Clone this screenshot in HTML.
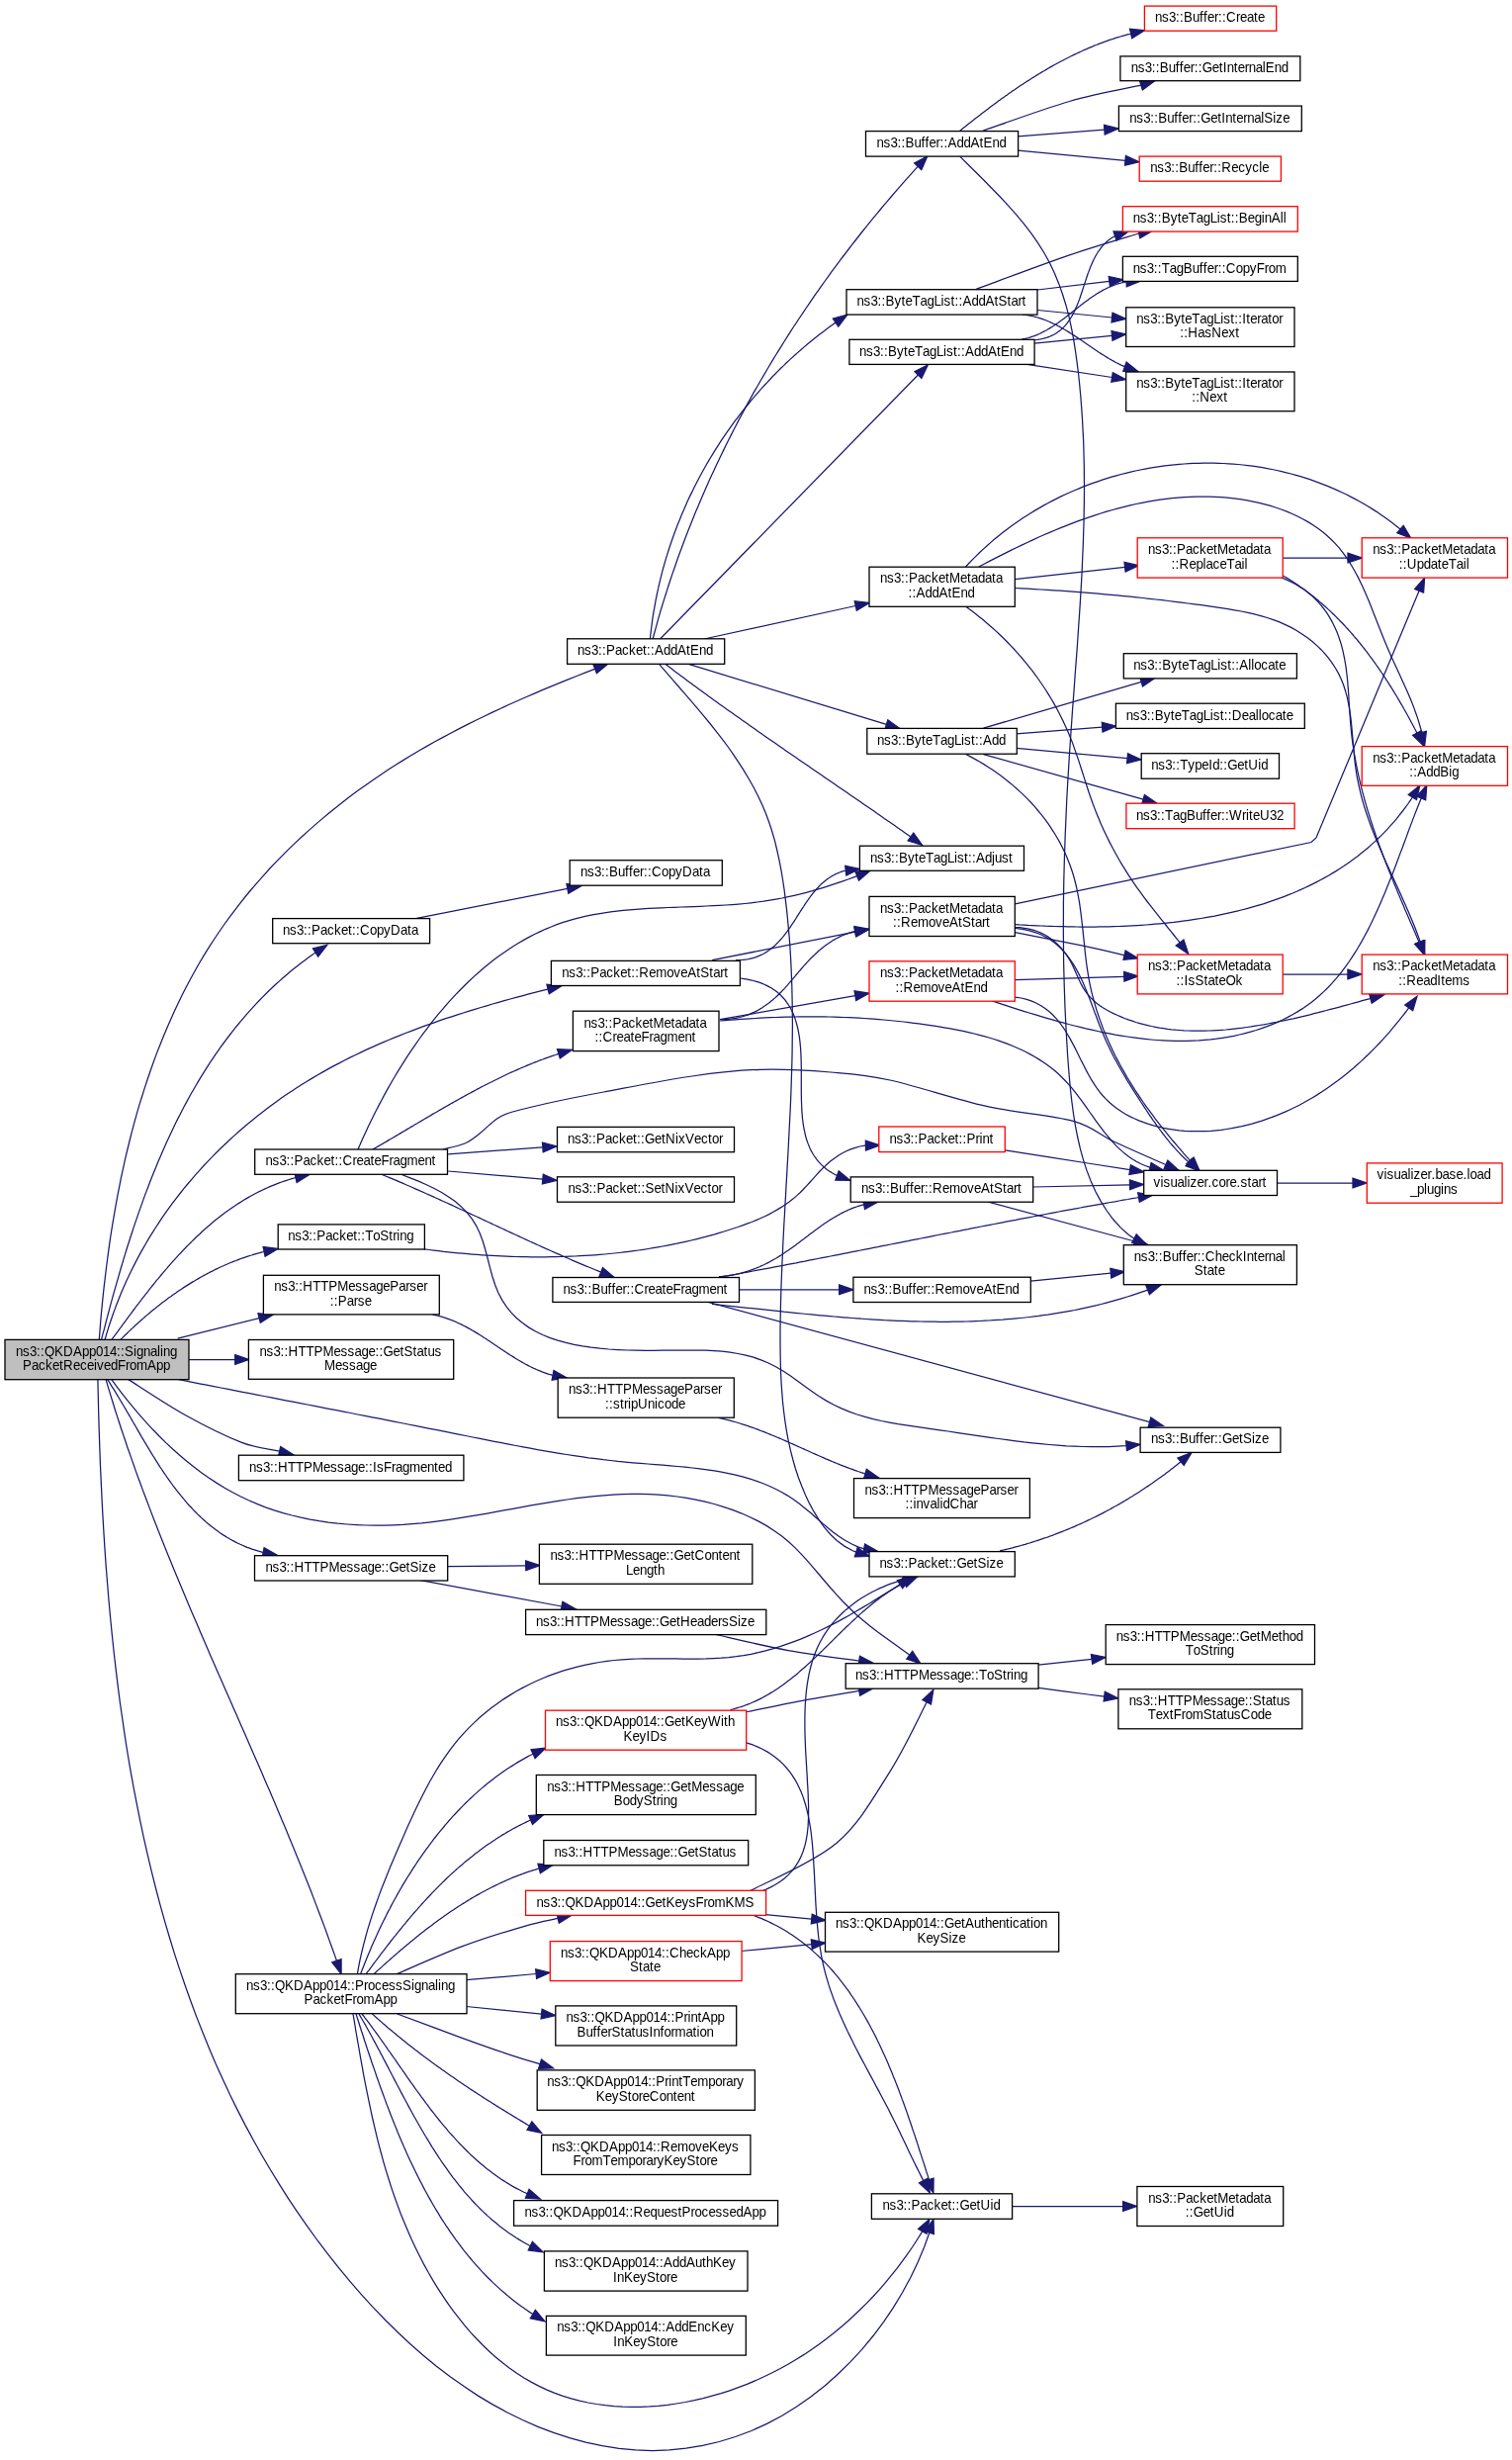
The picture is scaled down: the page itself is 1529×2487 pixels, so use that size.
<!DOCTYPE html>
<html><head><meta charset="utf-8"><style>
html,body{margin:0;padding:0;background:#fff;width:1529px;height:2487px;overflow:hidden}
svg{display:block;will-change:transform}
text{font-family:"Liberation Sans",sans-serif;font-size:13.33px;fill:#000;text-anchor:start}
.e{fill:none;stroke:#191970;stroke-width:1.25}
.a{fill:#191970;stroke:#191970;stroke-width:1.25;stroke-linejoin:miter}
.nb{fill:#fff;stroke:#000;stroke-width:1.3}
.nr{fill:#fff;stroke:#ff0000;stroke-width:1.3}
.ng{fill:#bfbfbf;stroke:#000;stroke-width:1.3}
</style></head><body>
<svg width="1529" height="2487" viewBox="0 0 1529 2487">

<path class="e" d="M660.1,646.0 L661.6,640.5 L663.1,635.1 L664.6,629.6 L666.1,624.2 L667.7,618.7 L669.3,613.3 L671.0,607.9 L672.7,602.5 L674.4,597.1 L676.1,591.7 L677.9,586.3 L679.7,580.9 L681.6,575.5 L683.4,570.2 L685.3,564.8 L687.2,559.5 L689.2,554.2 L691.2,548.8 L693.2,543.5 L695.2,538.2 L697.3,532.9 L699.4,527.7 L701.5,522.4 L703.7,517.1 L705.9,511.9 L708.1,506.7 L710.3,501.4 L712.6,496.2 L714.9,491.0 L717.2,485.8 L719.6,480.6 L722.0,475.5 L724.4,470.3 L726.8,465.2 L729.3,460.0 L731.8,454.9 L734.3,449.8 L736.8,444.7 L739.4,439.6 L742.0,434.5 L744.6,429.5 L747.2,424.4 L749.9,419.4 L752.6,414.4 L755.3,409.4 L758.1,404.4 L760.8,399.4 L763.6,394.4 L766.5,389.5 L769.3,384.5 L772.2,379.6 L775.1,374.7 L778.0,369.8 L780.9,364.9 L783.9,360.0 L786.9,355.1 L789.9,350.3 L792.9,345.5 L796.0,340.6 L799.0,335.8 L802.1,331.0 L805.3,326.3 L808.4,321.5 L811.6,316.8 L814.8,312.0 L818.0,307.3 L821.2,302.6 L824.4,297.9 L827.7,293.3 L831.0,288.6 L834.3,284.0 L837.7,279.3 L841.0,274.7 L844.4,270.2 L847.8,265.6 L851.2,261.0 L854.7,256.5 L858.1,252.0 L861.6,247.4 L865.1,243.0 L868.6,238.5 L872.1,234.0 L875.7,229.6 L879.3,225.1 L882.9,220.7 L886.5,216.4 L890.1,212.0 L893.7,207.6 L897.4,203.3 L901.1,199.0 L904.8,194.7 L908.5,190.4 L912.2,186.1 L916.0,181.9 L919.8,177.6 L923.6,173.4 L927.4,169.2 L928.2,168.3"/>
<polygon class="a" points="937.9,157.8 931.8,171.6 924.6,165.0"/>
<path class="e" d="M657.4,646.0 L657.8,642.0 L658.3,638.0 L658.8,634.0 L659.3,630.1 L659.8,626.1 L660.4,622.2 L661.1,618.2 L661.8,614.3 L662.5,610.3 L663.2,606.4 L664.0,602.5 L664.8,598.6 L665.7,594.7 L666.5,590.8 L667.5,586.9 L668.4,583.1 L669.4,579.2 L670.4,575.4 L671.5,571.5 L672.6,567.7 L673.7,563.9 L674.9,560.1 L676.1,556.3 L677.3,552.5 L678.6,548.7 L679.9,545.0 L681.2,541.2 L682.6,537.5 L684.0,533.8 L685.4,530.1 L686.9,526.4 L688.4,522.7 L689.9,519.0 L691.5,515.4 L693.1,511.8 L694.7,508.1 L696.3,504.5 L698.0,500.9 L699.8,497.4 L701.5,493.8 L703.3,490.3 L705.1,486.7 L706.9,483.2 L708.8,479.7 L710.7,476.3 L712.7,472.8 L714.6,469.3 L716.6,465.9 L718.6,462.5 L720.7,459.1 L722.8,455.7 L724.9,452.4 L727.0,449.1 L729.2,445.7 L731.4,442.4 L733.6,439.2 L735.9,435.9 L738.2,432.7 L740.5,429.4 L742.8,426.2 L745.2,423.1 L747.6,419.9 L750.0,416.8 L752.5,413.6 L755.0,410.5 L757.5,407.5 L760.0,404.4 L762.6,401.4 L765.2,398.4 L767.8,395.4 L770.4,392.4 L773.1,389.5 L775.8,386.6 L778.5,383.7 L781.2,380.8 L784.0,378.0 L786.8,375.1 L789.6,372.3 L792.5,369.6 L795.3,366.8 L798.2,364.1 L801.2,361.4 L804.1,358.7 L807.1,356.1 L810.1,353.5 L813.1,350.9 L816.1,348.3 L819.2,345.8 L822.3,343.3 L825.4,340.8 L828.5,338.3 L831.7,335.9 L834.9,333.5 L838.1,331.1 L841.3,328.8 L844.5,326.4 L845.1,326.1"/>
<polygon class="a" points="856.9,318.0 847.8,330.1 842.3,322.0"/>
<path class="e" d="M667.5,646.0L928.4,379.0"/>
<polygon class="a" points="938.4,368.8 931.9,382.5 924.9,375.6"/>
<path class="e" d="M712.0,646.0L865.2,612.5"/>
<polygon class="a" points="879.2,609.4 866.3,617.2 864.2,607.7"/>
<path class="e" d="M697.1,671.7L896.4,732.4"/>
<polygon class="a" points="910.1,736.6 895.0,737.1 897.8,727.7"/>
<path class="e" d="M673.3,671.7 L675.8,673.6 L678.4,675.5 L680.9,677.5 L683.4,679.4 L686.0,681.3 L688.5,683.2 L691.1,685.1 L693.6,687.0 L696.2,688.9 L698.8,690.8 L701.3,692.7 L703.9,694.6 L706.4,696.4 L709.0,698.3 L711.6,700.2 L714.2,702.1 L716.7,703.9 L719.3,705.8 L721.9,707.7 L724.5,709.5 L727.0,711.4 L729.6,713.2 L732.2,715.1 L734.8,716.9 L737.4,718.8 L740.0,720.6 L742.6,722.5 L745.2,724.3 L747.8,726.1 L750.4,728.0 L753.0,729.8 L755.6,731.6 L758.2,733.5 L760.8,735.3 L763.4,737.1 L766.0,738.9 L768.6,740.7 L771.2,742.6 L773.8,744.4 L776.4,746.2 L779.0,748.0 L781.6,749.8 L784.3,751.6 L786.9,753.4 L789.5,755.3 L792.1,757.1 L794.7,758.9 L797.3,760.7 L800.0,762.5 L802.6,764.3 L805.2,766.1 L807.8,767.9 L810.4,769.7 L813.1,771.5 L815.7,773.3 L818.3,775.1 L820.9,776.9 L823.5,778.7 L826.2,780.5 L828.8,782.3 L831.4,784.1 L834.0,785.9 L836.7,787.7 L839.3,789.5 L841.9,791.3 L844.5,793.1 L847.1,794.9 L849.8,796.7 L852.4,798.5 L855.0,800.3 L857.6,802.1 L860.2,803.9 L862.9,805.7 L865.5,807.5 L868.1,809.3 L870.7,811.1 L873.3,812.9 L876.0,814.7 L878.6,816.5 L881.2,818.3 L883.8,820.1 L886.4,821.9 L889.0,823.7 L891.6,825.5 L894.2,827.4 L896.9,829.2 L899.5,831.0 L902.1,832.8 L904.7,834.6 L907.3,836.4 L909.9,838.3 L912.5,840.1 L915.1,841.9 L917.7,843.7 L920.3,845.6 L920.9,846.0"/>
<polygon class="a" points="932.6,854.3 918.1,850.0 923.8,842.0"/>
<path class="e" d="M666.7,671.7 L673.0,678.9 L679.3,686.2 L685.7,693.5 L692.1,700.9 L698.6,708.3 L705.0,715.8 L711.3,723.4 L717.6,731.0 L723.8,738.8 L729.9,746.6 L735.8,754.5 L741.5,762.6 L747.0,770.8 L752.3,779.1 L757.3,787.5 L762.1,796.0 L766.6,804.7 L770.7,813.5 L774.5,822.5 L777.9,831.7 L780.9,841.0 L783.6,850.4 L785.9,860.0 L788.0,869.6 L789.9,879.3 L791.5,889.0 L793.0,898.8 L794.2,908.6 L795.4,918.4 L796.4,928.2 L797.3,937.9 L798.2,947.6 L798.9,957.4 L799.5,967.1 L800.0,976.8 L800.4,986.5 L800.8,996.1 L801.0,1005.8 L801.2,1015.5 L801.3,1025.1 L801.4,1034.8 L801.3,1044.4 L801.2,1054.0 L801.1,1063.7 L800.9,1073.3 L800.6,1083.0 L800.3,1092.6 L800.0,1102.3 L799.6,1111.9 L799.2,1121.6 L798.7,1131.2 L798.2,1140.9 L797.7,1150.6 L797.2,1160.3 L796.7,1170.0 L796.1,1179.7 L795.6,1189.4 L795.0,1199.1 L794.5,1208.9 L793.9,1218.7 L793.4,1228.5 L792.8,1238.3 L792.3,1248.1 L791.8,1258.0 L791.4,1267.8 L790.9,1277.7 L790.5,1287.7 L790.1,1297.6 L789.8,1307.6 L789.5,1317.6 L789.3,1327.6 L789.1,1337.7 L789.0,1347.8 L789.0,1357.9 L789.1,1368.0 L789.3,1378.0 L789.6,1388.1 L790.1,1398.1 L790.8,1408.1 L791.6,1418.0 L792.7,1427.8 L794.0,1437.6 L795.5,1447.2 L797.3,1456.8 L799.4,1466.2 L801.8,1475.5 L804.4,1484.7 L807.4,1493.8 L810.8,1502.6 L814.5,1511.4 L818.5,1519.9 L823.0,1528.2 L828.0,1536.3 L833.4,1543.9 L839.5,1551.0 L846.3,1557.4 L853.9,1563.1 L862.3,1567.8 L865.8,1569.2"/>
<polygon class="a" points="879.4,1573.5 864.3,1573.9 867.2,1564.5"/>
<path class="e" d="M970.7,132.3 L972.3,131.0 L974.0,129.6 L975.7,128.3 L977.3,127.0 L979.0,125.6 L980.7,124.3 L982.3,123.0 L984.0,121.7 L985.7,120.3 L987.4,119.0 L989.1,117.7 L990.8,116.4 L992.5,115.1 L994.2,113.8 L995.9,112.5 L997.6,111.2 L999.3,109.9 L1001.0,108.6 L1002.7,107.3 L1004.5,106.0 L1006.2,104.7 L1007.9,103.4 L1009.7,102.1 L1011.4,100.9 L1013.2,99.6 L1014.9,98.4 L1016.7,97.1 L1018.5,95.9 L1020.2,94.6 L1022.0,93.4 L1023.8,92.1 L1025.6,90.9 L1027.3,89.7 L1029.1,88.5 L1030.9,87.3 L1032.7,86.1 L1034.5,84.9 L1036.3,83.7 L1038.2,82.5 L1040.0,81.4 L1041.8,80.2 L1043.6,79.0 L1045.5,77.9 L1047.3,76.7 L1049.1,75.6 L1051.0,74.5 L1052.8,73.4 L1054.7,72.3 L1056.6,71.2 L1058.4,70.1 L1060.3,69.0 L1062.2,67.9 L1064.0,66.9 L1065.9,65.8 L1067.8,64.8 L1069.7,63.7 L1071.6,62.7 L1073.5,61.7 L1075.4,60.7 L1077.3,59.7 L1079.3,58.7 L1081.2,57.8 L1083.1,56.8 L1085.0,55.9 L1087.0,54.9 L1088.9,54.0 L1090.9,53.1 L1092.8,52.2 L1094.8,51.3 L1096.7,50.4 L1098.7,49.6 L1100.7,48.7 L1102.7,47.9 L1104.6,47.1 L1106.6,46.2 L1108.6,45.5 L1110.6,44.7 L1112.6,43.9 L1114.6,43.1 L1116.7,42.4 L1118.7,41.7 L1120.7,40.9 L1122.7,40.2 L1124.8,39.6 L1126.8,38.9 L1128.8,38.2 L1130.9,37.6 L1132.9,37.0 L1135.0,36.4 L1137.1,35.8 L1139.1,35.2 L1141.2,34.6 L1143.3,34.1 L1143.6,34.0"/>
<polygon class="a" points="1157.5,30.8 1144.7,38.8 1142.5,29.2"/>
<path class="e" d="M993.8,132.3C1008.4,127.3 1054.8,110.2 1081.5,102.5C1108.2,94.8 1141.8,88.9 1153.8,86.2"/>
<polygon class="a" points="1167.5,82.0 1155.3,90.9 1152.4,81.5"/>
<path class="e" d="M1029.6,137.9L1116.8,131.1"/>
<polygon class="a" points="1131.1,130.0 1117.2,136.0 1116.5,126.2"/>
<path class="e" d="M1029.6,152.1L1138.0,162.4"/>
<polygon class="a" points="1152.2,163.7 1137.5,167.2 1138.4,157.5"/>
<path class="e" d="M970.7,158.1 L978.6,166.0 L986.7,174.0 L995.0,182.2 L1003.3,190.7 L1011.6,199.3 L1019.8,208.1 L1027.8,217.1 L1035.5,226.4 L1042.8,235.8 L1049.6,245.6 L1055.8,255.5 L1061.5,265.7 L1066.4,276.2 L1070.8,286.9 L1074.6,297.7 L1078.0,308.7 L1080.9,319.9 L1083.4,331.2 L1085.6,342.6 L1087.4,354.1 L1089.0,365.7 L1090.5,377.2 L1091.7,388.8 L1092.8,400.5 L1093.7,412.1 L1094.5,423.8 L1095.1,435.4 L1095.7,447.1 L1096.0,458.8 L1096.3,470.5 L1096.4,482.2 L1096.5,494.0 L1096.4,505.7 L1096.2,517.4 L1096.0,529.2 L1095.6,540.9 L1095.2,552.7 L1094.7,564.4 L1094.2,576.2 L1093.6,587.9 L1092.9,599.7 L1092.2,611.4 L1091.4,623.2 L1090.6,634.9 L1089.8,646.7 L1089.0,658.4 L1088.1,670.1 L1087.2,681.8 L1086.4,693.5 L1085.5,705.2 L1084.6,716.9 L1083.8,728.6 L1083.0,740.2 L1082.2,751.8 L1081.4,763.4 L1080.7,775.0 L1080.0,786.6 L1079.3,798.2 L1078.7,809.7 L1078.2,821.3 L1077.7,832.8 L1077.2,844.4 L1076.8,855.9 L1076.4,867.5 L1076.1,879.0 L1075.8,890.6 L1075.6,902.2 L1075.4,913.8 L1075.4,925.4 L1075.3,937.0 L1075.4,948.6 L1075.5,960.3 L1075.6,972.0 L1075.9,983.7 L1076.2,995.5 L1076.6,1007.2 L1077.0,1019.1 L1077.6,1030.9 L1078.2,1042.8 L1078.9,1054.7 L1079.6,1066.7 L1080.5,1078.7 L1081.5,1090.8 L1082.6,1102.8 L1084.0,1114.8 L1085.6,1126.7 L1087.5,1138.4 L1089.8,1150.0 L1092.4,1161.4 L1095.5,1172.6 L1099.0,1183.4 L1103.1,1194.0 L1107.7,1204.2 L1113.0,1214.1 L1118.9,1223.5 L1125.5,1232.5 L1133.0,1240.9 L1141.5,1248.4 L1147.0,1252.2"/>
<polygon class="a" points="1159.7,1258.7 1144.7,1256.5 1149.2,1247.8"/>
<path class="e" d="M987.2,292.3C1002.9,286.6 1054.1,267.3 1081.5,257.9C1108.9,248.5 1140.1,239.6 1151.8,236.0"/>
<polygon class="a" points="1165.8,233.1 1152.8,240.8 1150.8,231.2"/>
<path class="e" d="M1046.9,343.7 L1048.8,343.5 L1050.6,343.2 L1052.4,342.9 L1054.1,342.5 L1055.8,342.1 L1057.4,341.7 L1059.0,341.2 L1060.5,340.6 L1062.0,340.0 L1063.4,339.4 L1064.8,338.7 L1066.2,338.0 L1067.5,337.2 L1068.7,336.4 L1069.9,335.6 L1071.1,334.7 L1072.3,333.8 L1073.4,332.9 L1074.4,331.9 L1075.5,330.9 L1076.5,329.8 L1077.4,328.8 L1078.4,327.7 L1079.3,326.5 L1080.1,325.4 L1081.0,324.2 L1081.8,323.0 L1082.6,321.7 L1083.4,320.5 L1084.1,319.2 L1084.8,317.9 L1085.5,316.6 L1086.2,315.2 L1086.9,313.9 L1087.5,312.5 L1088.1,311.1 L1088.7,309.7 L1089.3,308.3 L1089.9,306.8 L1090.5,305.4 L1091.0,303.9 L1091.6,302.5 L1092.1,301.0 L1092.6,299.5 L1093.1,298.0 L1093.6,296.5 L1094.1,295.0 L1094.6,293.5 L1095.1,292.0 L1095.6,290.4 L1096.1,288.9 L1096.6,287.4 L1097.1,285.9 L1097.6,284.4 L1098.1,282.9 L1098.6,281.3 L1099.1,279.8 L1099.6,278.3 L1100.1,276.8 L1100.7,275.4 L1101.2,273.9 L1101.8,272.4 L1102.3,271.0 L1102.9,269.5 L1103.5,268.1 L1104.1,266.7 L1104.7,265.3 L1105.4,263.9 L1106.0,262.5 L1106.7,261.2 L1107.4,259.8 L1108.1,258.5 L1108.8,257.2 L1109.6,256.0 L1110.4,254.7 L1111.2,253.5 L1112.1,252.3 L1112.9,251.1 L1113.8,250.0 L1114.8,248.9 L1115.7,247.8 L1116.7,246.7 L1117.8,245.7 L1118.8,244.7 L1119.9,243.7 L1121.1,242.8 L1122.3,241.9 L1123.5,241.1 L1124.7,240.3 L1126.0,239.5 L1127.4,238.7 L1127.6,238.7"/>
<polygon class="a" points="1141.1,234.1 1129.1,243.3 1126.0,234.0"/>
<path class="e" d="M1049.1,293.0L1121.8,284.4"/>
<polygon class="a" points="1136.0,282.7 1122.4,289.2 1121.2,279.5"/>
<path class="e" d="M1033.4,343.0 L1034.8,342.7 L1036.1,342.5 L1037.5,342.2 L1038.8,341.8 L1040.1,341.5 L1041.5,341.1 L1042.8,340.7 L1044.1,340.2 L1045.3,339.8 L1046.6,339.3 L1047.9,338.8 L1049.1,338.3 L1050.3,337.8 L1051.6,337.2 L1052.8,336.6 L1054.0,336.0 L1055.2,335.4 L1056.4,334.8 L1057.6,334.2 L1058.8,333.5 L1059.9,332.8 L1061.1,332.1 L1062.2,331.4 L1063.4,330.7 L1064.5,330.0 L1065.7,329.3 L1066.8,328.5 L1067.9,327.7 L1069.0,327.0 L1070.2,326.2 L1071.3,325.4 L1072.4,324.6 L1073.5,323.8 L1074.6,323.0 L1075.7,322.2 L1076.8,321.3 L1077.9,320.5 L1078.9,319.7 L1080.0,318.8 L1081.1,318.0 L1082.2,317.1 L1083.3,316.3 L1084.3,315.4 L1085.4,314.6 L1086.5,313.7 L1087.6,312.9 L1088.7,312.0 L1089.7,311.2 L1090.8,310.3 L1091.9,309.5 L1093.0,308.6 L1094.1,307.8 L1095.1,307.0 L1096.2,306.1 L1097.3,305.3 L1098.4,304.5 L1099.5,303.7 L1100.6,302.9 L1101.7,302.1 L1102.8,301.3 L1103.9,300.5 L1105.0,299.8 L1106.2,299.0 L1107.3,298.3 L1108.4,297.5 L1109.5,296.8 L1110.7,296.1 L1111.8,295.4 L1113.0,294.7 L1114.2,294.1 L1115.3,293.4 L1116.5,292.8 L1117.7,292.2 L1118.9,291.6 L1120.1,291.0 L1121.3,290.5 L1122.5,289.9 L1123.7,289.4 L1125.0,288.9 L1126.2,288.4 L1127.5,288.0 L1128.7,287.5 L1130.0,287.1 L1131.3,286.7 L1132.6,286.4 L1133.9,286.0 L1135.2,285.7 L1136.6,285.4 L1137.9,285.2 L1139.0,285.0"/>
<polygon class="a" points="1153.3,284.2 1139.3,289.9 1138.8,280.1"/>
<path class="e" d="M1049.1,313.5L1124.5,321.0"/>
<polygon class="a" points="1138.7,322.4 1124.0,325.9 1125.0,316.1"/>
<path class="e" d="M1046.1,347.2L1124.5,339.4"/>
<polygon class="a" points="1138.7,338.0 1125.0,344.3 1124.0,334.5"/>
<path class="e" d="M1033.4,318.0 L1034.8,318.1 L1036.2,318.3 L1037.5,318.5 L1038.9,318.7 L1040.2,318.9 L1041.5,319.2 L1042.9,319.4 L1044.2,319.7 L1045.5,320.0 L1046.8,320.3 L1048.1,320.7 L1049.3,321.0 L1050.6,321.4 L1051.9,321.8 L1053.1,322.2 L1054.4,322.6 L1055.6,323.1 L1056.8,323.5 L1058.1,324.0 L1059.3,324.5 L1060.5,325.0 L1061.7,325.5 L1062.9,326.1 L1064.1,326.6 L1065.3,327.2 L1066.4,327.7 L1067.6,328.3 L1068.8,328.9 L1069.9,329.5 L1071.1,330.1 L1072.3,330.7 L1073.4,331.4 L1074.5,332.0 L1075.7,332.7 L1076.8,333.3 L1077.9,334.0 L1079.1,334.7 L1080.2,335.4 L1081.3,336.1 L1082.4,336.8 L1083.5,337.5 L1084.6,338.2 L1085.8,338.9 L1086.9,339.6 L1088.0,340.4 L1089.1,341.1 L1090.2,341.8 L1091.3,342.6 L1092.4,343.3 L1093.5,344.0 L1094.6,344.8 L1095.7,345.5 L1096.7,346.3 L1097.8,347.0 L1098.9,347.8 L1100.0,348.5 L1101.1,349.3 L1102.2,350.0 L1103.3,350.8 L1104.4,351.5 L1105.5,352.3 L1106.6,353.0 L1107.7,353.8 L1108.8,354.5 L1109.9,355.2 L1111.0,356.0 L1112.1,356.7 L1113.2,357.4 L1114.3,358.1 L1115.5,358.8 L1116.6,359.5 L1117.7,360.2 L1118.8,360.9 L1119.9,361.6 L1121.1,362.3 L1122.2,363.0 L1123.4,363.6 L1124.5,364.3 L1125.7,364.9 L1126.8,365.6 L1128.0,366.2 L1129.1,366.8 L1130.3,367.4 L1131.5,368.0 L1132.7,368.6 L1133.9,369.1 L1135.0,369.7 L1136.2,370.2 L1137.4,370.7"/>
<polygon class="a" points="1150.9,375.5 1135.8,375.3 1139.1,366.1"/>
<path class="e" d="M1038.5,368.4L1124.6,381.5"/>
<polygon class="a" points="1138.7,383.6 1123.8,386.3 1125.3,376.6"/>
<path class="e" d="M976.5,573.0 L980.0,569.3 L983.5,565.6 L987.1,562.1 L990.7,558.5 L994.4,555.1 L998.1,551.7 L1001.9,548.4 L1005.7,545.1 L1009.6,541.9 L1013.5,538.8 L1017.5,535.7 L1021.5,532.7 L1025.6,529.8 L1029.7,526.9 L1033.9,524.1 L1038.0,521.4 L1042.3,518.7 L1046.6,516.1 L1050.9,513.6 L1055.2,511.1 L1059.6,508.7 L1064.0,506.4 L1068.5,504.1 L1072.9,501.9 L1077.5,499.8 L1082.0,497.7 L1086.6,495.7 L1091.2,493.8 L1095.8,491.9 L1100.5,490.1 L1105.2,488.4 L1109.9,486.8 L1114.6,485.2 L1119.3,483.7 L1124.1,482.2 L1128.9,480.8 L1133.7,479.5 L1138.5,478.3 L1143.4,477.1 L1148.3,476.0 L1153.1,475.0 L1158.0,474.1 L1162.9,473.2 L1167.8,472.4 L1172.8,471.6 L1177.7,470.9 L1182.6,470.3 L1187.6,469.8 L1192.5,469.4 L1197.5,469.0 L1202.4,468.7 L1207.4,468.4 L1212.4,468.3 L1217.3,468.2 L1222.3,468.1 L1227.3,468.2 L1232.2,468.3 L1237.2,468.5 L1242.1,468.8 L1247.1,469.1 L1252.0,469.5 L1256.9,470.0 L1261.9,470.6 L1266.8,471.2 L1271.7,471.9 L1276.6,472.7 L1281.4,473.6 L1286.3,474.5 L1291.2,475.5 L1296.0,476.6 L1300.8,477.8 L1305.6,479.0 L1310.4,480.3 L1315.1,481.7 L1319.8,483.2 L1324.6,484.7 L1329.2,486.4 L1333.9,488.1 L1338.5,489.8 L1343.1,491.7 L1347.7,493.6 L1352.3,495.6 L1356.8,497.7 L1361.3,499.8 L1365.7,502.1 L1370.1,504.4 L1374.5,506.8 L1378.9,509.3 L1383.2,511.8 L1387.4,514.4 L1391.7,517.1 L1395.9,519.9 L1400.0,522.8 L1404.1,525.7 L1408.2,528.8 L1412.2,531.9 L1416.0,534.9"/>
<polygon class="a" points="1426.9,544.2 1412.8,538.7 1419.2,531.2"/>
<path class="e" d="M989.8,573.0 L995.1,570.2 L1000.5,567.4 L1005.9,564.6 L1011.3,561.9 L1016.8,559.1 L1022.2,556.4 L1027.7,553.7 L1033.2,551.1 L1038.8,548.5 L1044.4,545.9 L1050.0,543.3 L1055.6,540.8 L1061.3,538.4 L1066.9,536.0 L1072.6,533.6 L1078.4,531.3 L1084.1,529.1 L1089.9,526.9 L1095.7,524.8 L1101.5,522.8 L1107.4,520.9 L1113.2,519.0 L1119.1,517.2 L1125.0,515.5 L1131.0,513.8 L1136.9,512.3 L1142.9,510.9 L1148.9,509.5 L1154.9,508.3 L1161.0,507.1 L1167.0,506.1 L1173.1,505.2 L1179.2,504.3 L1185.3,503.7 L1191.5,503.1 L1197.7,502.6 L1203.8,502.3 L1210.0,502.1 L1216.3,502.1 L1222.5,502.1 L1228.8,502.4 L1235.0,502.7 L1241.3,503.2 L1247.5,503.9 L1253.7,504.7 L1259.9,505.7 L1266.0,506.8 L1272.1,508.1 L1278.1,509.6 L1284.0,511.2 L1289.8,513.0 L1295.6,515.0 L1301.3,517.1 L1306.8,519.5 L1312.2,522.0 L1317.5,524.7 L1322.7,527.6 L1327.7,530.8 L1332.5,534.1 L1337.2,537.6 L1341.7,541.3 L1346.0,545.2 L1350.1,549.4 L1354.0,553.7 L1357.7,558.3 L1361.2,563.1 L1364.5,568.1 L1367.6,573.2 L1370.6,578.5 L1373.5,583.9 L1376.2,589.4 L1378.8,595.1 L1381.3,600.8 L1383.8,606.6 L1386.2,612.5 L1388.5,618.4 L1390.8,624.3 L1393.1,630.2 L1395.4,636.1 L1397.8,642.0 L1400.1,647.8 L1402.5,653.5 L1405.0,659.2 L1407.5,664.9 L1410.0,670.4 L1412.6,676.0 L1415.1,681.5 L1417.6,687.0 L1420.1,692.4 L1422.6,697.9 L1425.0,703.4 L1427.3,709.0 L1429.5,714.6 L1431.5,720.2 L1433.5,725.9 L1435.3,731.7 L1437.0,737.6 L1437.6,740.4"/>
<polygon class="a" points="1440.6,754.4 1432.8,741.4 1442.4,739.4"/>
<path class="e" d="M1026.1,585.6L1137.6,573.3"/>
<polygon class="a" points="1151.8,571.7 1138.1,578.1 1137.0,568.4"/>
<path class="e" d="M1026.1,594.5 L1032.8,594.8 L1039.4,595.2 L1046.0,595.6 L1052.5,596.0 L1059.1,596.4 L1065.6,596.8 L1072.1,597.2 L1078.5,597.7 L1085.0,598.2 L1091.4,598.6 L1097.8,599.2 L1104.3,599.7 L1110.7,600.2 L1117.1,600.8 L1123.5,601.4 L1129.9,601.9 L1136.3,602.6 L1142.8,603.2 L1149.2,603.9 L1155.6,604.5 L1162.1,605.3 L1168.6,606.0 L1175.1,606.7 L1181.6,607.5 L1188.1,608.3 L1194.7,609.1 L1201.3,610.0 L1207.9,610.8 L1214.6,611.7 L1221.3,612.7 L1228.1,613.6 L1234.8,614.6 L1241.6,615.6 L1248.4,616.8 L1255.2,618.0 L1261.9,619.4 L1268.5,620.9 L1275.0,622.6 L1281.4,624.5 L1287.7,626.6 L1293.9,628.9 L1299.9,631.6 L1305.7,634.4 L1311.2,637.5 L1316.6,640.9 L1321.8,644.5 L1326.7,648.3 L1331.4,652.4 L1335.9,656.7 L1340.0,661.2 L1343.9,665.9 L1347.5,670.9 L1350.8,676.0 L1353.8,681.4 L1356.4,687.0 L1358.7,692.7 L1360.6,698.7 L1362.3,704.8 L1363.6,711.1 L1364.7,717.5 L1365.7,724.0 L1366.5,730.7 L1367.1,737.3 L1367.7,744.1 L1368.3,750.8 L1368.9,757.6 L1369.5,764.3 L1370.2,771.1 L1371.1,777.7 L1372.1,784.3 L1373.4,790.8 L1374.8,797.2 L1376.3,803.6 L1378.0,809.9 L1379.8,816.1 L1381.8,822.3 L1383.9,828.4 L1386.1,834.5 L1388.4,840.6 L1390.8,846.6 L1393.3,852.6 L1395.8,858.5 L1398.4,864.5 L1401.0,870.4 L1403.7,876.3 L1406.4,882.2 L1409.1,888.1 L1411.8,894.0 L1414.6,900.0 L1417.3,905.9 L1419.9,911.9 L1422.6,917.9 L1425.2,923.9 L1427.7,929.9 L1430.2,936.0 L1432.6,942.2 L1434.9,948.4 L1436.2,952.1"/>
<polygon class="a" points="1440.7,965.7 1431.6,953.7 1440.9,950.6"/>
<path class="e" d="M977.0,613.4 L980.5,616.0 L983.9,618.6 L987.4,621.2 L990.7,623.9 L994.1,626.6 L997.4,629.4 L1000.6,632.2 L1003.8,635.0 L1007.0,637.9 L1010.1,640.8 L1013.2,643.8 L1016.3,646.8 L1019.3,649.8 L1022.2,652.9 L1025.2,656.0 L1028.0,659.1 L1030.9,662.3 L1033.6,665.5 L1036.4,668.8 L1039.1,672.1 L1041.7,675.4 L1044.3,678.7 L1046.8,682.1 L1049.3,685.5 L1051.7,689.0 L1054.1,692.5 L1056.5,696.0 L1058.8,699.6 L1061.0,703.1 L1063.2,706.7 L1065.3,710.4 L1067.4,714.1 L1069.4,717.8 L1071.3,721.5 L1073.2,725.3 L1075.1,729.1 L1076.9,732.9 L1078.6,736.7 L1080.3,740.6 L1081.9,744.5 L1083.5,748.4 L1085.0,752.4 L1086.4,756.4 L1087.8,760.4 L1089.2,764.4 L1090.6,768.4 L1091.9,772.4 L1093.2,776.5 L1094.5,780.5 L1095.8,784.6 L1097.1,788.6 L1098.4,792.6 L1099.7,796.7 L1101.0,800.7 L1102.4,804.7 L1103.8,808.7 L1105.2,812.7 L1106.7,816.6 L1108.2,820.5 L1109.8,824.4 L1111.4,828.3 L1113.0,832.2 L1114.7,836.0 L1116.4,839.8 L1118.2,843.6 L1120.0,847.3 L1121.9,851.1 L1123.8,854.8 L1125.8,858.5 L1127.8,862.2 L1129.8,865.8 L1131.9,869.5 L1134.0,873.1 L1136.2,876.7 L1138.4,880.2 L1140.7,883.8 L1143.0,887.3 L1145.3,890.8 L1147.7,894.3 L1150.1,897.8 L1152.6,901.2 L1155.1,904.7 L1157.6,908.1 L1160.2,911.5 L1162.8,914.9 L1165.4,918.2 L1168.1,921.6 L1170.7,924.9 L1173.4,928.3 L1176.1,931.6 L1178.8,935.0 L1181.4,938.3 L1184.1,941.6 L1186.8,945.0 L1189.5,948.3 L1192.1,951.7 L1193.1,953.0"/>
<polygon class="a" points="1201.8,964.4 1189.2,956.0 1197.0,950.1"/>
<path class="e" d="M1297.3,564.1L1363.0,564.1"/>
<polygon class="a" points="1377.3,564.1 1363.0,569.0 1363.0,559.2"/>
<path class="e" d="M1297.1,581.8 L1299.1,583.0 L1301.1,584.1 L1303.0,585.3 L1305.0,586.6 L1306.9,587.8 L1308.8,589.0 L1310.7,590.3 L1312.6,591.6 L1314.5,592.9 L1316.3,594.2 L1318.2,595.5 L1320.0,596.8 L1321.8,598.2 L1323.6,599.6 L1325.4,600.9 L1327.2,602.3 L1329.0,603.8 L1330.7,605.2 L1332.5,606.6 L1334.2,608.1 L1335.9,609.6 L1337.6,611.0 L1339.3,612.5 L1341.0,614.0 L1342.7,615.6 L1344.4,617.1 L1346.0,618.6 L1347.6,620.2 L1349.3,621.8 L1350.9,623.4 L1352.5,625.0 L1354.1,626.6 L1355.6,628.2 L1357.2,629.8 L1358.8,631.5 L1360.3,633.1 L1361.8,634.8 L1363.4,636.5 L1364.9,638.1 L1366.4,639.8 L1367.9,641.5 L1369.3,643.3 L1370.8,645.0 L1372.3,646.7 L1373.7,648.5 L1375.1,650.2 L1376.6,652.0 L1378.0,653.8 L1379.4,655.5 L1380.8,657.3 L1382.2,659.1 L1383.5,660.9 L1384.9,662.8 L1386.3,664.6 L1387.6,666.4 L1389.0,668.3 L1390.3,670.1 L1391.6,672.0 L1392.9,673.8 L1394.2,675.7 L1395.5,677.6 L1396.8,679.5 L1398.1,681.3 L1399.3,683.2 L1400.6,685.1 L1401.8,687.1 L1403.1,689.0 L1404.3,690.9 L1405.5,692.8 L1406.7,694.7 L1407.9,696.7 L1409.1,698.6 L1410.3,700.6 L1411.5,702.5 L1412.7,704.5 L1413.8,706.4 L1415.0,708.4 L1416.1,710.4 L1417.3,712.3 L1418.4,714.3 L1419.5,716.3 L1420.7,718.3 L1421.8,720.3 L1422.9,722.2 L1424.0,724.2 L1425.1,726.2 L1426.2,728.2 L1427.2,730.2 L1428.3,732.2 L1429.4,734.2 L1430.4,736.2 L1431.5,738.2 L1432.5,740.2 L1432.9,741.0"/>
<polygon class="a" points="1439.4,753.8 1428.6,743.3 1437.3,738.8"/>
<path class="e" d="M1294.8,583.6 L1299.4,585.4 L1303.8,587.4 L1308.0,589.5 L1312.0,591.7 L1315.8,594.1 L1319.5,596.6 L1322.9,599.2 L1326.2,601.9 L1329.3,604.8 L1332.2,607.8 L1335.0,610.8 L1337.6,614.0 L1340.1,617.3 L1342.4,620.6 L1344.5,624.1 L1346.6,627.6 L1348.4,631.2 L1350.2,634.9 L1351.8,638.6 L1353.3,642.4 L1354.6,646.3 L1355.9,650.2 L1357.0,654.2 L1358.0,658.2 L1358.9,662.3 L1359.7,666.3 L1360.4,670.5 L1361.1,674.6 L1361.6,678.8 L1362.1,683.0 L1362.6,687.3 L1362.9,691.5 L1363.3,695.8 L1363.6,700.1 L1363.9,704.4 L1364.1,708.6 L1364.4,712.9 L1364.7,717.2 L1365.0,721.5 L1365.3,725.8 L1365.6,730.1 L1366.0,734.4 L1366.4,738.6 L1366.8,742.8 L1367.3,747.1 L1367.9,751.3 L1368.5,755.5 L1369.1,759.6 L1369.8,763.8 L1370.6,767.9 L1371.3,772.1 L1372.2,776.2 L1373.0,780.3 L1373.9,784.4 L1374.8,788.5 L1375.8,792.6 L1376.8,796.6 L1377.8,800.7 L1378.9,804.7 L1380.0,808.8 L1381.2,812.8 L1382.3,816.8 L1383.5,820.8 L1384.8,824.8 L1386.0,828.8 L1387.3,832.8 L1388.6,836.8 L1390.0,840.8 L1391.3,844.7 L1392.7,848.7 L1394.1,852.6 L1395.6,856.6 L1397.0,860.5 L1398.5,864.5 L1400.0,868.4 L1401.5,872.4 L1403.1,876.3 L1404.6,880.2 L1406.2,884.1 L1407.8,888.1 L1409.4,892.0 L1411.0,895.9 L1412.6,899.8 L1414.2,903.7 L1415.9,907.7 L1417.5,911.6 L1419.2,915.5 L1420.8,919.4 L1422.5,923.3 L1424.2,927.3 L1425.9,931.2 L1427.6,935.1 L1429.3,939.1 L1431.0,943.0 L1432.7,946.9 L1434.4,950.9 L1435.1,952.6"/>
<polygon class="a" points="1440.7,965.7 1430.6,954.5 1439.6,950.6"/>
<path class="e" d="M994.5,736.1L1154.2,689.4"/>
<polygon class="a" points="1167.9,685.4 1155.5,694.1 1152.8,684.7"/>
<path class="e" d="M1027.7,741.9L1114.6,735.2"/>
<polygon class="a" points="1128.9,734.1 1115.0,740.1 1114.3,730.3"/>
<path class="e" d="M1027.7,756.3L1140.1,766.7"/>
<polygon class="a" points="1154.3,768.0 1139.6,771.6 1140.5,761.8"/>
<path class="e" d="M994.5,762.6L1156.0,808.1"/>
<polygon class="a" points="1169.8,812.0 1154.7,812.8 1157.4,803.4"/>
<path class="e" d="M977.0,762.6 L981.7,765.1 L986.3,767.6 L990.9,770.2 L995.3,772.9 L999.7,775.7 L1004.1,778.6 L1008.3,781.6 L1012.5,784.6 L1016.6,787.7 L1020.6,790.9 L1024.5,794.1 L1028.3,797.5 L1032.0,800.9 L1035.7,804.4 L1039.2,807.9 L1042.7,811.5 L1046.1,815.2 L1049.3,819.0 L1052.5,822.8 L1055.5,826.7 L1058.5,830.7 L1061.3,834.7 L1064.0,838.8 L1066.7,843.0 L1069.2,847.2 L1071.6,851.4 L1073.8,855.8 L1076.0,860.2 L1078.0,864.6 L1079.9,869.2 L1081.7,873.7 L1083.3,878.3 L1084.9,883.0 L1086.3,887.8 L1087.5,892.5 L1088.7,897.4 L1089.7,902.3 L1090.6,907.2 L1091.5,912.1 L1092.2,917.1 L1092.9,922.1 L1093.5,927.2 L1094.1,932.2 L1094.7,937.3 L1095.2,942.4 L1095.7,947.4 L1096.3,952.5 L1096.8,957.6 L1097.3,962.7 L1097.9,967.8 L1098.5,972.8 L1099.2,977.8 L1100.0,982.8 L1100.8,987.8 L1101.7,992.8 L1102.7,997.7 L1103.8,1002.6 L1105.0,1007.4 L1106.3,1012.2 L1107.7,1017.0 L1109.1,1021.7 L1110.7,1026.5 L1112.3,1031.1 L1114.0,1035.8 L1115.7,1040.4 L1117.6,1045.0 L1119.5,1049.6 L1121.5,1054.1 L1123.6,1058.6 L1125.7,1063.0 L1127.9,1067.5 L1130.2,1071.9 L1132.5,1076.3 L1134.9,1080.6 L1137.4,1084.9 L1139.9,1089.2 L1142.5,1093.5 L1145.2,1097.8 L1147.8,1102.0 L1150.6,1106.2 L1153.4,1110.3 L1156.2,1114.5 L1159.1,1118.6 L1162.1,1122.7 L1165.1,1126.7 L1168.1,1130.8 L1171.2,1134.8 L1174.3,1138.8 L1177.4,1142.7 L1180.6,1146.7 L1183.8,1150.6 L1187.1,1154.5 L1190.4,1158.4 L1193.7,1162.2 L1197.0,1166.1 L1200.4,1169.9 L1203.6,1173.4"/>
<polygon class="a" points="1213.2,1184.0 1199.9,1176.7 1207.2,1170.1"/>
<path class="e" d="M1026.5,913.8 L1326.0,851.5 L1331.0,847.0 L1435.1,597.3"/>
<polygon class="a" points="1440.6,584.1 1439.6,599.2 1430.6,595.4"/>
<path class="e" d="M1026.5,934.6 L1030.8,934.9 L1035.2,935.1 L1039.6,935.4 L1044.0,935.6 L1048.5,935.8 L1052.9,936.0 L1057.4,936.2 L1061.9,936.3 L1066.4,936.5 L1070.9,936.6 L1075.5,936.7 L1080.0,936.8 L1084.6,936.9 L1089.2,937.0 L1093.8,937.0 L1098.4,937.0 L1103.0,937.0 L1107.6,937.0 L1112.2,936.9 L1116.9,936.9 L1121.5,936.8 L1126.2,936.6 L1130.8,936.5 L1135.5,936.3 L1140.1,936.1 L1144.8,935.9 L1149.5,935.6 L1154.2,935.3 L1158.8,935.0 L1163.5,934.6 L1168.2,934.2 L1172.8,933.8 L1177.5,933.4 L1182.1,932.9 L1186.8,932.4 L1191.4,931.8 L1196.1,931.2 L1200.7,930.6 L1205.3,929.9 L1209.9,929.2 L1214.5,928.5 L1219.1,927.7 L1223.7,926.9 L1228.3,926.1 L1232.8,925.2 L1237.3,924.2 L1241.9,923.2 L1246.4,922.2 L1250.9,921.1 L1255.3,920.0 L1259.8,918.9 L1264.2,917.7 L1268.6,916.4 L1273.0,915.1 L1277.4,913.8 L1281.7,912.4 L1286.0,910.9 L1290.3,909.4 L1294.6,907.9 L1298.8,906.3 L1303.0,904.7 L1307.2,903.0 L1311.3,901.2 L1315.5,899.4 L1319.6,897.5 L1323.6,895.6 L1327.6,893.6 L1331.6,891.6 L1335.6,889.5 L1339.5,887.4 L1343.4,885.2 L1347.3,882.9 L1351.1,880.6 L1354.8,878.2 L1358.6,875.8 L1362.3,873.3 L1365.9,870.7 L1369.5,868.1 L1373.1,865.4 L1376.6,862.6 L1380.1,859.8 L1383.5,856.9 L1386.9,853.9 L1390.3,850.9 L1393.5,847.8 L1396.8,844.6 L1400.0,841.4 L1403.1,838.1 L1406.2,834.7 L1409.2,831.3 L1412.2,827.8 L1415.1,824.2 L1418.0,820.5 L1420.8,816.8 L1423.6,813.0 L1426.3,809.1 L1428.4,806.0"/>
<polygon class="a" points="1435.9,793.8 1432.5,808.5 1424.2,803.4"/>
<path class="e" d="M1026.5,942.6C1037.5,944.8 1074.3,951.9 1092.7,955.7C1111.1,959.5 1129.7,964.0 1137.0,965.7"/>
<polygon class="a" points="1151.0,968.8 1136.0,970.4 1138.1,960.9"/>
<path class="e" d="M1026.5,937.5 L1031.3,937.7 L1035.9,938.3 L1040.4,939.1 L1044.7,940.2 L1048.7,941.5 L1052.6,943.1 L1056.4,945.0 L1059.9,947.1 L1063.3,949.4 L1066.5,951.9 L1069.5,954.7 L1072.4,957.6 L1075.1,960.8 L1077.6,964.1 L1079.9,967.6 L1082.1,971.2 L1084.2,975.0 L1086.0,979.0 L1087.8,983.0 L1089.6,987.0 L1091.4,991.0 L1093.3,994.9 L1095.3,998.6 L1097.6,1002.1 L1100.0,1005.4 L1102.7,1008.4 L1105.6,1011.3 L1108.7,1013.9 L1111.9,1016.4 L1115.3,1018.7 L1118.7,1020.8 L1122.3,1022.7 L1126.0,1024.6 L1129.7,1026.3 L1133.4,1027.9 L1137.2,1029.5 L1141.0,1030.9 L1144.9,1032.2 L1148.7,1033.5 L1152.6,1034.6 L1156.6,1035.7 L1160.5,1036.6 L1164.5,1037.5 L1168.5,1038.3 L1172.5,1039.1 L1176.6,1039.7 L1180.7,1040.3 L1184.8,1040.8 L1188.9,1041.2 L1193.0,1041.5 L1197.2,1041.8 L1201.3,1042.0 L1205.5,1042.1 L1209.7,1042.2 L1213.9,1042.2 L1218.1,1042.1 L1222.3,1042.0 L1226.6,1041.8 L1230.8,1041.6 L1235.1,1041.3 L1239.4,1041.0 L1243.6,1040.6 L1247.9,1040.1 L1252.2,1039.6 L1256.5,1039.1 L1260.8,1038.5 L1265.1,1037.9 L1269.3,1037.2 L1273.6,1036.5 L1277.9,1035.8 L1282.2,1035.0 L1286.5,1034.2 L1290.8,1033.4 L1295.0,1032.5 L1299.3,1031.6 L1303.5,1030.7 L1307.8,1029.8 L1312.0,1028.8 L1316.2,1027.8 L1320.5,1026.8 L1324.7,1025.8 L1328.8,1024.7 L1333.0,1023.7 L1337.2,1022.6 L1341.3,1021.5 L1345.4,1020.4 L1349.5,1019.4 L1353.6,1018.3 L1357.7,1017.2 L1361.7,1016.1 L1365.7,1015.0 L1369.7,1013.9 L1373.7,1012.8 L1377.6,1011.7 L1381.5,1010.6 L1385.4,1009.6 L1385.9,1009.4"/>
<polygon class="a" points="1399.7,1005.7 1387.2,1014.2 1384.6,1004.7"/>
<path class="e" d="M1026.5,938.5 L1030.3,938.9 L1034.0,939.4 L1037.6,940.1 L1041.0,940.8 L1044.3,941.8 L1047.5,942.8 L1050.6,944.0 L1053.5,945.3 L1056.4,946.7 L1059.1,948.2 L1061.7,949.8 L1064.2,951.5 L1066.6,953.3 L1069.0,955.3 L1071.2,957.3 L1073.3,959.4 L1075.4,961.6 L1077.4,963.8 L1079.3,966.2 L1081.1,968.6 L1082.9,971.1 L1084.6,973.6 L1086.2,976.2 L1087.8,978.9 L1089.3,981.6 L1090.8,984.4 L1092.2,987.2 L1093.6,990.1 L1095.0,993.0 L1096.3,995.9 L1097.5,998.9 L1098.8,1001.9 L1100.0,1005.0 L1101.2,1008.0 L1102.4,1011.1 L1103.6,1014.2 L1104.7,1017.3 L1105.9,1020.4 L1107.0,1023.5 L1108.2,1026.6 L1109.4,1029.7 L1110.5,1032.8 L1111.7,1035.9 L1112.9,1038.9 L1114.1,1042.0 L1115.4,1045.0 L1116.6,1048.0 L1117.9,1050.9 L1119.2,1053.9 L1120.6,1056.8 L1122.0,1059.7 L1123.4,1062.5 L1124.8,1065.4 L1126.2,1068.2 L1127.7,1071.0 L1129.2,1073.8 L1130.7,1076.5 L1132.3,1079.3 L1133.8,1082.0 L1135.4,1084.7 L1137.0,1087.4 L1138.6,1090.1 L1140.2,1092.8 L1141.9,1095.4 L1143.5,1098.1 L1145.2,1100.8 L1146.9,1103.4 L1148.6,1106.1 L1150.3,1108.7 L1152.0,1111.4 L1153.7,1114.0 L1155.5,1116.7 L1157.2,1119.3 L1159.0,1122.0 L1160.7,1124.6 L1162.5,1127.3 L1164.3,1129.9 L1166.1,1132.6 L1168.0,1135.2 L1169.8,1137.8 L1171.7,1140.4 L1173.6,1143.0 L1175.5,1145.5 L1177.5,1148.1 L1179.5,1150.6 L1181.5,1153.1 L1183.5,1155.6 L1185.6,1158.0 L1187.7,1160.4 L1189.9,1162.8 L1192.1,1165.2 L1194.3,1167.5 L1196.6,1169.8 L1198.9,1172.0 L1201.3,1174.2 L1202.1,1175.0"/>
<polygon class="a" points="1213.2,1184.0 1199.0,1178.7 1205.2,1171.2"/>
<path class="e" d="M1026.5,990.6L1136.7,987.3"/>
<polygon class="a" points="1151.0,986.9 1136.9,992.2 1136.6,982.4"/>
<path class="e" d="M1026.6,1008.1 L1032.6,1009.0 L1038.2,1010.4 L1043.4,1012.1 L1048.2,1014.2 L1052.7,1016.7 L1056.9,1019.4 L1060.8,1022.5 L1064.4,1025.8 L1067.8,1029.3 L1071.0,1033.1 L1073.9,1037.0 L1076.8,1041.2 L1079.4,1045.5 L1082.0,1049.9 L1084.4,1054.4 L1086.8,1058.9 L1089.1,1063.6 L1091.4,1068.2 L1093.7,1072.9 L1096.1,1077.5 L1098.4,1082.1 L1100.9,1086.7 L1103.4,1091.1 L1106.1,1095.4 L1108.9,1099.6 L1111.8,1103.6 L1115.0,1107.5 L1118.4,1111.1 L1121.9,1114.5 L1125.7,1117.7 L1129.6,1120.7 L1133.7,1123.6 L1138.0,1126.2 L1142.4,1128.6 L1147.0,1130.8 L1151.7,1132.9 L1156.5,1134.7 L1161.4,1136.4 L1166.4,1137.9 L1171.5,1139.2 L1176.7,1140.4 L1181.9,1141.3 L1187.2,1142.1 L1192.5,1142.8 L1197.8,1143.3 L1203.2,1143.6 L1208.6,1143.7 L1213.9,1143.7 L1219.3,1143.6 L1224.6,1143.3 L1229.9,1142.8 L1235.1,1142.3 L1240.4,1141.5 L1245.6,1140.7 L1250.7,1139.7 L1255.9,1138.6 L1261.0,1137.4 L1266.0,1136.1 L1271.0,1134.6 L1276.0,1133.1 L1280.9,1131.4 L1285.7,1129.7 L1290.5,1127.8 L1295.3,1125.9 L1300.0,1123.9 L1304.7,1121.7 L1309.3,1119.5 L1313.9,1117.2 L1318.4,1114.8 L1322.8,1112.3 L1327.3,1109.7 L1331.6,1107.1 L1336.0,1104.3 L1340.2,1101.5 L1344.5,1098.6 L1348.6,1095.6 L1352.8,1092.6 L1356.8,1089.5 L1360.9,1086.3 L1364.8,1083.0 L1368.8,1079.7 L1372.6,1076.3 L1376.5,1072.9 L1380.2,1069.3 L1384.0,1065.8 L1387.6,1062.1 L1391.3,1058.4 L1394.8,1054.7 L1398.4,1050.9 L1401.8,1047.1 L1405.3,1043.2 L1408.6,1039.2 L1411.9,1035.2 L1415.2,1031.2 L1418.4,1027.1 L1421.6,1023.0 L1424.7,1018.8"/>
<polygon class="a" points="1433.0,1007.2 1428.7,1021.7 1420.7,1016.0"/>
<path class="e" d="M1003.2,1012.0 L1008.4,1013.7 L1013.7,1015.4 L1019.0,1017.1 L1024.4,1018.8 L1029.8,1020.6 L1035.3,1022.3 L1040.8,1024.0 L1046.4,1025.7 L1052.0,1027.4 L1057.7,1029.1 L1063.4,1030.7 L1069.1,1032.3 L1074.9,1033.9 L1080.6,1035.5 L1086.5,1037.0 L1092.3,1038.4 L1098.2,1039.9 L1104.1,1041.2 L1110.0,1042.5 L1116.0,1043.8 L1121.9,1044.9 L1127.9,1046.1 L1133.9,1047.1 L1139.9,1048.0 L1145.9,1048.9 L1151.9,1049.7 L1158.0,1050.4 L1164.0,1051.0 L1170.1,1051.5 L1176.1,1051.9 L1182.1,1052.2 L1188.2,1052.4 L1194.2,1052.4 L1200.2,1052.4 L1206.2,1052.2 L1212.2,1051.9 L1218.2,1051.4 L1224.2,1050.9 L1230.1,1050.2 L1236.0,1049.3 L1241.8,1048.4 L1247.6,1047.3 L1253.4,1046.0 L1259.1,1044.6 L1264.7,1043.1 L1270.3,1041.5 L1275.8,1039.7 L1281.3,1037.7 L1286.6,1035.6 L1291.9,1033.4 L1297.1,1031.0 L1302.2,1028.4 L1307.1,1025.7 L1312.0,1022.9 L1316.8,1019.9 L1321.4,1016.7 L1326.0,1013.4 L1330.3,1009.9 L1334.6,1006.2 L1338.8,1002.4 L1342.8,998.5 L1346.7,994.4 L1350.4,990.2 L1354.1,985.8 L1357.6,981.3 L1361.1,976.7 L1364.4,972.0 L1367.6,967.1 L1370.8,962.2 L1373.8,957.2 L1376.8,952.1 L1379.7,946.8 L1382.5,941.6 L1385.2,936.2 L1387.9,930.8 L1390.5,925.3 L1393.0,919.8 L1395.5,914.2 L1397.9,908.6 L1400.3,903.0 L1402.6,897.3 L1404.9,891.6 L1407.2,885.9 L1409.4,880.2 L1411.6,874.5 L1413.7,868.8 L1415.8,863.1 L1418.0,857.4 L1420.1,851.7 L1422.2,846.1 L1424.2,840.5 L1426.3,834.9 L1428.4,829.4 L1430.5,823.9 L1432.6,818.5 L1434.7,813.2 L1436.8,807.9 L1437.2,807.0"/>
<polygon class="a" points="1442.8,793.8 1441.7,808.9 1432.7,805.0"/>
<path class="e" d="M1297.2,985.0L1362.9,985.0"/>
<polygon class="a" points="1377.2,985.0 1362.9,989.9 1362.9,980.1"/>
<path class="e" d="M1291.5,1196.0L1368.0,1196.0"/>
<polygon class="a" points="1382.3,1196.0 1368.0,1200.9 1368.0,1191.1"/>
<path class="e" d="M744.0,970.6 L746.0,970.6 L747.9,970.6 L749.8,970.5 L751.7,970.3 L753.5,970.1 L755.3,969.9 L757.0,969.6 L758.7,969.2 L760.4,968.8 L762.0,968.4 L763.6,967.9 L765.2,967.3 L766.7,966.7 L768.2,966.1 L769.6,965.4 L771.1,964.7 L772.5,964.0 L773.8,963.2 L775.2,962.4 L776.5,961.5 L777.8,960.6 L779.0,959.7 L780.2,958.7 L781.4,957.7 L782.6,956.7 L783.8,955.7 L784.9,954.6 L786.0,953.5 L787.1,952.4 L788.2,951.2 L789.3,950.0 L790.3,948.8 L791.4,947.6 L792.4,946.4 L793.4,945.1 L794.4,943.8 L795.3,942.6 L796.3,941.3 L797.2,939.9 L798.2,938.6 L799.1,937.3 L800.0,935.9 L800.9,934.5 L801.9,933.2 L802.8,931.8 L803.7,930.4 L804.6,929.0 L805.4,927.6 L806.3,926.2 L807.2,924.8 L808.1,923.4 L809.0,922.0 L809.9,920.6 L810.8,919.2 L811.7,917.8 L812.6,916.5 L813.5,915.1 L814.4,913.7 L815.3,912.4 L816.2,911.0 L817.2,909.7 L818.1,908.4 L819.1,907.0 L820.0,905.7 L821.0,904.5 L822.0,903.2 L823.0,902.0 L824.1,900.7 L825.1,899.5 L826.1,898.3 L827.2,897.2 L828.3,896.0 L829.4,894.9 L830.5,893.8 L831.7,892.8 L832.9,891.7 L834.1,890.7 L835.3,889.8 L836.5,888.8 L837.8,887.9 L839.1,887.1 L840.4,886.2 L841.8,885.4 L843.2,884.7 L844.6,883.9 L846.0,883.2 L847.5,882.6 L849.0,882.0 L850.6,881.4 L852.1,880.9 L853.7,880.5 L855.3,880.1"/>
<polygon class="a" points="869.5,878.5 855.8,885.0 854.7,875.2"/>
<path class="e" d="M720.2,970.6L864.9,942.2"/>
<polygon class="a" points="878.9,939.4 865.8,947.0 863.9,937.4"/>
<path class="e" d="M749.3,989.1 L752.7,989.6 L755.9,990.1 L759.0,990.8 L762.0,991.5 L764.9,992.3 L767.7,993.2 L770.3,994.2 L772.9,995.2 L775.3,996.4 L777.7,997.6 L779.9,998.8 L782.0,1000.2 L784.0,1001.6 L786.0,1003.1 L787.8,1004.7 L789.6,1006.3 L791.2,1008.0 L792.8,1009.7 L794.3,1011.5 L795.6,1013.4 L797.0,1015.3 L798.2,1017.3 L799.4,1019.3 L800.4,1021.3 L801.5,1023.5 L802.4,1025.6 L803.3,1027.8 L804.1,1030.1 L804.8,1032.4 L805.5,1034.7 L806.1,1037.0 L806.7,1039.4 L807.2,1041.9 L807.7,1044.3 L808.1,1046.8 L808.5,1049.3 L808.8,1051.9 L809.1,1054.5 L809.3,1057.0 L809.6,1059.7 L809.7,1062.3 L809.9,1064.9 L810.0,1067.6 L810.1,1070.3 L810.2,1073.0 L810.2,1075.7 L810.3,1078.4 L810.3,1081.1 L810.3,1083.9 L810.3,1086.6 L810.3,1089.3 L810.3,1092.1 L810.3,1094.8 L810.3,1097.6 L810.3,1100.3 L810.3,1103.0 L810.3,1105.8 L810.4,1108.5 L810.4,1111.2 L810.5,1113.9 L810.6,1116.6 L810.7,1119.2 L810.8,1121.9 L811.0,1124.5 L811.2,1127.1 L811.4,1129.7 L811.7,1132.3 L812.0,1134.8 L812.4,1137.3 L812.8,1139.8 L813.3,1142.3 L813.8,1144.7 L814.3,1147.1 L814.9,1149.5 L815.6,1151.8 L816.4,1154.1 L817.2,1156.4 L818.1,1158.6 L819.0,1160.8 L820.0,1162.9 L821.2,1165.0 L822.3,1167.0 L823.6,1169.0 L825.0,1170.9 L826.4,1172.8 L827.9,1174.6 L829.6,1176.4 L831.3,1178.1 L833.1,1179.8 L835.1,1181.4 L837.1,1182.9 L839.3,1184.4 L841.5,1185.8 L843.9,1187.2 L846.4,1188.4 L846.5,1188.5"/>
<polygon class="a" points="859.9,1193.5 844.8,1193.1 848.2,1183.9"/>
<path class="e" d="M728.1,1030.6 L730.2,1030.6 L732.3,1030.6 L734.4,1030.5 L736.4,1030.3 L738.4,1030.1 L740.4,1029.9 L742.3,1029.6 L744.2,1029.3 L746.1,1028.9 L748.0,1028.5 L749.8,1028.0 L751.6,1027.5 L753.3,1027.0 L755.1,1026.4 L756.8,1025.8 L758.5,1025.1 L760.1,1024.4 L761.8,1023.7 L763.4,1022.9 L765.0,1022.1 L766.5,1021.3 L768.1,1020.4 L769.6,1019.5 L771.1,1018.6 L772.5,1017.6 L774.0,1016.6 L775.4,1015.6 L776.9,1014.5 L778.3,1013.4 L779.6,1012.3 L781.0,1011.2 L782.3,1010.1 L783.7,1008.9 L785.0,1007.7 L786.3,1006.5 L787.6,1005.2 L788.8,1004.0 L790.1,1002.7 L791.3,1001.4 L792.6,1000.1 L793.8,998.8 L795.0,997.4 L796.2,996.1 L797.4,994.7 L798.6,993.4 L799.8,992.0 L800.9,990.6 L802.1,989.2 L803.3,987.8 L804.5,986.4 L805.6,985.0 L806.8,983.6 L808.0,982.2 L809.2,980.8 L810.3,979.5 L811.5,978.1 L812.7,976.7 L813.9,975.3 L815.2,974.0 L816.4,972.7 L817.6,971.3 L818.9,970.0 L820.1,968.7 L821.4,967.5 L822.7,966.2 L824.0,965.0 L825.3,963.7 L826.6,962.5 L827.9,961.3 L829.3,960.2 L830.7,959.0 L832.0,957.9 L833.5,956.8 L834.9,955.7 L836.3,954.7 L837.8,953.7 L839.2,952.7 L840.7,951.7 L842.2,950.8 L843.8,949.9 L845.3,949.0 L846.9,948.2 L848.5,947.4 L850.1,946.6 L851.8,945.8 L853.4,945.1 L855.1,944.4 L856.8,943.8 L858.6,943.2 L860.3,942.7 L862.1,942.1 L863.9,941.7 L864.8,941.5"/>
<polygon class="a" points="878.9,939.4 865.5,946.3 864.0,936.6"/>
<path class="e" d="M728.1,1030.6L864.8,1006.7"/>
<polygon class="a" points="878.9,1004.2 865.7,1011.5 864.0,1001.8"/>
<path class="e" d="M728.1,1032.0 L733.2,1031.6 L738.4,1031.2 L743.5,1030.8 L748.6,1030.4 L753.7,1030.1 L758.8,1029.8 L763.8,1029.5 L768.9,1029.2 L773.9,1028.9 L779.0,1028.7 L784.0,1028.5 L789.0,1028.3 L794.0,1028.2 L799.0,1028.1 L804.0,1028.0 L809.0,1027.9 L814.0,1027.8 L819.0,1027.8 L824.0,1027.8 L829.0,1027.9 L833.9,1027.9 L838.9,1028.0 L843.9,1028.2 L848.9,1028.3 L853.8,1028.5 L858.8,1028.7 L863.8,1028.9 L868.8,1029.2 L873.8,1029.5 L878.8,1029.8 L883.8,1030.2 L888.8,1030.6 L893.8,1031.0 L898.8,1031.5 L903.8,1032.0 L908.9,1032.5 L913.9,1033.0 L918.9,1033.6 L924.0,1034.3 L929.1,1034.9 L934.2,1035.6 L939.3,1036.3 L944.4,1037.1 L949.5,1037.9 L954.6,1038.8 L959.8,1039.7 L964.9,1040.6 L970.0,1041.6 L975.1,1042.7 L980.2,1043.8 L985.2,1045.0 L990.2,1046.3 L995.2,1047.6 L1000.2,1049.0 L1005.1,1050.5 L1010.0,1052.1 L1014.8,1053.8 L1019.5,1055.6 L1024.2,1057.5 L1028.8,1059.5 L1033.4,1061.5 L1037.9,1063.7 L1042.3,1066.1 L1046.6,1068.5 L1050.8,1071.1 L1054.9,1073.7 L1058.9,1076.6 L1062.9,1079.5 L1066.7,1082.6 L1070.4,1085.8 L1073.9,1089.2 L1077.4,1092.8 L1080.7,1096.4 L1084.0,1100.2 L1087.2,1104.1 L1090.2,1108.1 L1093.3,1112.1 L1096.2,1116.2 L1099.2,1120.4 L1102.1,1124.5 L1105.1,1128.7 L1108.0,1132.8 L1111.0,1136.9 L1114.0,1140.9 L1117.0,1144.8 L1120.2,1148.7 L1123.4,1152.5 L1126.7,1156.1 L1130.0,1159.6 L1133.6,1162.9 L1137.2,1166.1 L1141.0,1169.0 L1145.0,1171.7 L1149.1,1174.3 L1153.4,1176.5 L1158.0,1178.5 L1162.7,1180.2 L1163.0,1180.3"/>
<polygon class="a" points="1177.0,1183.3 1162.0,1185.1 1164.1,1175.5"/>
<path class="e" d="M362.0,1162.0 L364.4,1156.4 L366.9,1150.8 L369.5,1145.2 L372.1,1139.5 L374.8,1133.9 L377.6,1128.2 L380.5,1122.5 L383.4,1116.9 L386.4,1111.2 L389.4,1105.6 L392.6,1099.9 L395.8,1094.3 L399.0,1088.7 L402.4,1083.2 L405.8,1077.6 L409.3,1072.1 L412.8,1066.7 L416.5,1061.2 L420.2,1055.8 L423.9,1050.5 L427.8,1045.2 L431.7,1040.0 L435.6,1034.8 L439.7,1029.7 L443.8,1024.7 L448.0,1019.8 L452.2,1014.9 L456.5,1010.1 L460.9,1005.4 L465.4,1000.7 L469.9,996.2 L474.5,991.8 L479.2,987.4 L483.9,983.2 L488.7,979.1 L493.6,975.0 L498.5,971.1 L503.5,967.3 L508.6,963.7 L513.7,960.2 L518.9,956.8 L524.2,953.5 L529.6,950.4 L535.0,947.4 L540.5,944.5 L546.0,941.9 L551.6,939.3 L557.3,937.0 L563.1,934.7 L568.9,932.7 L574.7,930.8 L580.7,929.1 L586.7,927.6 L592.8,926.2 L598.9,924.9 L605.1,923.8 L611.3,922.8 L617.6,921.9 L623.9,921.1 L630.2,920.4 L636.6,919.8 L643.0,919.3 L649.4,918.8 L655.9,918.4 L662.4,918.1 L668.9,917.8 L675.4,917.5 L681.9,917.3 L688.4,917.0 L694.9,916.8 L701.5,916.6 L708.0,916.3 L714.5,916.0 L721.0,915.7 L727.5,915.4 L734.0,915.0 L740.4,914.6 L746.8,914.1 L753.2,913.5 L759.6,912.8 L765.9,912.0 L772.2,911.2 L778.5,910.2 L784.7,909.1 L790.9,908.0 L797.0,906.7 L803.2,905.3 L809.3,903.9 L815.4,902.3 L821.4,900.7 L827.5,898.9 L833.5,897.1 L839.5,895.2 L845.5,893.2 L851.5,891.2 L857.5,889.0 L863.5,886.8 L866.7,885.6"/>
<polygon class="a" points="880.0,880.3 868.5,890.1 864.9,881.0"/>
<path class="e" d="M377.0,1162.0 L379.0,1160.9 L380.9,1159.8 L382.9,1158.6 L384.8,1157.5 L386.8,1156.4 L388.7,1155.2 L390.7,1154.1 L392.6,1152.9 L394.6,1151.8 L396.5,1150.7 L398.5,1149.5 L400.4,1148.4 L402.4,1147.2 L404.3,1146.1 L406.3,1144.9 L408.2,1143.7 L410.2,1142.6 L412.1,1141.4 L414.1,1140.3 L416.0,1139.1 L418.0,1138.0 L419.9,1136.8 L421.9,1135.7 L423.8,1134.5 L425.8,1133.4 L427.7,1132.2 L429.7,1131.0 L431.7,1129.9 L433.6,1128.7 L435.6,1127.6 L437.5,1126.4 L439.5,1125.3 L441.5,1124.2 L443.4,1123.0 L445.4,1121.9 L447.4,1120.7 L449.3,1119.6 L451.3,1118.5 L453.3,1117.4 L455.2,1116.2 L457.2,1115.1 L459.2,1114.0 L461.2,1112.9 L463.2,1111.8 L465.1,1110.7 L467.1,1109.6 L469.1,1108.5 L471.1,1107.4 L473.1,1106.3 L475.1,1105.2 L477.1,1104.1 L479.1,1103.1 L481.1,1102.0 L483.1,1100.9 L485.1,1099.9 L487.1,1098.8 L489.1,1097.8 L491.1,1096.7 L493.1,1095.7 L495.2,1094.7 L497.2,1093.7 L499.2,1092.7 L501.2,1091.7 L503.3,1090.7 L505.3,1089.7 L507.3,1088.7 L509.4,1087.7 L511.4,1086.8 L513.5,1085.8 L515.5,1084.8 L517.6,1083.9 L519.7,1083.0 L521.7,1082.1 L523.8,1081.1 L525.9,1080.2 L527.9,1079.3 L530.0,1078.5 L532.1,1077.6 L534.2,1076.7 L536.3,1075.9 L538.4,1075.0 L540.5,1074.2 L542.6,1073.4 L544.7,1072.5 L546.8,1071.7 L548.9,1071.0 L551.1,1070.2 L553.2,1069.4 L555.3,1068.7 L557.5,1067.9 L559.6,1067.2 L561.8,1066.5 L563.9,1065.7 L564.9,1065.4"/>
<polygon class="a" points="578.6,1061.3 566.3,1070.1 563.5,1060.7"/>
<path class="e" d="M453.1,1166.8L548.8,1159.9"/>
<polygon class="a" points="563.1,1158.9 549.2,1164.8 548.5,1155.0"/>
<path class="e" d="M453.1,1184.0L548.9,1192.1"/>
<polygon class="a" points="563.1,1193.3 548.4,1197.0 549.3,1187.2"/>
<path class="e" d="M448.0,1162.0C451.7,1161.0 463.8,1158.7 470.0,1156.0C476.2,1153.3 480.0,1149.8 485.0,1146.0C490.0,1142.2 495.0,1136.5 500.0,1133.0C505.0,1129.5 505.2,1128.2 515.2,1125.0C525.2,1121.8 544.1,1117.5 560.0,1114.0C575.9,1110.5 587.2,1108.3 610.5,1104.0C633.8,1099.7 673.5,1091.8 700.0,1088.0C726.5,1084.2 745.9,1082.0 769.2,1081.3C792.5,1080.6 818.2,1082.2 840.0,1084.0C861.8,1085.8 873.9,1086.3 900.0,1092.0C926.1,1097.7 965.8,1111.3 996.5,1118.2C1027.2,1125.1 1062.8,1127.2 1084.4,1133.2C1106.0,1139.2 1110.3,1146.6 1126.1,1154.0C1141.9,1161.4 1170.1,1173.6 1178.9,1177.5"/>
<polygon class="a" points="1192.0,1183.3 1176.9,1182.0 1180.9,1173.0"/>
<path class="e" d="M386.3,1187.5 L388.7,1188.5 L391.1,1189.5 L393.4,1190.4 L395.8,1191.4 L398.2,1192.4 L400.6,1193.4 L402.9,1194.4 L405.3,1195.4 L407.7,1196.4 L410.0,1197.5 L412.4,1198.5 L414.8,1199.5 L417.1,1200.5 L419.5,1201.6 L421.8,1202.6 L424.2,1203.6 L426.5,1204.7 L428.9,1205.7 L431.2,1206.8 L433.6,1207.8 L435.9,1208.9 L438.3,1209.9 L440.6,1211.0 L443.0,1212.0 L445.3,1213.1 L447.7,1214.2 L450.0,1215.2 L452.3,1216.3 L454.7,1217.4 L457.0,1218.4 L459.4,1219.5 L461.7,1220.6 L464.0,1221.7 L466.4,1222.8 L468.7,1223.8 L471.0,1224.9 L473.4,1226.0 L475.7,1227.1 L478.0,1228.2 L480.4,1229.3 L482.7,1230.3 L485.0,1231.4 L487.4,1232.5 L489.7,1233.6 L492.0,1234.7 L494.4,1235.8 L496.7,1236.9 L499.0,1238.0 L501.4,1239.0 L503.7,1240.1 L506.0,1241.2 L508.4,1242.3 L510.7,1243.4 L513.0,1244.5 L515.4,1245.6 L517.7,1246.6 L520.0,1247.7 L522.4,1248.8 L524.7,1249.9 L527.1,1251.0 L529.4,1252.0 L531.7,1253.1 L534.1,1254.2 L536.4,1255.3 L538.8,1256.3 L541.1,1257.4 L543.4,1258.5 L545.8,1259.5 L548.1,1260.6 L550.5,1261.6 L552.8,1262.7 L555.2,1263.7 L557.5,1264.8 L559.9,1265.8 L562.2,1266.9 L564.6,1267.9 L566.9,1268.9 L569.3,1270.0 L571.6,1271.0 L574.0,1272.0 L576.4,1273.0 L578.7,1274.1 L581.1,1275.1 L583.5,1276.1 L585.8,1277.1 L588.2,1278.1 L590.6,1279.1 L592.9,1280.1 L595.3,1281.0 L597.7,1282.0 L600.1,1283.0 L602.5,1284.0 L604.8,1284.9 L607.2,1285.9 L607.7,1286.1"/>
<polygon class="a" points="621.0,1291.3 605.9,1290.6 609.5,1281.5"/>
<path class="e" d="M406.2,1187.5 L414.8,1190.8 L423.2,1194.2 L431.3,1197.7 L439.1,1201.5 L446.6,1205.5 L453.6,1209.9 L460.2,1214.6 L466.4,1219.9 L472.0,1225.6 L477.0,1231.9 L481.4,1238.8 L485.1,1246.5 L488.2,1254.8 L490.8,1263.5 L493.2,1272.5 L495.5,1281.6 L497.9,1290.5 L500.7,1299.0 L503.9,1307.0 L507.8,1314.4 L512.2,1321.1 L517.1,1327.2 L522.6,1332.7 L528.5,1337.6 L534.9,1342.1 L541.6,1346.0 L548.8,1349.5 L556.3,1352.6 L564.1,1355.2 L572.2,1357.4 L580.5,1359.3 L589.0,1360.9 L597.7,1362.2 L606.6,1363.2 L615.6,1364.0 L624.7,1364.6 L633.8,1365.0 L642.9,1365.2 L652.1,1365.3 L661.2,1365.3 L670.2,1365.2 L679.1,1365.1 L687.9,1365.0 L696.6,1365.0 L705.1,1365.0 L713.6,1365.2 L721.9,1365.6 L730.1,1366.2 L738.2,1367.2 L746.2,1368.5 L754.1,1370.1 L761.9,1372.2 L769.5,1374.8 L777.1,1378.0 L784.5,1381.7 L791.8,1386.0 L799.1,1390.8 L806.3,1395.9 L813.5,1401.2 L820.8,1406.4 L828.1,1411.5 L835.6,1416.1 L843.2,1420.3 L850.9,1423.9 L858.7,1427.2 L866.7,1430.0 L874.8,1432.4 L883.0,1434.6 L891.2,1436.5 L899.5,1438.1 L907.9,1439.6 L916.4,1440.9 L924.8,1442.2 L933.3,1443.4 L941.8,1444.6 L950.3,1445.8 L958.8,1447.0 L967.3,1448.3 L975.8,1449.6 L984.4,1450.8 L992.9,1452.1 L1001.4,1453.3 L1009.9,1454.5 L1018.4,1455.7 L1027.0,1456.8 L1035.5,1457.9 L1044.0,1458.8 L1052.6,1459.7 L1061.1,1460.5 L1069.6,1461.2 L1078.2,1461.8 L1086.8,1462.2 L1095.3,1462.5 L1103.9,1462.7 L1112.5,1462.7 L1121.0,1462.6 L1129.6,1462.2 L1138.2,1461.7 L1139.1,1461.6"/>
<polygon class="a" points="1153.3,1460.3 1139.5,1466.5 1138.6,1456.7"/>
<path class="e" d="M429.2,1262.9 L434.0,1263.5 L438.9,1264.1 L443.7,1264.7 L448.5,1265.3 L453.4,1265.8 L458.3,1266.3 L463.2,1266.8 L468.0,1267.2 L472.9,1267.7 L477.8,1268.1 L482.7,1268.4 L487.7,1268.8 L492.6,1269.1 L497.5,1269.4 L502.4,1269.7 L507.4,1269.9 L512.3,1270.1 L517.2,1270.3 L522.2,1270.5 L527.1,1270.6 L532.1,1270.7 L537.0,1270.8 L542.0,1270.8 L546.9,1270.8 L551.9,1270.8 L556.9,1270.7 L561.8,1270.7 L566.8,1270.5 L571.7,1270.4 L576.7,1270.2 L581.6,1270.0 L586.6,1269.7 L591.5,1269.4 L596.5,1269.1 L601.4,1268.8 L606.4,1268.4 L611.3,1268.0 L616.2,1267.5 L621.2,1267.0 L626.1,1266.5 L631.0,1265.9 L635.9,1265.3 L640.8,1264.7 L645.7,1264.0 L650.6,1263.3 L655.5,1262.5 L660.3,1261.7 L665.2,1260.9 L670.1,1260.0 L674.9,1259.1 L679.7,1258.2 L684.6,1257.2 L689.4,1256.1 L694.2,1255.1 L699.0,1254.0 L703.8,1252.8 L708.5,1251.6 L713.3,1250.4 L718.0,1249.1 L722.8,1247.8 L727.5,1246.4 L732.2,1245.0 L736.9,1243.5 L741.5,1242.0 L746.2,1240.5 L750.8,1238.9 L755.4,1237.2 L760.0,1235.5 L764.5,1233.6 L768.9,1231.7 L773.3,1229.7 L777.7,1227.6 L781.9,1225.3 L786.1,1222.9 L790.2,1220.4 L794.2,1217.8 L798.1,1215.0 L801.9,1212.1 L805.6,1208.9 L809.1,1205.7 L812.5,1202.2 L815.9,1198.6 L819.2,1195.0 L822.5,1191.3 L825.8,1187.6 L829.1,1184.0 L832.5,1180.6 L836.1,1177.2 L839.7,1174.1 L843.5,1171.2 L847.4,1168.4 L851.5,1166.0 L855.8,1163.8 L860.2,1161.9 L864.8,1160.3 L869.6,1159.0 L874.6,1158.2 L875.4,1158.1"/>
<polygon class="a" points="889.7,1157.8 875.5,1163.0 875.3,1153.2"/>
<path class="e" d="M1016.5,1162.9C1030.4,1165.1 1079.0,1172.7 1100.0,1176.0C1121.0,1179.3 1135.6,1181.5 1142.7,1182.6"/>
<polygon class="a" points="1156.8,1184.8 1141.9,1187.5 1143.4,1177.8"/>
<path class="e" d="M1044.7,1200.0L1142.5,1197.8"/>
<polygon class="a" points="1156.8,1197.5 1142.6,1202.7 1142.4,1192.9"/>
<path class="e" d="M999.4,1215.2L1147.5,1255.0"/>
<polygon class="a" points="1161.3,1258.7 1146.2,1259.7 1148.8,1250.3"/>
<path class="e" d="M727.0,1290.7 L729.0,1290.6 L730.9,1290.4 L732.8,1290.2 L734.7,1290.0 L736.6,1289.7 L738.5,1289.4 L740.3,1289.1 L742.1,1288.7 L744.0,1288.4 L745.8,1288.0 L747.6,1287.6 L749.3,1287.1 L751.1,1286.6 L752.9,1286.2 L754.6,1285.6 L756.3,1285.1 L758.0,1284.5 L759.7,1283.9 L761.4,1283.3 L763.1,1282.7 L764.7,1282.0 L766.4,1281.4 L768.0,1280.7 L769.6,1279.9 L771.2,1279.2 L772.8,1278.5 L774.4,1277.7 L776.0,1276.9 L777.6,1276.1 L779.1,1275.2 L780.7,1274.4 L782.2,1273.5 L783.7,1272.7 L785.3,1271.8 L786.8,1270.9 L788.3,1269.9 L789.8,1269.0 L791.3,1268.0 L792.8,1267.1 L794.2,1266.1 L795.7,1265.1 L797.2,1264.1 L798.6,1263.1 L800.1,1262.0 L801.5,1261.0 L802.9,1260.0 L804.4,1258.9 L805.8,1257.8 L807.2,1256.8 L808.6,1255.7 L810.1,1254.6 L811.5,1253.5 L812.9,1252.5 L814.3,1251.4 L815.8,1250.3 L817.2,1249.2 L818.6,1248.1 L820.0,1247.0 L821.4,1246.0 L822.9,1244.9 L824.3,1243.8 L825.8,1242.8 L827.2,1241.7 L828.6,1240.7 L830.1,1239.6 L831.6,1238.6 L833.0,1237.6 L834.5,1236.6 L836.0,1235.6 L837.5,1234.6 L839.0,1233.6 L840.5,1232.6 L842.0,1231.7 L843.5,1230.8 L845.1,1229.9 L846.6,1229.0 L848.2,1228.1 L849.7,1227.2 L851.3,1226.4 L852.9,1225.6 L854.5,1224.8 L856.1,1224.1 L857.8,1223.3 L859.4,1222.6 L861.1,1221.9 L862.8,1221.2 L864.5,1220.6 L866.2,1220.0 L867.9,1219.4 L869.7,1218.9 L871.4,1218.4 L873.2,1217.9 L873.6,1217.8"/>
<polygon class="a" points="887.7,1215.3 874.5,1222.6 872.8,1213.0"/>
<path class="e" d="M731.0,1290.7 L735.4,1289.9 L739.7,1289.1 L744.1,1288.3 L748.4,1287.5 L752.8,1286.7 L757.2,1285.9 L761.5,1285.0 L765.9,1284.2 L770.2,1283.4 L774.6,1282.6 L778.9,1281.8 L783.3,1280.9 L787.7,1280.1 L792.0,1279.3 L796.4,1278.4 L800.7,1277.6 L805.1,1276.8 L809.4,1275.9 L813.8,1275.1 L818.1,1274.2 L822.5,1273.4 L826.9,1272.5 L831.2,1271.7 L835.6,1270.8 L839.9,1270.0 L844.3,1269.1 L848.6,1268.3 L853.0,1267.4 L857.3,1266.6 L861.7,1265.7 L866.0,1264.9 L870.4,1264.0 L874.7,1263.2 L879.1,1262.3 L883.4,1261.4 L887.8,1260.6 L892.1,1259.7 L896.5,1258.9 L900.8,1258.0 L905.2,1257.1 L909.5,1256.3 L913.9,1255.4 L918.3,1254.6 L922.6,1253.7 L927.0,1252.8 L931.3,1252.0 L935.7,1251.1 L940.0,1250.3 L944.4,1249.4 L948.7,1248.5 L953.1,1247.7 L957.4,1246.8 L961.8,1246.0 L966.1,1245.1 L970.5,1244.3 L974.8,1243.4 L979.2,1242.6 L983.5,1241.7 L987.9,1240.9 L992.2,1240.0 L996.6,1239.2 L1001.0,1238.3 L1005.3,1237.5 L1009.7,1236.6 L1014.0,1235.8 L1018.4,1234.9 L1022.7,1234.1 L1027.1,1233.3 L1031.4,1232.4 L1035.8,1231.6 L1040.2,1230.8 L1044.5,1230.0 L1048.9,1229.1 L1053.2,1228.3 L1057.6,1227.5 L1061.9,1226.7 L1066.3,1225.9 L1070.7,1225.0 L1075.0,1224.2 L1079.4,1223.4 L1083.7,1222.6 L1088.1,1221.8 L1092.5,1221.0 L1096.8,1220.2 L1101.2,1219.4 L1105.5,1218.7 L1109.9,1217.9 L1114.3,1217.1 L1118.6,1216.3 L1123.0,1215.5 L1127.4,1214.8 L1131.7,1214.0 L1136.1,1213.2 L1140.5,1212.5 L1144.8,1211.7 L1149.2,1211.0 L1151.5,1210.6"/>
<polygon class="a" points="1165.6,1208.2 1152.3,1215.4 1150.7,1205.8"/>
<path class="e" d="M747.0,1303.8L848.6,1303.8"/>
<polygon class="a" points="862.9,1303.8 848.6,1308.7 848.6,1298.9"/>
<path class="e" d="M720.0,1318.3 L724.5,1318.8 L729.0,1319.3 L733.6,1319.8 L738.1,1320.3 L742.6,1320.8 L747.2,1321.3 L751.7,1321.8 L756.3,1322.3 L760.8,1322.7 L765.4,1323.2 L770.0,1323.7 L774.5,1324.2 L779.1,1324.7 L783.7,1325.2 L788.3,1325.7 L792.8,1326.2 L797.4,1326.6 L802.0,1327.1 L806.6,1327.6 L811.2,1328.0 L815.8,1328.5 L820.4,1328.9 L825.0,1329.4 L829.6,1329.8 L834.2,1330.2 L838.8,1330.6 L843.4,1331.0 L848.1,1331.4 L852.7,1331.8 L857.3,1332.1 L861.9,1332.5 L866.5,1332.8 L871.1,1333.2 L875.8,1333.5 L880.4,1333.8 L885.0,1334.1 L889.6,1334.3 L894.2,1334.6 L898.9,1334.8 L903.5,1335.1 L908.1,1335.3 L912.7,1335.4 L917.3,1335.6 L921.9,1335.8 L926.6,1335.9 L931.2,1336.0 L935.8,1336.1 L940.4,1336.2 L945.0,1336.2 L949.6,1336.3 L954.2,1336.3 L958.9,1336.3 L963.5,1336.2 L968.1,1336.1 L972.7,1336.1 L977.3,1336.0 L981.9,1335.8 L986.5,1335.6 L991.0,1335.5 L995.6,1335.2 L1000.2,1335.0 L1004.8,1334.7 L1009.4,1334.4 L1014.0,1334.1 L1018.5,1333.7 L1023.1,1333.3 L1027.7,1332.9 L1032.2,1332.5 L1036.8,1332.0 L1041.3,1331.5 L1045.9,1330.9 L1050.4,1330.4 L1054.9,1329.7 L1059.5,1329.1 L1064.0,1328.4 L1068.5,1327.7 L1073.0,1326.9 L1077.6,1326.1 L1082.1,1325.3 L1086.6,1324.5 L1091.0,1323.6 L1095.5,1322.6 L1100.0,1321.6 L1104.5,1320.6 L1109.0,1319.6 L1113.4,1318.5 L1117.9,1317.3 L1122.3,1316.1 L1126.8,1314.9 L1131.2,1313.7 L1135.6,1312.4 L1140.0,1311.0 L1144.4,1309.6 L1148.8,1308.2 L1153.2,1306.7 L1157.6,1305.2 L1160.6,1304.1"/>
<polygon class="a" points="1174.0,1299.0 1162.4,1308.6 1158.9,1299.5"/>
<path class="e" d="M716.0,1316.4L1162.5,1437.7"/>
<polygon class="a" points="1176.3,1441.5 1161.2,1442.5 1163.8,1433.0"/>
<path class="e" d="M1042.2,1295.2L1123.3,1287.1"/>
<polygon class="a" points="1137.5,1285.7 1123.8,1292.0 1122.8,1282.2"/>
<path class="e" d="M421.4,928.3L573.9,898.4"/>
<polygon class="a" points="587.9,895.7 574.8,903.3 572.9,893.6"/>
<path class="e" d="M437.6,1329.1 L439.1,1329.4 L440.7,1329.7 L442.2,1330.1 L443.7,1330.4 L445.2,1330.8 L446.6,1331.2 L448.1,1331.7 L449.6,1332.1 L451.0,1332.6 L452.4,1333.1 L453.9,1333.6 L455.3,1334.1 L456.7,1334.7 L458.1,1335.2 L459.5,1335.8 L460.9,1336.4 L462.2,1337.0 L463.6,1337.6 L465.0,1338.3 L466.3,1338.9 L467.7,1339.6 L469.0,1340.3 L470.3,1340.9 L471.7,1341.6 L473.0,1342.4 L474.3,1343.1 L475.6,1343.8 L476.9,1344.6 L478.2,1345.3 L479.5,1346.1 L480.8,1346.9 L482.1,1347.6 L483.4,1348.4 L484.6,1349.2 L485.9,1350.0 L487.2,1350.8 L488.5,1351.7 L489.7,1352.5 L491.0,1353.3 L492.2,1354.1 L493.5,1355.0 L494.8,1355.8 L496.0,1356.6 L497.3,1357.5 L498.5,1358.3 L499.8,1359.2 L501.0,1360.0 L502.3,1360.8 L503.5,1361.7 L504.8,1362.5 L506.1,1363.4 L507.3,1364.2 L508.6,1365.1 L509.8,1365.9 L511.1,1366.7 L512.3,1367.6 L513.6,1368.4 L514.9,1369.2 L516.1,1370.0 L517.4,1370.8 L518.7,1371.6 L520.0,1372.4 L521.2,1373.2 L522.5,1374.0 L523.8,1374.8 L525.1,1375.5 L526.4,1376.3 L527.7,1377.1 L529.0,1377.8 L530.3,1378.5 L531.6,1379.2 L533.0,1379.9 L534.3,1380.6 L535.6,1381.3 L537.0,1382.0 L538.3,1382.6 L539.7,1383.3 L541.1,1383.9 L542.4,1384.5 L543.8,1385.1 L545.2,1385.7 L546.6,1386.2 L548.0,1386.8 L549.4,1387.3 L550.9,1387.8 L552.3,1388.3 L553.7,1388.8 L555.2,1389.3 L556.6,1389.7 L558.1,1390.1 L559.0,1390.3"/>
<polygon class="a" points="573.1,1393.0 558.1,1395.2 560.0,1385.5"/>
<path class="e" d="M726.3,1433.3 L728.0,1433.7 L729.7,1434.1 L731.4,1434.4 L733.1,1434.9 L734.8,1435.3 L736.5,1435.7 L738.2,1436.1 L739.9,1436.6 L741.6,1437.1 L743.2,1437.5 L744.9,1438.0 L746.6,1438.5 L748.2,1439.0 L749.9,1439.6 L751.6,1440.1 L753.2,1440.6 L754.9,1441.2 L756.5,1441.7 L758.1,1442.3 L759.8,1442.9 L761.4,1443.4 L763.1,1444.0 L764.7,1444.6 L766.3,1445.2 L767.9,1445.8 L769.6,1446.5 L771.2,1447.1 L772.8,1447.7 L774.4,1448.4 L776.0,1449.0 L777.6,1449.7 L779.2,1450.3 L780.9,1451.0 L782.5,1451.6 L784.1,1452.3 L785.7,1453.0 L787.3,1453.7 L788.9,1454.3 L790.5,1455.0 L792.1,1455.7 L793.7,1456.4 L795.3,1457.1 L796.8,1457.8 L798.4,1458.5 L800.0,1459.2 L801.6,1459.9 L803.2,1460.6 L804.8,1461.3 L806.4,1462.1 L808.0,1462.8 L809.6,1463.5 L811.2,1464.2 L812.8,1464.9 L814.3,1465.6 L815.9,1466.3 L817.5,1467.0 L819.1,1467.8 L820.7,1468.5 L822.3,1469.2 L823.9,1469.9 L825.5,1470.6 L827.1,1471.3 L828.7,1472.0 L830.3,1472.7 L831.9,1473.4 L833.5,1474.1 L835.0,1474.8 L836.6,1475.4 L838.2,1476.1 L839.9,1476.8 L841.5,1477.5 L843.1,1478.2 L844.7,1478.8 L846.3,1479.5 L847.9,1480.1 L849.5,1480.8 L851.1,1481.4 L852.7,1482.1 L854.4,1482.7 L856.0,1483.3 L857.6,1483.9 L859.2,1484.5 L860.9,1485.1 L862.5,1485.7 L864.1,1486.3 L865.8,1486.9 L867.4,1487.5 L869.1,1488.0 L870.7,1488.6 L872.4,1489.1 L874.0,1489.7 L875.0,1489.9"/>
<polygon class="a" points="888.7,1493.9 873.6,1494.7 876.3,1485.2"/>
<path class="e" d="M452.4,1583.6L531.7,1582.8"/>
<polygon class="a" points="546.0,1582.6 531.8,1587.7 531.6,1577.9"/>
<path class="e" d="M423.9,1597.4L568.0,1624.0"/>
<polygon class="a" points="582.1,1626.6 567.1,1628.8 568.9,1619.2"/>
<path class="e" d="M723.9,1652.5C736.1,1655.2 773.0,1664.2 797.1,1668.6C821.2,1673.0 856.8,1677.3 868.7,1679.0"/>
<polygon class="a" points="882.9,1681.1 868.0,1683.9 869.5,1674.2"/>
<path class="e" d="M1011.0,1567.9 L1013.2,1567.4 L1015.3,1566.9 L1017.5,1566.4 L1019.6,1565.9 L1021.8,1565.3 L1023.9,1564.8 L1026.1,1564.2 L1028.2,1563.6 L1030.3,1563.1 L1032.5,1562.5 L1034.6,1561.9 L1036.7,1561.3 L1038.8,1560.6 L1041.0,1560.0 L1043.1,1559.3 L1045.2,1558.7 L1047.3,1558.0 L1049.4,1557.3 L1051.5,1556.6 L1053.6,1555.9 L1055.7,1555.2 L1057.8,1554.5 L1059.8,1553.8 L1061.9,1553.0 L1064.0,1552.3 L1066.1,1551.5 L1068.1,1550.7 L1070.2,1549.9 L1072.2,1549.1 L1074.3,1548.3 L1076.3,1547.5 L1078.4,1546.7 L1080.4,1545.9 L1082.4,1545.0 L1084.5,1544.1 L1086.5,1543.3 L1088.5,1542.4 L1090.5,1541.5 L1092.5,1540.6 L1094.6,1539.7 L1096.6,1538.8 L1098.6,1537.9 L1100.5,1536.9 L1102.5,1536.0 L1104.5,1535.0 L1106.5,1534.0 L1108.5,1533.1 L1110.4,1532.1 L1112.4,1531.1 L1114.4,1530.1 L1116.3,1529.1 L1118.3,1528.0 L1120.2,1527.0 L1122.2,1526.0 L1124.1,1524.9 L1126.0,1523.8 L1127.9,1522.8 L1129.9,1521.7 L1131.8,1520.6 L1133.7,1519.5 L1135.6,1518.4 L1137.5,1517.3 L1139.4,1516.1 L1141.3,1515.0 L1143.1,1513.8 L1145.0,1512.7 L1146.9,1511.5 L1148.8,1510.3 L1150.6,1509.2 L1152.5,1508.0 L1154.3,1506.8 L1156.2,1505.6 L1158.0,1504.3 L1159.8,1503.1 L1161.7,1501.9 L1163.5,1500.6 L1165.3,1499.4 L1167.1,1498.1 L1168.9,1496.8 L1170.7,1495.6 L1172.5,1494.3 L1174.3,1493.0 L1176.1,1491.7 L1177.9,1490.4 L1179.6,1489.0 L1181.4,1487.7 L1183.1,1486.4 L1184.9,1485.0 L1186.6,1483.7 L1188.4,1482.3 L1190.1,1480.9 L1191.8,1479.6 L1193.6,1478.2 L1194.0,1477.8"/>
<polygon class="a" points="1205.0,1468.6 1197.2,1481.5 1190.9,1474.0"/>
<path class="e" d="M1050.0,1683.2L1104.0,1677.4"/>
<polygon class="a" points="1118.2,1675.5 1104.7,1682.2 1103.4,1672.5"/>
<path class="e" d="M1050.0,1706.4C1058.3,1707.5 1088.9,1711.5 1100.0,1713.0C1111.1,1714.5 1113.9,1714.8 1116.7,1715.2"/>
<polygon class="a" points="1130.9,1717.0 1116.1,1720.0 1117.3,1710.3"/>
<path class="e" d="M1023.6,2230.5L1135.6,2230.5"/>
<polygon class="a" points="1149.9,2230.5 1135.6,2235.4 1135.6,2225.6"/>
<path class="e" d="M738.6,1728.6 L741.0,1728.0 L743.3,1727.4 L745.6,1726.7 L747.9,1726.0 L750.2,1725.3 L752.4,1724.5 L754.6,1723.7 L756.8,1722.8 L759.0,1722.0 L761.1,1721.0 L763.3,1720.1 L765.4,1719.1 L767.5,1718.1 L769.5,1717.1 L771.6,1716.0 L773.6,1714.9 L775.6,1713.7 L777.6,1712.6 L779.6,1711.4 L781.6,1710.2 L783.5,1709.0 L785.5,1707.7 L787.4,1706.4 L789.3,1705.1 L791.2,1703.8 L793.0,1702.4 L794.9,1701.0 L796.7,1699.6 L798.6,1698.2 L800.4,1696.8 L802.2,1695.3 L804.0,1693.9 L805.8,1692.4 L807.6,1690.9 L809.3,1689.3 L811.1,1687.8 L812.9,1686.3 L814.6,1684.7 L816.3,1683.1 L818.1,1681.6 L819.8,1680.0 L821.5,1678.4 L823.2,1676.7 L824.9,1675.1 L826.6,1673.5 L828.3,1671.9 L830.0,1670.2 L831.7,1668.6 L833.4,1666.9 L835.1,1665.3 L836.8,1663.6 L838.5,1661.9 L840.2,1660.3 L841.9,1658.6 L843.6,1656.9 L845.2,1655.3 L846.9,1653.6 L848.6,1652.0 L850.3,1650.3 L852.0,1648.6 L853.7,1647.0 L855.4,1645.3 L857.1,1643.7 L858.8,1642.1 L860.6,1640.4 L862.3,1638.8 L864.0,1637.2 L865.8,1635.6 L867.5,1634.0 L869.3,1632.4 L871.0,1630.9 L872.8,1629.3 L874.6,1627.8 L876.4,1626.2 L878.2,1624.7 L880.0,1623.2 L881.8,1621.7 L883.7,1620.3 L885.5,1618.8 L887.4,1617.4 L889.2,1616.0 L891.1,1614.6 L893.0,1613.2 L894.9,1611.9 L896.9,1610.5 L898.8,1609.2 L900.8,1608.0 L902.8,1606.7 L904.8,1605.5 L906.8,1604.3 L908.8,1603.1 L910.9,1601.9 L913.0,1600.8 L914.5,1600.0"/>
<polygon class="a" points="927.5,1594.0 916.6,1604.5 912.5,1595.6"/>
<path class="e" d="M754.6,1730.7C764.7,1728.7 796.0,1722.1 815.0,1718.6C834.0,1715.1 859.8,1710.9 868.8,1709.4"/>
<polygon class="a" points="882.9,1707.0 869.6,1714.2 868.0,1704.6"/>
<path class="e" d="M754.6,1761.8 L760.4,1763.7 L765.8,1765.9 L770.9,1768.3 L775.7,1770.9 L780.2,1773.7 L784.3,1776.8 L788.2,1780.0 L791.8,1783.4 L795.1,1787.0 L798.2,1790.7 L801.0,1794.6 L803.6,1798.7 L806.0,1802.8 L808.1,1807.2 L810.1,1811.6 L811.9,1816.1 L813.4,1820.8 L814.9,1825.5 L816.1,1830.4 L817.3,1835.3 L818.2,1840.3 L819.1,1845.3 L819.9,1850.4 L820.5,1855.5 L821.1,1860.7 L821.6,1865.9 L822.0,1871.1 L822.4,1876.3 L822.7,1881.5 L823.0,1886.7 L823.3,1891.9 L823.6,1897.1 L823.8,1902.2 L824.1,1907.4 L824.3,1912.5 L824.6,1917.6 L824.8,1922.7 L825.1,1927.8 L825.5,1932.9 L825.8,1938.0 L826.2,1943.0 L826.7,1948.0 L827.2,1953.1 L827.7,1958.0 L828.4,1963.0 L829.1,1968.0 L829.9,1972.9 L830.7,1977.8 L831.7,1982.7 L832.8,1987.6 L834.0,1992.5 L835.3,1997.3 L836.7,2002.1 L838.1,2006.9 L839.7,2011.7 L841.4,2016.4 L843.1,2021.2 L845.0,2025.9 L846.9,2030.6 L848.8,2035.3 L850.9,2040.0 L853.0,2044.7 L855.1,2049.3 L857.3,2054.0 L859.6,2058.6 L861.9,2063.2 L864.2,2067.9 L866.5,2072.5 L868.9,2077.1 L871.3,2081.6 L873.8,2086.2 L876.2,2090.8 L878.7,2095.4 L881.1,2099.9 L883.6,2104.5 L886.0,2109.1 L888.5,2113.6 L890.9,2118.2 L893.3,2122.7 L895.7,2127.3 L898.1,2131.8 L900.4,2136.4 L902.7,2141.0 L905.0,2145.5 L907.2,2150.1 L909.4,2154.6 L911.6,2159.2 L913.8,2163.7 L916.0,2168.3 L918.2,2172.9 L920.3,2177.4 L922.5,2182.0 L924.7,2186.5 L927.0,2191.1 L929.2,2195.6 L931.5,2200.1 L933.7,2204.5"/>
<polygon class="a" points="940.4,2217.1 929.4,2206.8 938.0,2202.2"/>
<path class="e" d="M770.7,1911.8 L775.2,1909.9 L779.4,1907.9 L783.3,1905.8 L787.0,1903.5 L790.4,1901.2 L793.6,1898.7 L796.5,1896.1 L799.1,1893.4 L801.6,1890.6 L803.8,1887.7 L805.8,1884.7 L807.7,1881.6 L809.3,1878.4 L810.8,1875.1 L812.1,1871.8 L813.2,1868.3 L814.2,1864.8 L815.0,1861.3 L815.7,1857.6 L816.3,1854.0 L816.7,1850.2 L817.1,1846.4 L817.3,1842.5 L817.5,1838.6 L817.6,1834.7 L817.6,1830.7 L817.6,1826.7 L817.5,1822.7 L817.3,1818.6 L817.2,1814.5 L817.0,1810.4 L816.8,1806.2 L816.5,1802.1 L816.3,1797.9 L816.1,1793.8 L815.8,1789.6 L815.6,1785.4 L815.3,1781.2 L815.1,1777.0 L814.8,1772.8 L814.6,1768.6 L814.4,1764.5 L814.3,1760.3 L814.1,1756.1 L814.0,1751.9 L813.9,1747.8 L813.9,1743.6 L813.9,1739.5 L813.9,1735.4 L814.0,1731.3 L814.1,1727.3 L814.3,1723.2 L814.6,1719.2 L814.9,1715.2 L815.2,1711.2 L815.7,1707.3 L816.2,1703.4 L816.8,1699.6 L817.5,1695.7 L818.2,1691.9 L819.1,1688.2 L820.0,1684.5 L821.0,1680.8 L822.1,1677.2 L823.4,1673.7 L824.7,1670.2 L826.1,1666.7 L827.7,1663.3 L829.4,1660.0 L831.2,1656.7 L833.1,1653.4 L835.1,1650.3 L837.3,1647.2 L839.5,1644.2 L841.9,1641.2 L844.4,1638.3 L847.0,1635.5 L849.8,1632.7 L852.6,1630.0 L855.5,1627.4 L858.5,1624.9 L861.6,1622.5 L864.8,1620.1 L868.0,1617.8 L871.4,1615.6 L874.8,1613.5 L878.3,1611.5 L881.9,1609.5 L885.5,1607.7 L889.2,1605.9 L893.0,1604.3 L896.8,1602.7 L900.7,1601.2 L904.6,1599.8 L908.6,1598.6 L912.6,1597.4 L913.9,1597.0"/>
<polygon class="a" points="927.9,1593.9 915.0,1601.8 912.9,1592.2"/>
<path class="e" d="M758.2,1911.8C772.8,1903.8 822.2,1883.5 845.7,1863.6C869.2,1843.6 884.1,1815.9 899.3,1792.1C914.5,1768.3 930.9,1732.7 937.2,1720.8"/>
<polygon class="a" points="943.9,1708.2 941.5,1723.1 932.9,1718.5"/>
<path class="e" d="M774.3,1935.7L820.8,1940.1"/>
<polygon class="a" points="835.0,1941.4 820.3,1944.9 821.2,1935.2"/>
<path class="e" d="M760.0,1935.7 L763.4,1937.0 L766.8,1938.3 L770.2,1939.6 L773.5,1941.1 L776.7,1942.5 L779.9,1944.1 L783.1,1945.7 L786.2,1947.3 L789.3,1949.0 L792.3,1950.7 L795.3,1952.5 L798.2,1954.4 L801.1,1956.3 L803.9,1958.2 L806.7,1960.2 L809.5,1962.2 L812.2,1964.3 L814.9,1966.4 L817.6,1968.6 L820.2,1970.8 L822.7,1973.1 L825.3,1975.4 L827.8,1977.7 L830.2,1980.1 L832.6,1982.5 L835.0,1984.9 L837.4,1987.4 L839.7,1989.9 L842.0,1992.5 L844.2,1995.1 L846.4,1997.7 L848.6,2000.4 L850.7,2003.1 L852.8,2005.8 L854.9,2008.6 L857.0,2011.4 L859.0,2014.2 L860.9,2017.1 L862.9,2020.0 L864.8,2022.9 L866.7,2025.8 L868.6,2028.8 L870.4,2031.8 L872.2,2034.8 L874.0,2037.8 L875.8,2040.9 L877.5,2043.9 L879.2,2047.0 L880.9,2050.2 L882.5,2053.3 L884.2,2056.5 L885.8,2059.6 L887.3,2062.8 L888.9,2066.0 L890.4,2069.3 L891.9,2072.5 L893.4,2075.8 L894.9,2079.0 L896.4,2082.3 L897.8,2085.6 L899.2,2088.9 L900.6,2092.2 L902.0,2095.5 L903.3,2098.9 L904.7,2102.2 L906.0,2105.6 L907.3,2108.9 L908.6,2112.3 L909.8,2115.6 L911.1,2119.0 L912.3,2122.4 L913.6,2125.7 L914.8,2129.1 L916.0,2132.5 L917.2,2135.9 L918.4,2139.2 L919.5,2142.6 L920.7,2146.0 L921.8,2149.3 L922.9,2152.7 L924.1,2156.1 L925.2,2159.4 L926.3,2162.8 L927.4,2166.1 L928.5,2169.4 L929.5,2172.7 L930.6,2176.1 L931.7,2179.4 L932.7,2182.6 L933.8,2185.9 L934.9,2189.2 L935.9,2192.4 L936.9,2195.7 L938.0,2198.9 L939.0,2202.1 L939.5,2203.5"/>
<polygon class="a" points="943.9,2217.1 934.8,2205.0 944.1,2202.0"/>
<path class="e" d="M749.3,1972.5L820.8,1965.7"/>
<polygon class="a" points="835.0,1964.3 821.2,1970.5 820.3,1960.8"/>
<path class="e" d="M100.3,1354.2 L101.0,1345.2 L101.7,1336.2 L102.5,1327.2 L103.4,1318.1 L104.3,1309.1 L105.3,1299.9 L106.4,1290.8 L107.5,1281.7 L108.7,1272.5 L109.9,1263.3 L111.2,1254.2 L112.6,1245.0 L114.1,1235.8 L115.7,1226.6 L117.3,1217.4 L119.0,1208.2 L120.8,1199.1 L122.6,1189.9 L124.6,1180.8 L126.6,1171.7 L128.8,1162.5 L131.0,1153.5 L133.3,1144.4 L135.7,1135.4 L138.2,1126.4 L140.8,1117.4 L143.6,1108.5 L146.4,1099.6 L149.3,1090.8 L152.3,1082.0 L155.4,1073.3 L158.6,1064.6 L162.0,1055.9 L165.4,1047.4 L169.0,1038.9 L172.7,1030.4 L176.5,1022.0 L180.4,1013.7 L184.4,1005.5 L188.6,997.3 L192.9,989.2 L197.3,981.2 L201.8,973.3 L206.5,965.4 L211.3,957.7 L216.3,950.0 L221.3,942.5 L226.5,935.0 L231.8,927.6 L237.3,920.3 L242.9,913.1 L248.5,906.0 L254.3,899.0 L260.3,892.1 L266.3,885.3 L272.4,878.5 L278.7,871.9 L285.1,865.4 L291.5,858.9 L298.1,852.6 L304.8,846.3 L311.6,840.1 L318.4,834.1 L325.4,828.1 L332.4,822.2 L339.6,816.4 L346.8,810.7 L354.2,805.1 L361.6,799.6 L369.1,794.2 L376.6,788.9 L384.3,783.7 L392.0,778.6 L399.8,773.5 L407.7,768.6 L415.6,763.8 L423.6,759.0 L431.7,754.4 L439.8,749.8 L448.0,745.4 L456.2,741.0 L464.5,736.6 L472.8,732.4 L481.1,728.2 L489.5,724.2 L498.0,720.1 L506.4,716.2 L514.9,712.3 L523.4,708.5 L531.9,704.8 L540.4,701.1 L548.9,697.4 L557.5,693.9 L566.0,690.4 L574.6,686.9 L583.1,683.5 L591.6,680.1 L600.1,676.8 L601.7,676.2"/>
<polygon class="a" points="615.0,671.1 603.4,680.8 599.9,671.7"/>
<path class="e" d="M102.6,1354.2 L103.7,1349.7 L104.9,1345.3 L106.1,1340.8 L107.2,1336.3 L108.4,1331.8 L109.6,1327.3 L110.8,1322.8 L112.0,1318.3 L113.3,1313.7 L114.5,1309.2 L115.8,1304.7 L117.1,1300.2 L118.4,1295.6 L119.7,1291.1 L121.0,1286.5 L122.3,1282.0 L123.7,1277.5 L125.0,1272.9 L126.4,1268.4 L127.8,1263.8 L129.2,1259.3 L130.7,1254.7 L132.1,1250.2 L133.6,1245.7 L135.1,1241.1 L136.6,1236.6 L138.2,1232.1 L139.7,1227.6 L141.3,1223.1 L142.9,1218.6 L144.5,1214.1 L146.1,1209.6 L147.8,1205.1 L149.5,1200.7 L151.2,1196.2 L152.9,1191.8 L154.7,1187.3 L156.5,1182.9 L158.3,1178.5 L160.1,1174.1 L162.0,1169.7 L163.9,1165.3 L165.8,1161.0 L167.7,1156.6 L169.7,1152.3 L171.7,1148.0 L173.7,1143.7 L175.7,1139.4 L177.8,1135.1 L179.9,1130.9 L182.1,1126.7 L184.2,1122.5 L186.4,1118.3 L188.7,1114.1 L190.9,1110.0 L193.2,1105.8 L195.6,1101.7 L197.9,1097.7 L200.3,1093.6 L202.7,1089.6 L205.2,1085.6 L207.7,1081.6 L210.2,1077.6 L212.8,1073.7 L215.4,1069.8 L218.0,1065.9 L220.7,1062.1 L223.4,1058.2 L226.2,1054.5 L229.0,1050.7 L231.8,1047.0 L234.6,1043.3 L237.5,1039.6 L240.5,1036.0 L243.5,1032.4 L246.5,1028.8 L249.5,1025.3 L252.6,1021.8 L255.8,1018.3 L259.0,1014.9 L262.2,1011.5 L265.5,1008.1 L268.8,1004.8 L272.1,1001.5 L275.5,998.3 L279.0,995.0 L282.5,991.9 L286.0,988.8 L289.6,985.7 L293.2,982.6 L296.9,979.6 L300.6,976.7 L304.3,973.7 L308.1,970.9 L312.0,968.0 L315.9,965.2 L319.1,963.1"/>
<polygon class="a" points="331.0,955.2 321.7,967.2 316.4,959.0"/>
<path class="e" d="M106.1,1354.2 L107.9,1348.1 L109.7,1342.1 L111.7,1336.2 L113.7,1330.2 L115.8,1324.4 L118.0,1318.5 L120.3,1312.7 L122.6,1307.0 L125.1,1301.2 L127.6,1295.6 L130.2,1290.0 L132.9,1284.4 L135.7,1278.9 L138.5,1273.4 L141.4,1267.9 L144.4,1262.6 L147.5,1257.2 L150.6,1251.9 L153.9,1246.7 L157.1,1241.5 L160.5,1236.3 L163.9,1231.2 L167.4,1226.2 L171.0,1221.2 L174.6,1216.2 L178.3,1211.3 L182.1,1206.5 L185.9,1201.7 L189.8,1197.0 L193.8,1192.3 L197.8,1187.6 L201.9,1183.1 L206.0,1178.5 L210.2,1174.1 L214.5,1169.6 L218.8,1165.3 L223.1,1161.0 L227.6,1156.7 L232.1,1152.5 L236.6,1148.4 L241.2,1144.3 L245.8,1140.3 L250.5,1136.3 L255.2,1132.4 L260.0,1128.5 L264.9,1124.7 L269.7,1121.0 L274.7,1117.3 L279.6,1113.7 L284.6,1110.1 L289.7,1106.6 L294.8,1103.2 L300.0,1099.8 L305.1,1096.5 L310.4,1093.3 L315.6,1090.1 L320.9,1087.0 L326.3,1083.9 L331.6,1080.9 L337.0,1077.9 L342.5,1075.1 L347.9,1072.2 L353.5,1069.4 L359.0,1066.7 L364.5,1064.1 L370.1,1061.4 L375.8,1058.9 L381.4,1056.4 L387.1,1053.9 L392.8,1051.5 L398.5,1049.1 L404.2,1046.8 L410.0,1044.5 L415.8,1042.3 L421.6,1040.1 L427.4,1037.9 L433.2,1035.8 L439.0,1033.8 L444.9,1031.7 L450.8,1029.7 L456.7,1027.8 L462.6,1025.9 L468.5,1024.0 L474.4,1022.1 L480.3,1020.3 L486.3,1018.5 L492.2,1016.8 L498.1,1015.0 L504.1,1013.3 L510.0,1011.7 L516.0,1010.0 L521.9,1008.4 L527.9,1006.8 L533.9,1005.2 L539.8,1003.7 L545.7,1002.2 L551.7,1000.7 L554.1,1000.1"/>
<polygon class="a" points="568.0,996.6 555.3,1004.8 552.9,995.3"/>
<path class="e" d="M113.1,1354.2 L114.6,1352.1 L116.2,1350.0 L117.7,1347.9 L119.3,1345.8 L120.8,1343.7 L122.4,1341.6 L123.9,1339.4 L125.5,1337.3 L127.1,1335.2 L128.6,1333.1 L130.2,1330.9 L131.8,1328.8 L133.4,1326.6 L135.0,1324.5 L136.6,1322.4 L138.2,1320.2 L139.9,1318.1 L141.5,1316.0 L143.1,1313.8 L144.8,1311.7 L146.4,1309.6 L148.1,1307.4 L149.8,1305.3 L151.4,1303.2 L153.1,1301.1 L154.8,1299.0 L156.5,1296.9 L158.2,1294.7 L160.0,1292.7 L161.7,1290.6 L163.4,1288.5 L165.2,1286.4 L166.9,1284.3 L168.7,1282.3 L170.5,1280.2 L172.3,1278.2 L174.0,1276.2 L175.9,1274.1 L177.7,1272.1 L179.5,1270.1 L181.3,1268.1 L183.2,1266.2 L185.0,1264.2 L186.9,1262.3 L188.8,1260.3 L190.7,1258.4 L192.6,1256.5 L194.5,1254.6 L196.4,1252.7 L198.3,1250.8 L200.3,1249.0 L202.3,1247.2 L204.2,1245.3 L206.2,1243.5 L208.2,1241.8 L210.2,1240.0 L212.3,1238.3 L214.3,1236.5 L216.3,1234.8 L218.4,1233.1 L220.5,1231.5 L222.6,1229.8 L224.7,1228.2 L226.8,1226.6 L228.9,1225.0 L231.1,1223.5 L233.2,1222.0 L235.4,1220.4 L237.6,1219.0 L239.8,1217.5 L242.0,1216.1 L244.3,1214.7 L246.5,1213.3 L248.8,1211.9 L251.1,1210.6 L253.4,1209.3 L255.7,1208.0 L258.0,1206.8 L260.4,1205.5 L262.7,1204.4 L265.1,1203.2 L267.5,1202.1 L269.9,1201.0 L272.4,1199.9 L274.8,1198.9 L277.3,1197.9 L279.8,1196.9 L282.3,1195.9 L284.8,1195.0 L287.3,1194.2 L289.9,1193.3 L292.4,1192.5 L295.0,1191.7 L297.6,1191.0 L299.0,1190.6"/>
<polygon class="a" points="313.0,1187.5 300.1,1195.4 298.0,1185.9"/>
<path class="e" d="M122.1,1354.2 L123.4,1352.9 L124.7,1351.6 L126.0,1350.3 L127.4,1349.0 L128.7,1347.7 L130.0,1346.4 L131.4,1345.1 L132.7,1343.8 L134.1,1342.6 L135.5,1341.3 L136.8,1340.0 L138.2,1338.8 L139.6,1337.5 L141.0,1336.3 L142.4,1335.0 L143.8,1333.8 L145.2,1332.6 L146.6,1331.3 L148.0,1330.1 L149.4,1328.9 L150.9,1327.7 L152.3,1326.5 L153.7,1325.3 L155.2,1324.1 L156.7,1322.9 L158.1,1321.7 L159.6,1320.6 L161.1,1319.4 L162.5,1318.3 L164.0,1317.1 L165.5,1316.0 L167.0,1314.9 L168.5,1313.7 L170.0,1312.6 L171.5,1311.5 L173.1,1310.4 L174.6,1309.3 L176.1,1308.2 L177.7,1307.2 L179.2,1306.1 L180.8,1305.0 L182.3,1304.0 L183.9,1302.9 L185.4,1301.9 L187.0,1300.9 L188.6,1299.9 L190.2,1298.9 L191.8,1297.9 L193.4,1296.9 L195.0,1295.9 L196.6,1295.0 L198.2,1294.0 L199.8,1293.1 L201.4,1292.1 L203.0,1291.2 L204.7,1290.3 L206.3,1289.4 L208.0,1288.5 L209.6,1287.6 L211.3,1286.8 L212.9,1285.9 L214.6,1285.1 L216.3,1284.2 L217.9,1283.4 L219.6,1282.6 L221.3,1281.8 L223.0,1281.0 L224.7,1280.2 L226.4,1279.5 L228.1,1278.7 L229.8,1278.0 L231.5,1277.2 L233.2,1276.5 L235.0,1275.8 L236.7,1275.1 L238.4,1274.5 L240.2,1273.8 L241.9,1273.1 L243.7,1272.5 L245.4,1271.9 L247.2,1271.3 L249.0,1270.7 L250.7,1270.1 L252.5,1269.5 L254.3,1269.0 L256.1,1268.4 L257.9,1267.9 L259.7,1267.4 L261.5,1266.9 L263.3,1266.4 L265.1,1265.9 L266.9,1265.5 L267.1,1265.4"/>
<polygon class="a" points="281.1,1262.5 268.1,1270.2 266.1,1260.6"/>
<path class="e" d="M179.7,1353.2L262.1,1332.6"/>
<polygon class="a" points="276.0,1329.1 263.3,1337.3 260.9,1327.8"/>
<path class="e" d="M190.7,1374.5L237.7,1374.5"/>
<polygon class="a" points="252.0,1374.5 237.7,1379.4 237.7,1369.6"/>
<path class="e" d="M129.8,1394.6C139.4,1400.6 168.5,1420.1 187.6,1430.7C206.7,1441.3 228.7,1452.2 244.5,1458.3C260.3,1464.4 276.2,1465.7 282.6,1467.2"/>
<polygon class="a" points="296.5,1470.5 281.5,1472.0 283.7,1462.5"/>
<path class="e" d="M179.7,1394.5 L187.0,1395.9 L194.3,1397.3 L201.6,1398.8 L208.8,1400.2 L216.1,1401.6 L223.4,1403.0 L230.7,1404.4 L238.0,1405.9 L245.3,1407.3 L252.6,1408.7 L259.8,1410.1 L267.1,1411.5 L274.4,1412.9 L281.7,1414.4 L289.0,1415.8 L296.3,1417.2 L303.6,1418.6 L310.9,1420.0 L318.1,1421.4 L325.4,1422.9 L332.7,1424.3 L340.0,1425.7 L347.3,1427.1 L354.6,1428.5 L361.8,1430.0 L369.1,1431.4 L376.4,1432.8 L383.7,1434.2 L390.9,1435.7 L398.2,1437.1 L405.5,1438.5 L412.8,1440.0 L420.0,1441.4 L427.3,1442.8 L434.6,1444.3 L441.8,1445.7 L449.1,1447.2 L456.4,1448.6 L463.6,1450.1 L470.9,1451.5 L478.1,1453.0 L485.4,1454.4 L492.7,1455.9 L499.9,1457.3 L507.2,1458.7 L514.5,1460.1 L521.7,1461.5 L529.0,1462.9 L536.3,1464.2 L543.6,1465.6 L550.9,1466.8 L558.3,1468.1 L565.6,1469.3 L573.0,1470.5 L580.3,1471.6 L587.7,1472.7 L595.1,1473.8 L602.5,1474.7 L610.0,1475.7 L617.4,1476.5 L624.9,1477.4 L632.4,1478.1 L640.0,1478.8 L647.5,1479.4 L655.1,1480.0 L662.7,1480.6 L670.2,1481.2 L677.8,1481.8 L685.3,1482.5 L692.8,1483.2 L700.2,1484.0 L707.6,1484.8 L715.0,1485.8 L722.3,1486.9 L729.5,1488.2 L736.7,1489.6 L743.8,1491.1 L750.8,1492.9 L757.7,1494.9 L764.5,1497.1 L771.1,1499.5 L777.7,1502.2 L784.1,1505.2 L790.4,1508.5 L796.6,1512.1 L802.6,1516.0 L808.4,1520.3 L814.2,1524.9 L819.8,1529.6 L825.4,1534.5 L831.0,1539.4 L836.7,1544.2 L842.5,1548.9 L848.4,1553.2 L854.5,1557.2 L860.9,1560.8 L867.6,1563.8 L873.7,1565.8"/>
<polygon class="a" points="887.8,1568.4 872.8,1570.6 874.6,1561.0"/>
<path class="e" d="M112.8,1394.6 L118.3,1402.1 L124.0,1409.6 L129.8,1416.9 L135.8,1424.2 L141.9,1431.3 L148.2,1438.4 L154.6,1445.3 L161.1,1452.0 L167.8,1458.6 L174.7,1465.0 L181.7,1471.2 L188.8,1477.3 L196.1,1483.1 L203.5,1488.7 L211.1,1494.0 L218.9,1499.1 L226.8,1504.0 L234.8,1508.5 L243.0,1512.8 L251.4,1516.8 L259.9,1520.4 L268.5,1523.8 L277.3,1526.8 L286.2,1529.6 L295.2,1532.0 L304.3,1534.2 L313.5,1536.1 L322.7,1537.7 L332.1,1539.1 L341.4,1540.2 L350.9,1541.0 L360.3,1541.6 L369.8,1542.0 L379.2,1542.2 L388.7,1542.1 L398.1,1541.8 L407.6,1541.3 L416.9,1540.6 L426.3,1539.8 L435.6,1538.8 L444.9,1537.6 L454.2,1536.3 L463.5,1534.9 L472.7,1533.4 L482.0,1531.9 L491.2,1530.3 L500.4,1528.6 L509.6,1526.9 L518.8,1525.3 L527.9,1523.6 L537.1,1521.9 L546.3,1520.3 L555.5,1518.8 L564.6,1517.3 L573.8,1516.0 L583.0,1514.7 L592.2,1513.6 L601.3,1512.6 L610.5,1511.8 L619.7,1511.1 L629.0,1510.7 L638.2,1510.4 L647.5,1510.4 L656.7,1510.7 L666.0,1511.2 L675.4,1511.9 L684.7,1513.0 L694.1,1514.4 L703.5,1516.1 L712.9,1518.1 L722.2,1520.5 L731.5,1523.3 L740.6,1526.4 L749.5,1529.8 L758.3,1533.7 L766.8,1537.9 L775.0,1542.4 L782.8,1547.4 L790.3,1552.8 L797.3,1558.5 L803.9,1564.6 L810.2,1571.1 L816.2,1577.7 L822.2,1584.6 L828.1,1591.5 L834.0,1598.5 L840.0,1605.5 L846.2,1612.4 L852.5,1619.2 L859.0,1625.8 L865.8,1632.2 L872.9,1638.3 L880.2,1644.2 L887.7,1650.0 L895.3,1655.6 L903.0,1661.1 L910.6,1666.6 L918.2,1672.1 L919.8,1673.3"/>
<polygon class="a" points="931.1,1682.0 916.8,1677.2 922.7,1669.4"/>
<path class="e" d="M108.7,1394.6 L110.0,1396.6 L111.3,1398.7 L112.6,1400.8 L113.9,1402.8 L115.3,1404.9 L116.6,1407.1 L117.8,1409.2 L119.1,1411.3 L120.4,1413.5 L121.7,1415.7 L123.0,1417.8 L124.3,1420.0 L125.6,1422.2 L126.9,1424.4 L128.2,1426.7 L129.5,1428.9 L130.8,1431.1 L132.1,1433.3 L133.4,1435.6 L134.6,1437.8 L136.0,1440.1 L137.3,1442.3 L138.6,1444.6 L139.9,1446.9 L141.2,1449.1 L142.5,1451.4 L143.8,1453.7 L145.2,1455.9 L146.5,1458.2 L147.9,1460.4 L149.2,1462.7 L150.6,1464.9 L151.9,1467.2 L153.3,1469.4 L154.7,1471.7 L156.1,1473.9 L157.5,1476.1 L158.9,1478.4 L160.3,1480.6 L161.7,1482.8 L163.2,1485.0 L164.6,1487.1 L166.1,1489.3 L167.6,1491.5 L169.0,1493.6 L170.5,1495.7 L172.1,1497.9 L173.6,1500.0 L175.1,1502.1 L176.7,1504.1 L178.2,1506.2 L179.8,1508.2 L181.4,1510.2 L183.0,1512.2 L184.7,1514.2 L186.3,1516.2 L188.0,1518.1 L189.6,1520.1 L191.3,1522.0 L193.1,1523.8 L194.8,1525.7 L196.5,1527.5 L198.3,1529.3 L200.1,1531.1 L201.9,1532.8 L203.8,1534.6 L205.6,1536.3 L207.5,1537.9 L209.4,1539.6 L211.3,1541.2 L213.2,1542.8 L215.2,1544.3 L217.2,1545.8 L219.2,1547.3 L221.2,1548.8 L223.3,1550.2 L225.4,1551.6 L227.5,1552.9 L229.6,1554.2 L231.7,1555.5 L233.9,1556.7 L236.1,1557.9 L238.4,1559.1 L240.6,1560.2 L242.9,1561.3 L245.2,1562.3 L247.6,1563.3 L250.0,1564.3 L252.4,1565.2 L254.8,1566.1 L257.3,1566.9 L259.8,1567.7 L262.3,1568.4 L264.9,1569.1 L266.2,1569.4"/>
<polygon class="a" points="280.2,1572.1 265.2,1574.2 267.1,1564.6"/>
<path class="e" d="M107.1,1394.6 L108.9,1400.8 L110.8,1407.1 L112.7,1413.3 L114.6,1419.5 L116.5,1425.7 L118.5,1431.9 L120.5,1438.0 L122.5,1444.2 L124.6,1450.4 L126.7,1456.5 L128.7,1462.7 L130.9,1468.8 L133.0,1474.9 L135.2,1481.0 L137.3,1487.1 L139.5,1493.2 L141.8,1499.3 L144.0,1505.4 L146.3,1511.5 L148.6,1517.5 L150.9,1523.6 L153.2,1529.6 L155.5,1535.7 L157.9,1541.7 L160.2,1547.8 L162.6,1553.8 L165.0,1559.8 L167.4,1565.8 L169.8,1571.8 L172.3,1577.8 L174.7,1583.8 L177.2,1589.8 L179.7,1595.8 L182.2,1601.8 L184.7,1607.8 L187.2,1613.8 L189.7,1619.7 L192.2,1625.7 L194.8,1631.7 L197.3,1637.6 L199.9,1643.6 L202.4,1649.6 L205.0,1655.5 L207.6,1661.5 L210.2,1667.4 L212.7,1673.4 L215.3,1679.3 L217.9,1685.3 L220.5,1691.2 L223.1,1697.1 L225.7,1703.1 L228.3,1709.0 L231.0,1715.0 L233.6,1720.9 L236.2,1726.9 L238.8,1732.8 L241.4,1738.7 L244.0,1744.7 L246.6,1750.6 L249.2,1756.6 L251.8,1762.5 L254.4,1768.4 L257.0,1774.4 L259.6,1780.3 L262.2,1786.3 L264.8,1792.2 L267.3,1798.2 L269.9,1804.2 L272.5,1810.1 L275.0,1816.1 L277.6,1822.1 L280.1,1828.0 L282.6,1834.0 L285.1,1840.0 L287.7,1846.0 L290.2,1851.9 L292.6,1857.9 L295.1,1863.9 L297.6,1869.9 L300.0,1875.9 L302.5,1881.9 L304.9,1887.9 L307.3,1894.0 L309.7,1900.0 L312.1,1906.0 L314.5,1912.1 L316.8,1918.1 L319.1,1924.1 L321.4,1930.2 L323.7,1936.3 L326.0,1942.3 L328.3,1948.4 L330.5,1954.5 L332.7,1960.6 L334.9,1966.7 L337.1,1972.8 L339.3,1978.9 L340.5,1982.3"/>
<polygon class="a" points="345.1,1995.8 335.8,1983.9 345.1,1980.7"/>
<path class="e" d="M98.9,1394.6 L99.3,1411.6 L99.7,1428.6 L100.2,1445.7 L100.8,1462.8 L101.4,1479.9 L102.2,1497.1 L103.0,1514.3 L103.9,1531.6 L104.9,1548.8 L106.0,1566.1 L107.2,1583.4 L108.6,1600.7 L110.0,1618.0 L111.6,1635.2 L113.3,1652.5 L115.1,1669.8 L117.1,1687.1 L119.2,1704.3 L121.4,1721.5 L123.9,1738.7 L126.4,1755.9 L129.1,1773.0 L132.0,1790.1 L135.1,1807.2 L138.4,1824.2 L141.8,1841.2 L145.4,1858.1 L149.2,1874.9 L153.2,1891.7 L157.4,1908.5 L161.8,1925.1 L166.4,1941.7 L171.3,1958.2 L176.3,1974.6 L181.6,1990.9 L187.2,2007.2 L192.9,2023.3 L198.9,2039.4 L205.2,2055.3 L211.7,2071.2 L218.4,2086.9 L225.5,2102.5 L232.7,2118.0 L240.3,2133.4 L248.1,2148.6 L256.3,2163.7 L264.7,2178.7 L273.4,2193.5 L282.4,2208.2 L291.7,2222.8 L301.3,2237.2 L311.2,2251.4 L321.4,2265.5 L332.0,2279.4 L342.9,2293.1 L354.1,2306.6 L365.6,2319.9 L377.5,2332.9 L389.6,2345.5 L402.1,2357.8 L414.9,2369.7 L428.0,2381.2 L441.4,2392.2 L455.2,2402.7 L469.2,2412.6 L483.5,2422.1 L498.2,2430.9 L513.1,2439.0 L528.4,2446.5 L543.9,2453.3 L559.8,2459.4 L575.9,2464.7 L592.4,2469.1 L609.0,2472.7 L625.9,2475.3 L642.8,2476.9 L659.8,2477.5 L676.9,2476.9 L693.8,2475.2 L710.6,2472.4 L727.3,2468.5 L743.7,2463.5 L759.8,2457.5 L775.5,2450.4 L790.8,2442.3 L805.7,2433.1 L820.0,2423.1 L833.8,2412.2 L847.0,2400.5 L859.7,2388.1 L871.7,2375.1 L883.0,2361.5 L893.6,2347.3 L903.4,2332.8 L912.5,2317.8 L920.8,2302.5 L928.2,2287.0 L934.8,2271.2 L939.8,2257.2"/>
<polygon class="a" points="944.0,2243.5 944.4,2258.6 935.1,2255.7"/>
<path class="e" d="M361.4,1995.7 L362.7,1988.1 L364.2,1980.6 L365.9,1973.2 L367.7,1965.9 L369.6,1958.6 L371.6,1951.3 L373.8,1944.1 L376.1,1936.9 L378.5,1929.8 L381.0,1922.7 L383.5,1915.6 L386.2,1908.5 L389.0,1901.5 L391.8,1894.4 L394.7,1887.3 L397.7,1880.3 L400.7,1873.2 L403.8,1866.1 L406.9,1859.0 L410.0,1851.8 L413.2,1844.6 L416.5,1837.5 L419.8,1830.3 L423.2,1823.2 L426.7,1816.2 L430.3,1809.2 L434.0,1802.3 L437.9,1795.5 L441.8,1788.8 L446.0,1782.2 L450.3,1775.8 L454.7,1769.6 L459.3,1763.6 L464.1,1757.7 L469.1,1752.1 L474.3,1746.6 L479.7,1741.4 L485.2,1736.3 L490.9,1731.5 L496.7,1726.8 L502.7,1722.4 L508.8,1718.1 L515.1,1714.1 L521.4,1710.3 L528.0,1706.6 L534.6,1703.2 L541.3,1700.0 L548.2,1697.0 L555.1,1694.2 L562.2,1691.6 L569.3,1689.2 L576.5,1687.1 L583.8,1685.1 L591.2,1683.4 L598.6,1681.8 L606.1,1680.5 L613.7,1679.4 L621.3,1678.5 L628.9,1677.8 L636.6,1677.3 L644.3,1677.0 L652.0,1676.8 L659.7,1676.8 L667.5,1676.8 L675.2,1676.8 L683.0,1676.9 L690.7,1677.0 L698.5,1677.1 L706.2,1677.0 L713.9,1676.9 L721.6,1676.6 L729.2,1676.2 L736.8,1675.6 L744.4,1674.7 L751.9,1673.6 L759.4,1672.3 L766.8,1670.7 L774.1,1668.9 L781.4,1666.9 L788.7,1664.7 L795.9,1662.2 L803.0,1659.6 L810.2,1656.9 L817.2,1653.9 L824.2,1650.8 L831.2,1647.5 L838.1,1644.1 L845.0,1640.6 L851.8,1636.9 L858.5,1633.2 L865.3,1629.3 L871.9,1625.4 L878.6,1621.5 L885.2,1617.4 L891.7,1613.4 L898.2,1609.3 L904.6,1605.2 L910.1,1601.7"/>
<polygon class="a" points="922.1,1594.0 912.7,1605.8 907.4,1597.6"/>
<path class="e" d="M364.6,1995.7 L365.6,1993.0 L366.7,1990.2 L367.8,1987.5 L368.9,1984.7 L370.0,1981.9 L371.1,1979.2 L372.2,1976.4 L373.4,1973.7 L374.6,1970.9 L375.7,1968.1 L376.9,1965.4 L378.2,1962.6 L379.4,1959.9 L380.7,1957.1 L381.9,1954.3 L383.2,1951.6 L384.5,1948.8 L385.8,1946.1 L387.2,1943.3 L388.5,1940.6 L389.9,1937.9 L391.2,1935.1 L392.6,1932.4 L394.1,1929.7 L395.5,1926.9 L396.9,1924.2 L398.4,1921.5 L399.9,1918.8 L401.4,1916.1 L402.9,1913.4 L404.4,1910.8 L406.0,1908.1 L407.5,1905.4 L409.1,1902.8 L410.7,1900.1 L412.3,1897.5 L414.0,1894.9 L415.6,1892.3 L417.3,1889.7 L419.0,1887.1 L420.7,1884.5 L422.4,1881.9 L424.1,1879.4 L425.9,1876.8 L427.6,1874.3 L429.4,1871.8 L431.2,1869.3 L433.1,1866.8 L434.9,1864.3 L436.8,1861.9 L438.6,1859.4 L440.5,1857.0 L442.4,1854.6 L444.4,1852.2 L446.3,1849.8 L448.3,1847.5 L450.2,1845.1 L452.2,1842.8 L454.2,1840.5 L456.3,1838.2 L458.3,1835.9 L460.4,1833.7 L462.5,1831.5 L464.6,1829.3 L466.7,1827.1 L468.9,1824.9 L471.0,1822.8 L473.2,1820.6 L475.4,1818.5 L477.6,1816.5 L479.8,1814.4 L482.1,1812.4 L484.3,1810.4 L486.6,1808.4 L488.9,1806.4 L491.3,1804.5 L493.6,1802.6 L496.0,1800.7 L498.3,1798.9 L500.7,1797.0 L503.1,1795.2 L505.6,1793.5 L508.0,1791.7 L510.5,1790.0 L513.0,1788.3 L515.5,1786.7 L518.0,1785.1 L520.6,1783.5 L523.2,1781.9 L525.7,1780.4 L528.4,1778.9 L531.0,1777.4 L533.6,1775.9 L536.3,1774.5 L539.0,1773.2 L539.0,1773.1"/>
<polygon class="a" points="552.0,1767.1 541.1,1777.6 537.0,1768.7"/>
<path class="e" d="M370.2,1995.7 L371.6,1993.7 L373.1,1991.8 L374.5,1989.8 L376.0,1987.9 L377.4,1985.9 L378.9,1984.0 L380.3,1982.0 L381.8,1980.1 L383.3,1978.1 L384.7,1976.2 L386.2,1974.2 L387.7,1972.3 L389.2,1970.3 L390.7,1968.4 L392.2,1966.4 L393.7,1964.5 L395.2,1962.5 L396.7,1960.6 L398.2,1958.7 L399.8,1956.8 L401.3,1954.8 L402.9,1952.9 L404.4,1951.0 L406.0,1949.1 L407.5,1947.2 L409.1,1945.3 L410.7,1943.4 L412.2,1941.5 L413.8,1939.6 L415.4,1937.7 L417.0,1935.9 L418.6,1934.0 L420.3,1932.1 L421.9,1930.3 L423.5,1928.4 L425.2,1926.6 L426.8,1924.7 L428.5,1922.9 L430.1,1921.1 L431.8,1919.3 L433.5,1917.5 L435.2,1915.7 L436.9,1913.9 L438.6,1912.1 L440.3,1910.4 L442.0,1908.6 L443.7,1906.9 L445.5,1905.1 L447.2,1903.4 L449.0,1901.7 L450.7,1900.0 L452.5,1898.3 L454.3,1896.6 L456.1,1894.9 L457.9,1893.3 L459.7,1891.6 L461.5,1890.0 L463.4,1888.4 L465.2,1886.8 L467.1,1885.2 L468.9,1883.6 L470.8,1882.0 L472.7,1880.4 L474.6,1878.9 L476.5,1877.4 L478.4,1875.9 L480.3,1874.3 L482.2,1872.9 L484.2,1871.4 L486.1,1869.9 L488.1,1868.5 L490.1,1867.1 L492.1,1865.6 L494.1,1864.2 L496.1,1862.9 L498.1,1861.5 L500.2,1860.2 L502.2,1858.8 L504.3,1857.5 L506.3,1856.2 L508.4,1854.9 L510.5,1853.7 L512.6,1852.4 L514.7,1851.2 L516.9,1850.0 L519.0,1848.8 L521.2,1847.6 L523.3,1846.5 L525.5,1845.4 L527.7,1844.3 L529.9,1843.2 L532.1,1842.1 L534.4,1841.0 L536.6,1840.0"/>
<polygon class="a" points="549.8,1834.5 538.5,1844.5 534.7,1835.5"/>
<path class="e" d="M378.1,1995.7 L379.7,1994.3 L381.2,1992.8 L382.8,1991.4 L384.4,1990.0 L385.9,1988.6 L387.5,1987.1 L389.1,1985.7 L390.7,1984.3 L392.3,1982.9 L393.9,1981.5 L395.5,1980.0 L397.1,1978.6 L398.7,1977.2 L400.4,1975.8 L402.0,1974.4 L403.6,1973.0 L405.2,1971.6 L406.9,1970.2 L408.5,1968.8 L410.2,1967.4 L411.8,1966.0 L413.5,1964.7 L415.1,1963.3 L416.8,1961.9 L418.5,1960.6 L420.1,1959.2 L421.8,1957.8 L423.5,1956.5 L425.2,1955.1 L426.9,1953.8 L428.6,1952.5 L430.3,1951.1 L432.0,1949.8 L433.7,1948.5 L435.5,1947.2 L437.2,1945.9 L438.9,1944.6 L440.7,1943.3 L442.4,1942.0 L444.1,1940.8 L445.9,1939.5 L447.7,1938.3 L449.4,1937.0 L451.2,1935.8 L453.0,1934.5 L454.7,1933.3 L456.5,1932.1 L458.3,1930.9 L460.1,1929.7 L461.9,1928.5 L463.7,1927.3 L465.5,1926.2 L467.4,1925.0 L469.2,1923.9 L471.0,1922.7 L472.8,1921.6 L474.7,1920.5 L476.5,1919.4 L478.4,1918.3 L480.2,1917.2 L482.1,1916.1 L484.0,1915.1 L485.8,1914.0 L487.7,1913.0 L489.6,1912.0 L491.5,1911.0 L493.4,1910.0 L495.3,1909.0 L497.2,1908.0 L499.1,1907.1 L501.1,1906.1 L503.0,1905.2 L504.9,1904.3 L506.9,1903.4 L508.8,1902.5 L510.8,1901.6 L512.7,1900.7 L514.7,1899.9 L516.7,1899.0 L518.6,1898.2 L520.6,1897.4 L522.6,1896.6 L524.6,1895.9 L526.6,1895.1 L528.6,1894.4 L530.6,1893.6 L532.7,1892.9 L534.7,1892.2 L536.7,1891.6 L538.8,1890.9 L540.8,1890.3 L542.9,1889.6 L544.9,1889.0 L545.2,1889.0"/>
<polygon class="a" points="559.0,1885.4 546.4,1893.7 543.9,1884.2"/>
<path class="e" d="M401.1,1995.7C412.1,1991.1 445.4,1976.0 467.0,1967.9C488.6,1959.8 514.3,1952.0 530.5,1947.3C546.7,1942.6 558.6,1940.8 564.2,1939.4"/>
<polygon class="a" points="578.1,1936.2 565.3,1944.2 563.1,1934.7"/>
<path class="e" d="M471.6,2001.7L542.2,1995.5"/>
<polygon class="a" points="556.4,1994.3 542.6,2000.4 541.7,1990.7"/>
<path class="e" d="M471.6,2028.5L547.6,2036.2"/>
<polygon class="a" points="561.8,2037.6 547.1,2041.0 548.1,2031.3"/>
<path class="e" d="M401.7,2036.0C412.4,2040.0 446.3,2052.7 465.8,2059.8C485.3,2066.9 505.3,2073.9 518.7,2078.4C532.1,2082.9 541.5,2085.3 546.0,2086.7"/>
<polygon class="a" points="559.7,2090.9 544.6,2091.4 547.5,2082.0"/>
<path class="e" d="M376.4,2036.0 L378.0,2037.4 L379.5,2038.8 L381.1,2040.2 L382.7,2041.6 L384.3,2043.0 L385.9,2044.4 L387.4,2045.8 L389.0,2047.1 L390.6,2048.5 L392.2,2049.9 L393.8,2051.2 L395.5,2052.6 L397.1,2053.9 L398.7,2055.3 L400.3,2056.6 L401.9,2058.0 L403.6,2059.3 L405.2,2060.6 L406.8,2061.9 L408.5,2063.3 L410.1,2064.6 L411.8,2065.9 L413.4,2067.2 L415.1,2068.5 L416.7,2069.8 L418.4,2071.1 L420.0,2072.4 L421.7,2073.6 L423.4,2074.9 L425.1,2076.2 L426.7,2077.5 L428.4,2078.7 L430.1,2080.0 L431.8,2081.2 L433.5,2082.5 L435.2,2083.7 L436.9,2085.0 L438.6,2086.2 L440.3,2087.5 L442.0,2088.7 L443.7,2089.9 L445.4,2091.1 L447.1,2092.4 L448.8,2093.6 L450.5,2094.8 L452.2,2096.0 L454.0,2097.2 L455.7,2098.4 L457.4,2099.6 L459.2,2100.8 L460.9,2102.0 L462.6,2103.2 L464.4,2104.4 L466.1,2105.6 L467.8,2106.7 L469.6,2107.9 L471.3,2109.1 L473.1,2110.2 L474.8,2111.4 L476.6,2112.6 L478.4,2113.7 L480.1,2114.9 L481.9,2116.0 L483.6,2117.2 L485.4,2118.3 L487.2,2119.5 L488.9,2120.6 L490.7,2121.7 L492.5,2122.9 L494.3,2124.0 L496.0,2125.1 L497.8,2126.3 L499.6,2127.4 L501.4,2128.5 L503.2,2129.6 L505.0,2130.7 L506.7,2131.8 L508.5,2132.9 L510.3,2134.0 L512.1,2135.1 L513.9,2136.2 L515.7,2137.3 L517.5,2138.4 L519.3,2139.5 L521.1,2140.6 L522.9,2141.7 L524.7,2142.8 L526.5,2143.9 L528.3,2144.9 L530.1,2146.0 L531.9,2147.1 L533.7,2148.2 L535.5,2149.2"/>
<polygon class="a" points="547.8,2156.4 533.0,2153.4 537.9,2144.9"/>
<path class="e" d="M366.0,2036.0 L367.6,2038.0 L369.1,2040.1 L370.7,2042.1 L372.3,2044.2 L373.8,2046.2 L375.4,2048.3 L376.9,2050.4 L378.5,2052.5 L380.0,2054.6 L381.5,2056.7 L383.1,2058.9 L384.6,2061.0 L386.1,2063.2 L387.7,2065.3 L389.2,2067.5 L390.7,2069.6 L392.2,2071.8 L393.8,2074.0 L395.3,2076.2 L396.8,2078.4 L398.3,2080.5 L399.9,2082.7 L401.4,2084.9 L402.9,2087.1 L404.5,2089.3 L406.0,2091.5 L407.5,2093.7 L409.1,2095.9 L410.6,2098.2 L412.1,2100.4 L413.7,2102.6 L415.3,2104.8 L416.8,2107.0 L418.4,2109.1 L419.9,2111.3 L421.5,2113.5 L423.1,2115.7 L424.7,2117.9 L426.3,2120.1 L427.9,2122.2 L429.5,2124.4 L431.1,2126.6 L432.7,2128.7 L434.3,2130.8 L435.9,2133.0 L437.6,2135.1 L439.2,2137.2 L440.9,2139.3 L442.6,2141.4 L444.2,2143.5 L445.9,2145.6 L447.6,2147.6 L449.3,2149.7 L451.1,2151.7 L452.8,2153.8 L454.5,2155.8 L456.3,2157.8 L458.1,2159.7 L459.8,2161.7 L461.6,2163.7 L463.4,2165.6 L465.2,2167.5 L467.1,2169.4 L468.9,2171.3 L470.8,2173.2 L472.6,2175.0 L474.5,2176.9 L476.4,2178.7 L478.4,2180.5 L480.3,2182.2 L482.2,2184.0 L484.2,2185.7 L486.2,2187.4 L488.2,2189.1 L490.2,2190.8 L492.2,2192.4 L494.3,2194.0 L496.4,2195.6 L498.5,2197.2 L500.6,2198.7 L502.7,2200.2 L504.8,2201.7 L507.0,2203.2 L509.2,2204.6 L511.4,2206.0 L513.6,2207.4 L515.9,2208.7 L518.1,2210.1 L520.4,2211.4 L522.7,2212.6 L525.1,2213.8 L527.4,2215.0 L529.8,2216.2 L532.2,2217.3 L533.3,2217.8"/>
<polygon class="a" points="546.5,2223.2 531.4,2222.3 535.1,2213.3"/>
<path class="e" d="M363.0,2036.0 L364.5,2038.6 L366.0,2041.2 L367.5,2043.8 L369.0,2046.4 L370.5,2049.0 L372.0,2051.7 L373.4,2054.3 L374.9,2057.0 L376.4,2059.7 L377.8,2062.4 L379.3,2065.1 L380.7,2067.8 L382.2,2070.6 L383.7,2073.3 L385.1,2076.1 L386.6,2078.8 L388.0,2081.6 L389.5,2084.4 L390.9,2087.1 L392.4,2089.9 L393.8,2092.7 L395.3,2095.5 L396.7,2098.3 L398.2,2101.1 L399.6,2103.9 L401.1,2106.7 L402.6,2109.5 L404.1,2112.3 L405.5,2115.1 L407.0,2117.9 L408.5,2120.7 L410.0,2123.5 L411.5,2126.3 L413.0,2129.1 L414.5,2131.9 L416.1,2134.7 L417.6,2137.5 L419.1,2140.2 L420.7,2143.0 L422.3,2145.8 L423.8,2148.5 L425.4,2151.3 L427.0,2154.0 L428.6,2156.8 L430.2,2159.5 L431.9,2162.2 L433.5,2164.9 L435.2,2167.6 L436.8,2170.3 L438.5,2172.9 L440.2,2175.6 L441.9,2178.2 L443.6,2180.9 L445.4,2183.5 L447.1,2186.1 L448.9,2188.6 L450.7,2191.2 L452.5,2193.7 L454.3,2196.3 L456.2,2198.8 L458.0,2201.3 L459.9,2203.7 L461.8,2206.2 L463.7,2208.6 L465.7,2211.0 L467.7,2213.4 L469.6,2215.8 L471.6,2218.1 L473.7,2220.4 L475.7,2222.7 L477.8,2225.0 L479.9,2227.2 L482.0,2229.4 L484.2,2231.6 L486.3,2233.8 L488.5,2235.9 L490.8,2238.0 L493.0,2240.1 L495.3,2242.1 L497.6,2244.2 L499.9,2246.1 L502.3,2248.1 L504.6,2250.0 L507.1,2251.9 L509.5,2253.8 L512.0,2255.6 L514.5,2257.4 L517.0,2259.1 L519.6,2260.8 L522.2,2262.5 L524.8,2264.1 L527.5,2265.7 L530.1,2267.3 L532.9,2268.8 L535.6,2270.3 L536.3,2270.6"/>
<polygon class="a" points="549.2,2276.8 534.2,2275.0 538.4,2266.2"/>
<path class="e" d="M360.0,2036.0 L361.1,2039.4 L362.2,2042.8 L363.3,2046.3 L364.4,2049.7 L365.5,2053.2 L366.7,2056.7 L367.8,2060.2 L368.9,2063.7 L370.1,2067.2 L371.2,2070.7 L372.4,2074.2 L373.6,2077.7 L374.8,2081.3 L375.9,2084.8 L377.1,2088.3 L378.4,2091.9 L379.6,2095.4 L380.8,2099.0 L382.1,2102.5 L383.3,2106.1 L384.6,2109.7 L385.9,2113.2 L387.2,2116.8 L388.5,2120.4 L389.8,2123.9 L391.1,2127.5 L392.5,2131.0 L393.8,2134.6 L395.2,2138.2 L396.6,2141.7 L398.0,2145.3 L399.4,2148.8 L400.9,2152.3 L402.3,2155.9 L403.8,2159.4 L405.3,2162.9 L406.8,2166.4 L408.3,2169.9 L409.9,2173.4 L411.4,2176.9 L413.0,2180.4 L414.6,2183.9 L416.2,2187.3 L417.9,2190.8 L419.5,2194.2 L421.2,2197.6 L422.9,2201.0 L424.6,2204.4 L426.4,2207.8 L428.1,2211.1 L429.9,2214.5 L431.7,2217.8 L433.5,2221.1 L435.4,2224.4 L437.3,2227.7 L439.2,2231.0 L441.1,2234.2 L443.1,2237.4 L445.0,2240.6 L447.0,2243.8 L449.1,2247.0 L451.1,2250.1 L453.2,2253.2 L455.3,2256.3 L457.5,2259.4 L459.6,2262.4 L461.8,2265.5 L464.0,2268.4 L466.3,2271.4 L468.5,2274.4 L470.9,2277.3 L473.2,2280.2 L475.6,2283.0 L477.9,2285.8 L480.4,2288.6 L482.8,2291.4 L485.3,2294.2 L487.8,2296.9 L490.4,2299.5 L493.0,2302.2 L495.6,2304.8 L498.2,2307.4 L500.9,2309.9 L503.6,2312.4 L506.4,2314.9 L509.2,2317.3 L512.0,2319.7 L514.8,2322.1 L517.7,2324.4 L520.6,2326.7 L523.6,2329.0 L526.6,2331.2 L529.6,2333.3 L532.7,2335.5 L535.8,2337.6 L538.9,2339.5"/>
<polygon class="a" points="551.1,2346.9 536.3,2343.7 541.4,2335.3"/>
<path class="e" d="M357.0,2036.0 L358.5,2044.7 L359.9,2053.5 L361.4,2062.2 L363.0,2071.0 L364.5,2079.9 L366.1,2088.7 L367.7,2097.6 L369.4,2106.5 L371.2,2115.3 L373.0,2124.2 L374.9,2133.1 L376.8,2142.0 L378.9,2150.9 L381.0,2159.8 L383.2,2168.6 L385.6,2177.5 L388.0,2186.3 L390.6,2195.1 L393.3,2203.8 L396.1,2212.6 L399.1,2221.3 L402.2,2229.9 L405.4,2238.5 L408.9,2247.1 L412.5,2255.6 L416.2,2264.1 L420.2,2272.5 L424.3,2280.8 L428.6,2289.1 L433.1,2297.3 L437.8,2305.4 L442.7,2313.3 L447.8,2321.2 L453.0,2328.8 L458.4,2336.4 L464.1,2343.7 L469.8,2350.9 L475.8,2357.8 L482.0,2364.5 L488.3,2371.0 L494.8,2377.2 L501.5,2383.2 L508.3,2388.8 L515.4,2394.2 L522.6,2399.3 L529.9,2404.0 L537.5,2408.4 L545.2,2412.4 L553.1,2416.1 L561.1,2419.4 L569.3,2422.3 L577.6,2424.9 L586.1,2427.1 L594.6,2429.0 L603.3,2430.5 L612.0,2431.7 L620.9,2432.6 L629.8,2433.2 L638.7,2433.4 L647.7,2433.3 L656.8,2432.9 L665.8,2432.3 L674.9,2431.3 L684.0,2430.0 L693.1,2428.5 L702.1,2426.7 L711.1,2424.6 L720.1,2422.2 L729.1,2419.6 L737.9,2416.8 L746.7,2413.6 L755.4,2410.3 L764.0,2406.7 L772.6,2402.8 L780.9,2398.8 L789.2,2394.5 L797.3,2390.0 L805.3,2385.3 L813.1,2380.4 L820.8,2375.3 L828.3,2370.0 L835.7,2364.5 L843.0,2358.8 L850.0,2353.0 L857.0,2347.0 L863.7,2340.8 L870.3,2334.5 L876.8,2328.1 L883.1,2321.5 L889.2,2314.8 L895.2,2307.9 L900.9,2300.9 L906.6,2293.8 L912.0,2286.6 L917.3,2279.3 L922.4,2272.0 L927.3,2264.5 L932.1,2256.9 L932.7,2255.8"/>
<polygon class="a" points="940.0,2243.5 937.0,2258.3 928.5,2253.3"/>
<rect class="ng" x="5.0" y="1354.4" width="186.0" height="40.3"/>
<text transform="matrix(1,0,0,1.08,98.0,1370.7)" x="-82.1 -75.1 -68.1 -61.1 -57.1 -53.1 -43.1 -34.1 -24.1 -15.1 -8.1 -1.1 5.9 12.9 19.9 23.9 27.9 36.9 39.9 46.9 53.9 60.9 63.9 66.9 73.9">ns3::QKDApp014::Signaling</text>
<text transform="matrix(1,0,0,1.08,98.0,1385.1)" x="-75.1 -66.1 -59.1 -52.1 -45.1 -38.1 -34.1 -24.1 -17.1 -10.1 -3.1 -0.1 6.9 13.9 20.9 28.9 32.9 39.9 50.9 59.9 66.9">PacketReceivedFromApp</text>
<rect class="nb" x="275.7" y="928.6" width="158.9" height="25.1"/>
<text transform="matrix(1,0,0,1.08,355.1,944.9)" x="-69.1 -62.1 -55.1 -48.1 -44.1 -40.1 -31.1 -24.1 -17.1 -10.1 -3.1 0.9 4.9 8.9 18.9 25.9 32.9 39.9 49.9 56.9 60.9">ns3::Packet::CopyData</text>
<rect class="nb" x="257.7" y="1162.0" width="194.8" height="25.3"/>
<text transform="matrix(1,0,0,1.08,355.1,1178.4)" x="-86.6 -79.6 -72.6 -65.6 -61.6 -57.6 -48.6 -41.6 -34.6 -27.6 -20.6 -16.6 -12.6 -8.6 1.4 5.4 12.4 19.4 23.4 30.4 38.4 42.4 49.4 56.4 67.4 74.4 81.4">ns3::Packet::CreateFragment</text>
<rect class="nb" x="281.2" y="1237.9" width="148.2" height="25.1"/>
<text transform="matrix(1,0,0,1.08,355.4,1254.2)" x="-64.1 -57.1 -50.1 -43.1 -39.1 -35.1 -26.1 -19.1 -12.1 -5.1 1.9 5.9 9.9 13.9 21.9 28.9 37.9 41.9 45.9 48.9 55.9">ns3::Packet::ToString</text>
<rect class="nb" x="266.4" y="1289.3" width="177.9" height="39.6"/>
<text transform="matrix(1,0,0,1.08,355.4,1305.2)" x="-78.1 -71.1 -64.1 -57.1 -53.1 -49.1 -39.1 -31.1 -23.1 -14.1 -3.1 3.9 10.9 17.9 24.9 31.9 38.9 47.9 54.9 58.9 65.9 72.9">ns3::HTTPMessageParser</text>
<text transform="matrix(1,0,0,1.08,355.4,1319.6)" x="-21.6 -17.6 -13.6 -4.6 2.4 6.4 13.4">::Parse</text>
<rect class="nb" x="251.4" y="1354.5" width="207.3" height="39.8"/>
<text transform="matrix(1,0,0,1.08,355.1,1370.6)" x="-92.6 -85.6 -78.6 -71.6 -67.6 -63.6 -53.6 -45.6 -37.6 -28.6 -17.6 -10.6 -3.6 3.4 10.4 17.4 24.4 28.4 32.4 42.4 49.4 53.4 62.4 66.4 73.4 77.4 84.4">ns3::HTTPMessage::GetStatus</text>
<text transform="matrix(1,0,0,1.08,355.1,1385.0)" x="-27.1 -16.1 -9.1 -2.1 4.9 11.9 18.9">Message</text>
<rect class="nb" x="241.4" y="1471.2" width="227.5" height="25.5"/>
<text transform="matrix(1,0,0,1.08,355.1,1487.7)" x="-103.1 -96.1 -89.1 -82.1 -78.1 -74.1 -64.1 -56.1 -48.1 -39.1 -28.1 -21.1 -14.1 -7.1 -0.1 6.9 13.9 17.9 21.9 25.9 32.9 40.9 44.9 51.9 58.9 69.9 76.9 83.9 87.9 94.9">ns3::HTTPMessage::IsFragmented</text>
<rect class="nb" x="257.5" y="1572.7" width="195.2" height="25.3"/>
<text transform="matrix(1,0,0,1.08,355.1,1589.0)" x="-86.6 -79.6 -72.6 -65.6 -61.6 -57.6 -47.6 -39.6 -31.6 -22.6 -11.6 -4.6 2.4 9.4 16.4 23.4 30.4 34.4 38.4 48.4 55.4 59.4 68.4 71.4 78.4">ns3::HTTPMessage::GetSize</text>
<rect class="nb" x="238.3" y="1995.7" width="233.7" height="40.0"/>
<text transform="matrix(1,0,0,1.08,355.1,2011.9)" x="-106.1 -99.1 -92.1 -85.1 -81.1 -77.1 -67.1 -58.1 -48.1 -39.1 -32.1 -25.1 -18.1 -11.1 -4.1 -0.1 3.9 12.9 16.9 23.9 30.9 37.9 44.9 51.9 60.9 63.9 70.9 77.9 84.9 87.9 90.9 97.9">ns3::QKDApp014::ProcessSignaling</text>
<text transform="matrix(1,0,0,1.08,355.1,2026.2)" x="-47.6 -38.6 -31.6 -24.6 -17.6 -10.6 -6.6 1.4 5.4 12.4 23.4 32.4 39.4">PacketFromApp</text>
<rect class="nb" x="573.6" y="645.8" width="159.1" height="25.5"/>
<text transform="matrix(1,0,0,1.08,653.2,662.2)" x="-69.1 -62.1 -55.1 -48.1 -44.1 -40.1 -31.1 -24.1 -17.1 -10.1 -3.1 0.9 4.9 8.9 17.9 24.9 31.9 40.9 44.9 53.9 60.9">ns3::Packet::AddAtEnd</text>
<rect class="nb" x="576.2" y="869.7" width="154.1" height="25.5"/>
<text transform="matrix(1,0,0,1.08,653.2,886.2)" x="-66.1 -59.1 -52.1 -45.1 -41.1 -37.1 -28.1 -21.1 -17.1 -13.1 -6.1 -2.1 1.9 5.9 15.9 22.9 29.9 36.9 46.9 53.9 57.9">ns3::Buffer::CopyData</text>
<rect class="nb" x="557.4" y="971.4" width="191.0" height="25.1"/>
<text transform="matrix(1,0,0,1.08,652.9,987.7)" x="-84.6 -77.6 -70.6 -63.6 -59.6 -55.6 -46.6 -39.6 -32.6 -25.6 -18.6 -14.6 -10.6 -6.6 3.4 10.4 21.4 28.4 35.4 42.4 51.4 55.4 64.4 68.4 75.4 79.4">ns3::Packet::RemoveAtStart</text>
<rect class="nb" x="579.4" y="1022.2" width="147.6" height="40.4"/>
<text transform="matrix(1,0,0,1.08,653.2,1038.6)" x="-62.6 -55.6 -48.6 -41.6 -37.6 -33.6 -24.6 -17.6 -10.6 -3.6 3.4 7.4 18.4 25.4 29.4 36.4 43.4 50.4 54.4">ns3::PacketMetadata</text>
<text transform="matrix(1,0,0,1.08,653.2,1053.0)" x="-51.6 -47.6 -43.6 -33.6 -29.6 -22.6 -15.6 -11.6 -4.6 3.4 7.4 14.4 21.4 32.4 39.4 46.4">::CreateFragment</text>
<rect class="nb" x="563.5" y="1139.4" width="179.0" height="25.3"/>
<text transform="matrix(1,0,0,1.08,653.0,1155.8)" x="-79.1 -72.1 -65.1 -58.1 -54.1 -50.1 -41.1 -34.1 -27.1 -20.1 -13.1 -9.1 -5.1 -1.1 8.9 15.9 19.9 29.9 32.9 39.9 48.9 55.9 62.9 66.9 73.9">ns3::Packet::GetNixVector</text>
<rect class="nb" x="563.5" y="1189.8" width="179.0" height="25.4"/>
<text transform="matrix(1,0,0,1.08,653.0,1206.2)" x="-78.6 -71.6 -64.6 -57.6 -53.6 -49.6 -40.6 -33.6 -26.6 -19.6 -12.6 -8.6 -4.6 -0.6 8.4 15.4 19.4 29.4 32.4 39.4 48.4 55.4 62.4 66.4 73.4">ns3::Packet::SetNixVector</text>
<rect class="nb" x="558.9" y="1291.5" width="188.6" height="24.9"/>
<text transform="matrix(1,0,0,1.08,653.2,1307.7)" x="-83.6 -76.6 -69.6 -62.6 -58.6 -54.6 -45.6 -38.6 -34.6 -30.6 -23.6 -19.6 -15.6 -11.6 -1.6 2.4 9.4 16.4 20.4 27.4 35.4 39.4 46.4 53.4 64.4 71.4 78.4">ns3::Buffer::CreateFragment</text>
<rect class="nb" x="564.2" y="1393.0" width="178.1" height="40.2"/>
<text transform="matrix(1,0,0,1.08,653.2,1409.2)" x="-78.1 -71.1 -64.1 -57.1 -53.1 -49.1 -39.1 -31.1 -23.1 -14.1 -3.1 3.9 10.9 17.9 24.9 31.9 38.9 47.9 54.9 58.9 65.9 72.9">ns3::HTTPMessageParser</text>
<text transform="matrix(1,0,0,1.08,653.2,1423.6)" x="-41.1 -37.1 -33.1 -26.1 -22.1 -18.1 -15.1 -8.1 1.9 8.9 11.9 18.9 25.9 32.9">::stripUnicode</text>
<rect class="nb" x="545.4" y="1561.2" width="215.4" height="40.1"/>
<text transform="matrix(1,0,0,1.08,653.1,1577.4)" x="-96.6 -89.6 -82.6 -75.6 -71.6 -67.6 -57.6 -49.6 -41.6 -32.6 -21.6 -14.6 -7.6 -0.6 6.4 13.4 20.4 24.4 28.4 38.4 45.4 49.4 59.4 66.4 73.4 77.4 84.4 91.4">ns3::HTTPMessage::GetContent</text>
<text transform="matrix(1,0,0,1.08,653.1,1591.8)" x="-20.1 -13.1 -6.1 0.9 7.9 11.9">Length</text>
<rect class="nb" x="531.6" y="1627.3" width="243.2" height="25.3"/>
<text transform="matrix(1,0,0,1.08,653.2,1643.6)" x="-111.1 -104.1 -97.1 -90.1 -86.1 -82.1 -72.1 -64.1 -56.1 -47.1 -36.1 -29.1 -22.1 -15.1 -8.1 -1.1 5.9 9.9 13.9 23.9 30.9 34.9 44.9 51.9 58.9 65.9 72.9 76.9 83.9 92.9 95.9 102.9">ns3::HTTPMessage::GetHeadersSize</text>
<rect class="nr" x="551.5" y="1729.2" width="203.2" height="40.0"/>
<text transform="matrix(1,0,0,1.08,653.1,1745.4)" x="-91.1 -84.1 -77.1 -70.1 -66.1 -62.1 -52.1 -43.1 -33.1 -24.1 -17.1 -10.1 -3.1 3.9 10.9 14.9 18.9 28.9 35.9 39.9 48.9 55.9 62.9 75.9 78.9 82.9">ns3::QKDApp014::GetKeyWith</text>
<text transform="matrix(1,0,0,1.08,653.1,1759.8)" x="-22.6 -13.6 -6.6 0.4 4.4 14.4">KeyIDs</text>
<rect class="nb" x="542.3" y="1794.5" width="222.0" height="40.1"/>
<text transform="matrix(1,0,0,1.08,653.3,1810.7)" x="-100.1 -93.1 -86.1 -79.1 -75.1 -71.1 -61.1 -53.1 -45.1 -36.1 -25.1 -18.1 -11.1 -4.1 2.9 9.9 16.9 20.9 24.9 34.9 41.9 45.9 56.9 63.9 70.9 77.9 84.9 91.9">ns3::HTTPMessage::GetMessage</text>
<text transform="matrix(1,0,0,1.08,653.3,1825.1)" x="-32.6 -23.6 -16.6 -9.6 -2.6 6.4 10.4 14.4 17.4 24.4">BodyString</text>
<rect class="nb" x="549.8" y="1860.5" width="206.9" height="25.3"/>
<text transform="matrix(1,0,0,1.08,653.2,1876.9)" x="-92.6 -85.6 -78.6 -71.6 -67.6 -63.6 -53.6 -45.6 -37.6 -28.6 -17.6 -10.6 -3.6 3.4 10.4 17.4 24.4 28.4 32.4 42.4 49.4 53.4 62.4 66.4 73.4 77.4 84.4">ns3::HTTPMessage::GetStatus</text>
<rect class="nr" x="531.6" y="1911.3" width="243.0" height="25.1"/>
<text transform="matrix(1,0,0,1.08,653.1,1927.5)" x="-110.6 -103.6 -96.6 -89.6 -85.6 -81.6 -71.6 -62.6 -52.6 -43.6 -36.6 -29.6 -22.6 -15.6 -8.6 -4.6 -0.6 9.4 16.4 20.4 29.4 36.4 43.4 50.4 58.4 62.4 69.4 80.4 89.4 100.4">ns3::QKDApp014::GetKeysFromKMS</text>
<rect class="nr" x="556.3" y="1962.6" width="193.8" height="40.0"/>
<text transform="matrix(1,0,0,1.08,653.2,1978.8)" x="-86.1 -79.1 -72.1 -65.1 -61.1 -57.1 -47.1 -38.1 -28.1 -19.1 -12.1 -5.1 1.9 8.9 15.9 19.9 23.9 33.9 40.9 47.9 54.9 61.9 70.9 77.9">ns3::QKDApp014::CheckApp</text>
<text transform="matrix(1,0,0,1.08,653.2,1993.1)" x="-16.1 -7.1 -3.1 3.9 7.9">State</text>
<rect class="nb" x="561.8" y="2027.9" width="182.9" height="40.1"/>
<text transform="matrix(1,0,0,1.08,653.2,2044.1)" x="-80.6 -73.6 -66.6 -59.6 -55.6 -51.6 -41.6 -32.6 -22.6 -13.6 -6.6 0.4 7.4 14.4 21.4 25.4 29.4 38.4 42.4 45.4 52.4 56.4 65.4 72.4">ns3::QKDApp014::PrintApp</text>
<text transform="matrix(1,0,0,1.08,653.2,2058.5)" x="-69.6 -60.6 -53.6 -49.6 -45.6 -38.6 -34.6 -25.6 -21.6 -14.6 -10.6 -3.6 3.4 7.4 14.4 18.4 25.4 29.4 40.4 47.4 51.4 54.4 61.4">BufferStatusInformation</text>
<rect class="nb" x="543.2" y="2092.9" width="220.2" height="40.4"/>
<text transform="matrix(1,0,0,1.08,653.3,2109.3)" x="-100.1 -93.1 -86.1 -79.1 -75.1 -71.1 -61.1 -52.1 -42.1 -33.1 -26.1 -19.1 -12.1 -5.1 1.9 5.9 9.9 18.9 22.9 25.9 32.9 36.9 44.9 51.9 62.9 69.9 76.9 80.9 87.9 91.9">ns3::QKDApp014::PrintTemporary</text>
<text transform="matrix(1,0,0,1.08,653.3,2123.7)" x="-50.6 -41.6 -34.6 -27.6 -18.6 -14.6 -7.6 -3.6 3.4 13.4 20.4 27.4 31.4 38.4 45.4">KeyStoreContent</text>
<rect class="nb" x="547.6" y="2158.5" width="211.3" height="40.0"/>
<text transform="matrix(1,0,0,1.08,653.2,2174.7)" x="-95.1 -88.1 -81.1 -74.1 -70.1 -66.1 -56.1 -47.1 -37.1 -28.1 -21.1 -14.1 -7.1 -0.1 6.9 10.9 14.9 24.9 31.9 42.9 49.9 56.9 63.9 72.9 79.9 86.9">ns3::QKDApp014::RemoveKeys</text>
<text transform="matrix(1,0,0,1.08,653.2,2189.1)" x="-73.6 -65.6 -61.6 -54.6 -43.6 -35.6 -28.6 -17.6 -10.6 -3.6 0.4 7.4 11.4 18.4 27.4 34.4 41.4 50.4 54.4 61.4 65.4">FromTemporaryKeyStore</text>
<rect class="nb" x="519.6" y="2224.6" width="267.0" height="25.6"/>
<text transform="matrix(1,0,0,1.08,653.1,2241.1)" x="-122.6 -115.6 -108.6 -101.6 -97.6 -93.6 -83.6 -74.6 -64.6 -55.6 -48.6 -41.6 -34.6 -27.6 -20.6 -16.6 -12.6 -2.6 4.4 11.4 18.4 25.4 32.4 36.4 45.4 49.4 56.4 63.4 70.4 77.4 84.4 91.4 98.4 107.4 114.4">ns3::QKDApp014::RequestProcessedApp</text>
<rect class="nb" x="550.4" y="2275.9" width="205.6" height="40.2"/>
<text transform="matrix(1,0,0,1.08,653.2,2292.2)" x="-92.1 -85.1 -78.1 -71.1 -67.1 -63.1 -53.1 -44.1 -34.1 -25.1 -18.1 -11.1 -4.1 2.9 9.9 13.9 17.9 26.9 33.9 40.9 49.9 56.9 60.9 67.9 76.9 83.9">ns3::QKDApp014::AddAuthKey</text>
<text transform="matrix(1,0,0,1.08,653.2,2306.6)" x="-33.1 -29.1 -22.1 -13.1 -6.1 0.9 9.9 13.9 20.9 24.9">InKeyStore</text>
<rect class="nb" x="552.4" y="2341.4" width="201.9" height="39.7"/>
<text transform="matrix(1,0,0,1.08,653.3,2357.4)" x="-90.1 -83.1 -76.1 -69.1 -65.1 -61.1 -51.1 -42.1 -32.1 -23.1 -16.1 -9.1 -2.1 4.9 11.9 15.9 19.9 28.9 35.9 42.9 51.9 58.9 65.9 74.9 81.9">ns3::QKDApp014::AddEncKey</text>
<text transform="matrix(1,0,0,1.08,653.3,2371.8)" x="-33.1 -29.1 -22.1 -13.1 -6.1 0.9 9.9 13.9 20.9 24.9">InKeyStore</text>
<rect class="nb" x="875.5" y="132.6" width="154.1" height="25.5"/>
<text transform="matrix(1,0,0,1.08,952.5,149.0)" x="-66.1 -59.1 -52.1 -45.1 -41.1 -37.1 -28.1 -21.1 -17.1 -13.1 -6.1 -2.1 1.9 5.9 14.9 21.9 28.9 37.9 41.9 50.9 57.9">ns3::Buffer::AddAtEnd</text>
<rect class="nb" x="856.0" y="292.7" width="193.0" height="25.4"/>
<text transform="matrix(1,0,0,1.08,952.5,309.1)" x="-86.1 -79.1 -72.1 -65.1 -61.1 -57.1 -48.1 -41.1 -37.1 -30.1 -22.1 -15.1 -8.1 -1.1 1.9 8.9 12.9 16.9 20.9 29.9 36.9 43.9 52.9 56.9 65.9 69.9 76.9 80.9">ns3::ByteTagList::AddAtStart</text>
<rect class="nb" x="858.9" y="343.3" width="187.2" height="25.1"/>
<text transform="matrix(1,0,0,1.08,952.5,359.6)" x="-83.6 -76.6 -69.6 -62.6 -58.6 -54.6 -45.6 -38.6 -34.6 -27.6 -19.6 -12.6 -5.6 1.4 4.4 11.4 15.4 19.4 23.4 32.4 39.4 46.4 55.4 59.4 68.4 75.4">ns3::ByteTagList::AddAtEnd</text>
<rect class="nb" x="879.0" y="573.2" width="147.3" height="40.1"/>
<text transform="matrix(1,0,0,1.08,952.6,589.4)" x="-62.6 -55.6 -48.6 -41.6 -37.6 -33.6 -24.6 -17.6 -10.6 -3.6 3.4 7.4 18.4 25.4 29.4 36.4 43.4 50.4 54.4">ns3::PacketMetadata</text>
<text transform="matrix(1,0,0,1.08,952.6,603.8)" x="-34.1 -30.1 -26.1 -17.1 -10.1 -3.1 5.9 9.9 18.9 25.9">::AddAtEnd</text>
<rect class="nb" x="876.8" y="736.4" width="151.5" height="25.8"/>
<text transform="matrix(1,0,0,1.08,952.5,753.0)" x="-65.6 -58.6 -51.6 -44.6 -40.6 -36.6 -27.6 -20.6 -16.6 -9.6 -1.6 5.4 12.4 19.4 22.4 29.4 33.4 37.4 41.4 50.4 57.4">ns3::ByteTagList::Add</text>
<rect class="nb" x="869.4" y="855.2" width="166.1" height="25.1"/>
<text transform="matrix(1,0,0,1.08,952.5,871.5)" x="-72.6 -65.6 -58.6 -51.6 -47.6 -43.6 -34.6 -27.6 -23.6 -16.6 -8.6 -1.6 5.4 12.4 15.4 22.4 26.4 30.4 34.4 43.4 50.4 53.4 60.4 67.4">ns3::ByteTagList::Adjust</text>
<rect class="nb" x="879.0" y="906.4" width="147.3" height="40.1"/>
<text transform="matrix(1,0,0,1.08,952.6,922.6)" x="-62.6 -55.6 -48.6 -41.6 -37.6 -33.6 -24.6 -17.6 -10.6 -3.6 3.4 7.4 18.4 25.4 29.4 36.4 43.4 50.4 54.4">ns3::PacketMetadata</text>
<text transform="matrix(1,0,0,1.08,952.6,937.0)" x="-49.6 -45.6 -41.6 -31.6 -24.6 -13.6 -6.6 0.4 7.4 16.4 20.4 29.4 33.4 40.4 44.4">::RemoveAtStart</text>
<rect class="nr" x="879.0" y="971.8" width="147.3" height="40.4"/>
<text transform="matrix(1,0,0,1.08,952.6,988.1)" x="-62.6 -55.6 -48.6 -41.6 -37.6 -33.6 -24.6 -17.6 -10.6 -3.6 3.4 7.4 18.4 25.4 29.4 36.4 43.4 50.4 54.4">ns3::PacketMetadata</text>
<text transform="matrix(1,0,0,1.08,952.6,1002.5)" x="-47.1 -43.1 -39.1 -29.1 -22.1 -11.1 -4.1 2.9 9.9 18.9 22.9 31.9 38.9">::RemoveAtEnd</text>
<rect class="nr" x="888.8" y="1139.0" width="127.5" height="25.6"/>
<text transform="matrix(1,0,0,1.08,952.5,1155.5)" x="-53.1 -46.1 -39.1 -32.1 -28.1 -24.1 -15.1 -8.1 -1.1 5.9 12.9 16.9 20.9 24.9 33.9 37.9 40.9 47.9">ns3::Packet::Print</text>
<rect class="nb" x="860.2" y="1189.9" width="184.5" height="25.3"/>
<text transform="matrix(1,0,0,1.08,952.5,1206.3)" x="-81.6 -74.6 -67.6 -60.6 -56.6 -52.6 -43.6 -36.6 -32.6 -28.6 -21.6 -17.6 -13.6 -9.6 0.4 7.4 18.4 25.4 32.4 39.4 48.4 52.4 61.4 65.4 72.4 76.4">ns3::Buffer::RemoveAtStart</text>
<rect class="nb" x="862.9" y="1291.2" width="179.4" height="25.3"/>
<text transform="matrix(1,0,0,1.08,952.6,1307.5)" x="-79.1 -72.1 -65.1 -58.1 -54.1 -50.1 -41.1 -34.1 -30.1 -26.1 -19.1 -15.1 -11.1 -7.1 2.9 9.9 20.9 27.9 34.9 41.9 50.9 54.9 63.9 70.9">ns3::Buffer::RemoveAtEnd</text>
<rect class="nb" x="863.5" y="1494.6" width="177.9" height="40.0"/>
<text transform="matrix(1,0,0,1.08,952.5,1510.8)" x="-78.1 -71.1 -64.1 -57.1 -53.1 -49.1 -39.1 -31.1 -23.1 -14.1 -3.1 3.9 10.9 17.9 24.9 31.9 38.9 47.9 54.9 58.9 65.9 72.9">ns3::HTTPMessageParser</text>
<text transform="matrix(1,0,0,1.08,952.5,1525.1)" x="-37.1 -33.1 -29.1 -26.1 -19.1 -12.1 -5.1 -2.1 0.9 7.9 17.9 24.9 31.9">::invalidChar</text>
<rect class="nb" x="879.0" y="1568.6" width="147.3" height="25.3"/>
<text transform="matrix(1,0,0,1.08,952.6,1585.0)" x="-63.1 -56.1 -49.1 -42.1 -38.1 -34.1 -25.1 -18.1 -11.1 -4.1 2.9 6.9 10.9 14.9 24.9 31.9 35.9 44.9 47.9 54.9">ns3::Packet::GetSize</text>
<rect class="nb" x="855.2" y="1681.7" width="194.9" height="25.5"/>
<text transform="matrix(1,0,0,1.08,952.6,1698.2)" x="-87.6 -80.6 -73.6 -66.6 -62.6 -58.6 -48.6 -40.6 -32.6 -23.6 -12.6 -5.6 1.4 8.4 15.4 22.4 29.4 33.4 37.4 45.4 52.4 61.4 65.4 69.4 72.4 79.4">ns3::HTTPMessage::ToString</text>
<rect class="nb" x="834.5" y="1933.3" width="236.2" height="39.8"/>
<text transform="matrix(1,0,0,1.08,952.6,1949.3)" x="-107.6 -100.6 -93.6 -86.6 -82.6 -78.6 -68.6 -59.6 -49.6 -40.6 -33.6 -26.6 -19.6 -12.6 -5.6 -1.6 2.4 12.4 19.4 23.4 32.4 39.4 43.4 50.4 57.4 64.4 68.4 71.4 78.4 85.4 89.4 92.4 99.4">ns3::QKDApp014::GetAuthentication</text>
<text transform="matrix(1,0,0,1.08,952.6,1963.7)" x="-25.1 -16.1 -9.1 -2.1 6.9 9.9 16.9">KeySize</text>
<rect class="nb" x="881.4" y="2217.8" width="142.2" height="25.5"/>
<text transform="matrix(1,0,0,1.08,952.5,2234.2)" x="-60.1 -53.1 -46.1 -39.1 -35.1 -31.1 -22.1 -15.1 -8.1 -1.1 5.9 9.9 13.9 17.9 27.9 34.9 38.9 48.9 51.9">ns3::Packet::GetUid</text>
<rect class="nr" x="1157.4" y="6.1" width="133.3" height="25.1"/>
<text transform="matrix(1,0,0,1.08,1224.1,22.3)" x="-56.1 -49.1 -42.1 -35.1 -31.1 -27.1 -18.1 -11.1 -7.1 -3.1 3.9 7.9 11.9 15.9 25.9 29.9 36.9 43.9 47.9">ns3::Buffer::Create</text>
<rect class="nb" x="1132.9" y="56.9" width="181.9" height="24.8"/>
<text transform="matrix(1,0,0,1.08,1223.8,73.0)" x="-80.1 -73.1 -66.1 -59.1 -55.1 -51.1 -42.1 -35.1 -31.1 -27.1 -20.1 -16.1 -12.1 -8.1 1.9 8.9 12.9 16.9 23.9 27.9 34.9 38.9 45.9 52.9 55.9 64.9 71.9">ns3::Buffer::GetInternalEnd</text>
<rect class="nb" x="1131.4" y="107.1" width="184.9" height="25.5"/>
<text transform="matrix(1,0,0,1.08,1223.8,123.5)" x="-81.6 -74.6 -67.6 -60.6 -56.6 -52.6 -43.6 -36.6 -32.6 -28.6 -21.6 -17.6 -13.6 -9.6 0.4 7.4 11.4 15.4 22.4 26.4 33.4 37.4 44.4 51.4 54.4 63.4 66.4 73.4">ns3::Buffer::GetInternalSize</text>
<rect class="nr" x="1152.2" y="158.1" width="143.2" height="25.1"/>
<text transform="matrix(1,0,0,1.08,1223.8,174.3)" x="-60.6 -53.6 -46.6 -39.6 -35.6 -31.6 -22.6 -15.6 -11.6 -7.6 -0.6 3.4 7.4 11.4 21.4 28.4 35.4 42.4 49.4 52.4">ns3::Buffer::Recycle</text>
<rect class="nr" x="1135.4" y="208.7" width="176.9" height="25.4"/>
<text transform="matrix(1,0,0,1.08,1223.8,225.1)" x="-78.1 -71.1 -64.1 -57.1 -53.1 -49.1 -40.1 -33.1 -29.1 -22.1 -14.1 -7.1 -0.1 6.9 9.9 16.9 20.9 24.9 28.9 37.9 44.9 51.9 54.9 61.9 70.9 73.9">ns3::ByteTagList::BeginAll</text>
<rect class="nb" x="1135.4" y="259.3" width="176.9" height="25.1"/>
<text transform="matrix(1,0,0,1.08,1223.8,275.6)" x="-78.1 -71.1 -64.1 -57.1 -53.1 -49.1 -41.1 -34.1 -27.1 -18.1 -11.1 -7.1 -3.1 3.9 7.9 11.9 15.9 25.9 32.9 39.9 46.9 54.9 58.9 65.9">ns3::TagBuffer::CopyFrom</text>
<rect class="nb" x="1138.7" y="310.8" width="170.3" height="39.7"/>
<text transform="matrix(1,0,0,1.08,1223.8,326.8)" x="-74.6 -67.6 -60.6 -53.6 -49.6 -45.6 -36.6 -29.6 -25.6 -18.6 -10.6 -3.6 3.4 10.4 13.4 20.4 24.4 28.4 32.4 36.4 40.4 47.4 51.4 58.4 62.4 69.4">ns3::ByteTagList::Iterator</text>
<text transform="matrix(1,0,0,1.08,1223.8,341.2)" x="-30.6 -26.6 -22.6 -12.6 -5.6 1.4 11.4 18.4 25.4">::HasNext</text>
<rect class="nb" x="1138.7" y="376.0" width="170.3" height="39.7"/>
<text transform="matrix(1,0,0,1.08,1223.8,392.0)" x="-74.6 -67.6 -60.6 -53.6 -49.6 -45.6 -36.6 -29.6 -25.6 -18.6 -10.6 -3.6 3.4 10.4 13.4 20.4 24.4 28.4 32.4 36.4 40.4 47.4 51.4 58.4 62.4 69.4">ns3::ByteTagList::Iterator</text>
<text transform="matrix(1,0,0,1.08,1223.8,406.4)" x="-18.6 -14.6 -10.6 -0.6 6.4 13.4">::Next</text>
<rect class="nr" x="1150.2" y="543.8" width="147.0" height="40.3"/>
<text transform="matrix(1,0,0,1.08,1223.7,560.1)" x="-62.6 -55.6 -48.6 -41.6 -37.6 -33.6 -24.6 -17.6 -10.6 -3.6 3.4 7.4 18.4 25.4 29.4 36.4 43.4 50.4 54.4">ns3::PacketMetadata</text>
<text transform="matrix(1,0,0,1.08,1223.7,574.5)" x="-39.1 -35.1 -31.1 -21.1 -14.1 -7.1 -4.1 2.9 9.9 16.9 24.9 31.9 34.9">::ReplaceTail</text>
<rect class="nb" x="1136.3" y="660.7" width="175.1" height="25.2"/>
<text transform="matrix(1,0,0,1.08,1223.8,677.0)" x="-77.6 -70.6 -63.6 -56.6 -52.6 -48.6 -39.6 -32.6 -28.6 -21.6 -13.6 -6.6 0.4 7.4 10.4 17.4 21.4 25.4 29.4 38.4 41.4 44.4 51.4 58.4 65.4 69.4">ns3::ByteTagList::Allocate</text>
<rect class="nb" x="1128.4" y="711.2" width="190.9" height="25.2"/>
<text transform="matrix(1,0,0,1.08,1223.8,727.5)" x="-85.1 -78.1 -71.1 -64.1 -60.1 -56.1 -47.1 -40.1 -36.1 -29.1 -21.1 -14.1 -7.1 -0.1 2.9 9.9 13.9 17.9 21.9 31.9 38.9 45.9 48.9 51.9 58.9 65.9 72.9 76.9">ns3::ByteTagList::Deallocate</text>
<rect class="nb" x="1154.2" y="761.7" width="139.3" height="25.5"/>
<text transform="matrix(1,0,0,1.08,1223.8,778.2)" x="-59.6 -52.6 -45.6 -38.6 -34.6 -30.6 -22.6 -15.6 -8.6 -1.6 2.4 9.4 13.4 17.4 27.4 34.4 38.4 48.4 51.4">ns3::TypeId::GetUid</text>
<rect class="nr" x="1138.9" y="812.2" width="170.2" height="25.5"/>
<text transform="matrix(1,0,0,1.08,1224.0,828.7)" x="-75.1 -68.1 -61.1 -54.1 -50.1 -46.1 -38.1 -31.1 -24.1 -15.1 -8.1 -4.1 -0.1 6.9 10.9 14.9 18.9 31.9 35.9 38.9 42.9 49.9 59.9 66.9">ns3::TagBuffer::WriteU32</text>
<rect class="nr" x="1150.2" y="965.1" width="147.0" height="39.8"/>
<text transform="matrix(1,0,0,1.08,1223.7,981.1)" x="-62.6 -55.6 -48.6 -41.6 -37.6 -33.6 -24.6 -17.6 -10.6 -3.6 3.4 7.4 18.4 25.4 29.4 36.4 43.4 50.4 54.4">ns3::PacketMetadata</text>
<text transform="matrix(1,0,0,1.08,1223.7,995.5)" x="-34.1 -30.1 -26.1 -22.1 -15.1 -6.1 -2.1 4.9 8.9 15.9 25.9">::IsStateOk</text>
<rect class="nb" x="1156.7" y="1183.3" width="134.8" height="25.2"/>
<text transform="matrix(1,0,0,1.08,1224.1,1199.6)" x="-57.6 -50.6 -47.6 -40.6 -33.6 -26.6 -23.6 -20.6 -13.6 -6.6 -2.6 1.4 8.4 15.4 19.4 26.4 30.4 37.4 41.4 48.4 52.4">visualizer.core.start</text>
<rect class="nb" x="1136.3" y="1258.7" width="175.1" height="40.0"/>
<text transform="matrix(1,0,0,1.08,1223.8,1274.9)" x="-77.1 -70.1 -63.1 -56.1 -52.1 -48.1 -39.1 -32.1 -28.1 -24.1 -17.1 -13.1 -9.1 -5.1 4.9 11.9 18.9 25.9 32.9 36.9 43.9 47.9 54.9 58.9 65.9 72.9">ns3::Buffer::CheckInternal</text>
<text transform="matrix(1,0,0,1.08,1223.8,1289.2)" x="-16.1 -7.1 -3.1 3.9 7.9">State</text>
<rect class="nb" x="1153.1" y="1443.2" width="141.8" height="25.2"/>
<text transform="matrix(1,0,0,1.08,1224.0,1459.5)" x="-60.1 -53.1 -46.1 -39.1 -35.1 -31.1 -22.1 -15.1 -11.1 -7.1 -0.1 3.9 7.9 11.9 21.9 28.9 32.9 41.9 44.9 51.9">ns3::Buffer::GetSize</text>
<rect class="nb" x="1118.2" y="1642.6" width="211.3" height="40.0"/>
<text transform="matrix(1,0,0,1.08,1223.8,1658.8)" x="-95.1 -88.1 -81.1 -74.1 -70.1 -66.1 -56.1 -48.1 -40.1 -31.1 -20.1 -13.1 -6.1 0.9 7.9 14.9 21.9 25.9 29.9 39.9 46.9 50.9 61.9 68.9 72.9 79.9 86.9">ns3::HTTPMessage::GetMethod</text>
<text transform="matrix(1,0,0,1.08,1223.8,1673.1)" x="-25.1 -17.1 -10.1 -1.1 2.9 6.9 9.9 16.9">ToString</text>
<rect class="nb" x="1130.9" y="1707.8" width="185.9" height="40.0"/>
<text transform="matrix(1,0,0,1.08,1223.8,1724.0)" x="-82.1 -75.1 -68.1 -61.1 -57.1 -53.1 -43.1 -35.1 -27.1 -18.1 -7.1 -0.1 6.9 13.9 20.9 27.9 34.9 38.9 42.9 51.9 55.9 62.9 66.9 73.9">ns3::HTTPMessage::Status</text>
<text transform="matrix(1,0,0,1.08,1223.8,1738.3)" x="-63.1 -55.1 -48.1 -41.1 -37.1 -29.1 -25.1 -18.1 -7.1 1.9 5.9 12.9 16.9 23.9 30.9 40.9 47.9 54.9">TextFromStatusCode</text>
<rect class="nb" x="1149.9" y="2210.5" width="147.8" height="40.0"/>
<text transform="matrix(1,0,0,1.08,1223.8,2226.7)" x="-62.6 -55.6 -48.6 -41.6 -37.6 -33.6 -24.6 -17.6 -10.6 -3.6 3.4 7.4 18.4 25.4 29.4 36.4 43.4 50.4 54.4">ns3::PacketMetadata</text>
<text transform="matrix(1,0,0,1.08,1223.8,2241.1)" x="-25.1 -21.1 -17.1 -7.1 -0.1 3.9 13.9 16.9">::GetUid</text>
<rect class="nr" x="1377.2" y="543.8" width="147.3" height="40.3"/>
<text transform="matrix(1,0,0,1.08,1450.8,560.1)" x="-62.6 -55.6 -48.6 -41.6 -37.6 -33.6 -24.6 -17.6 -10.6 -3.6 3.4 7.4 18.4 25.4 29.4 36.4 43.4 50.4 54.4">ns3::PacketMetadata</text>
<text transform="matrix(1,0,0,1.08,1450.8,574.5)" x="-36.1 -32.1 -28.1 -18.1 -11.1 -4.1 2.9 6.9 13.9 21.9 28.9 31.9">::UpdateTail</text>
<rect class="nr" x="1377.2" y="754.6" width="147.3" height="39.7"/>
<text transform="matrix(1,0,0,1.08,1450.8,770.6)" x="-62.6 -55.6 -48.6 -41.6 -37.6 -33.6 -24.6 -17.6 -10.6 -3.6 3.4 7.4 18.4 25.4 29.4 36.4 43.4 50.4 54.4">ns3::PacketMetadata</text>
<text transform="matrix(1,0,0,1.08,1450.8,785.0)" x="-25.6 -21.6 -17.6 -8.6 -1.6 5.4 14.4 17.4">::AddBig</text>
<rect class="nr" x="1377.2" y="965.1" width="147.3" height="39.8"/>
<text transform="matrix(1,0,0,1.08,1450.8,981.1)" x="-62.6 -55.6 -48.6 -41.6 -37.6 -33.6 -24.6 -17.6 -10.6 -3.6 3.4 7.4 18.4 25.4 29.4 36.4 43.4 50.4 54.4">ns3::PacketMetadata</text>
<text transform="matrix(1,0,0,1.08,1450.8,995.5)" x="-36.6 -32.6 -28.6 -18.6 -11.6 -4.6 2.4 6.4 10.4 17.4 28.4">::ReadItems</text>
<rect class="nr" x="1382.3" y="1175.9" width="136.8" height="40.3"/>
<text transform="matrix(1,0,0,1.08,1450.7,1192.2)" x="-58.1 -51.1 -48.1 -41.1 -34.1 -27.1 -24.1 -21.1 -14.1 -7.1 -3.1 0.9 7.9 14.9 21.9 28.9 32.9 35.9 42.9 49.9">visualizer.base.load</text>
<text transform="matrix(1,0,0,1.08,1450.7,1206.6)" x="-24.6 -17.6 -10.6 -7.6 -0.6 6.4 9.4 16.4">_plugins</text>
</svg></body></html>
